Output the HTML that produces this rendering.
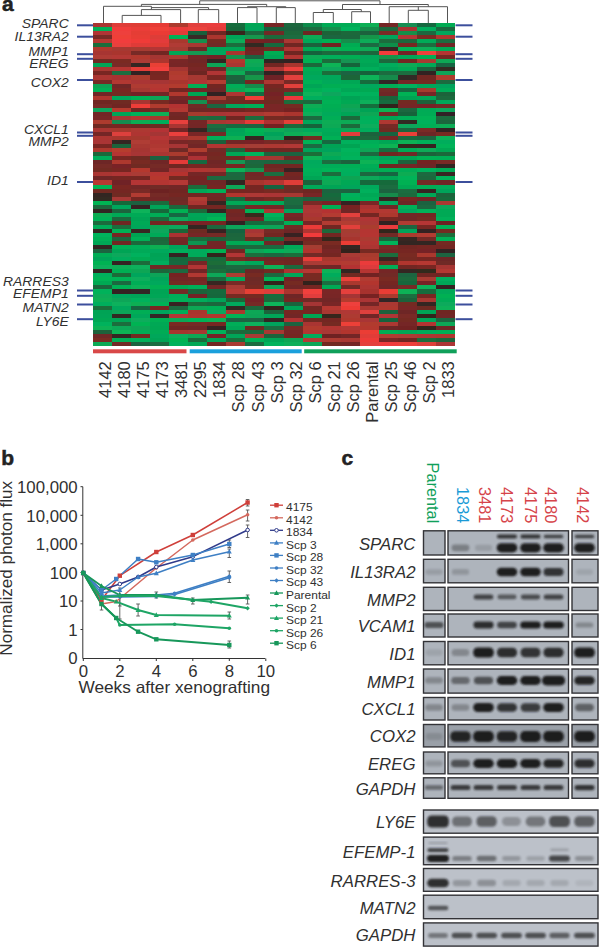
<!DOCTYPE html>
<html><head><meta charset="utf-8"><style>
html,body{margin:0;padding:0;background:#fff;width:600px;height:948px;overflow:hidden}
svg{display:block}
</style></head><body>
<svg width="600" height="948" viewBox="0 0 600 948">
<defs><filter id="hb" x="0" y="0" width="1" height="1"><feGaussianBlur stdDeviation="0.55" edgeMode="duplicate"/></filter><filter id="bl" x="-50%" y="-80%" width="200%" height="260%"><feGaussianBlur stdDeviation="1.1"/></filter></defs>
<style>
text{font-family:"Liberation Sans", sans-serif;fill:#303030}
.gi{font-style:italic;font-size:13px}
.cn{font-size:16.5px}
.ax{font-size:16px}
.ax2{font-size:16.3px}
.lg{font-size:11.5px}
.ci{font-style:italic;font-size:16px}
.cc{font-size:16px}
.pl{font-weight:bold;font-size:21px;fill:#222;stroke:#222;stroke-width:0.5}
</style>
<text x="2" y="10.7" class="pl">a</text>
<text x="1.3" y="465.2" class="pl">b</text>
<text x="341.5" y="464.8" class="pl">c</text>
<path d="M199.7 0.8L380 0.8 M199.7 0.8L199.7 4.4 M380 0.8L380 4.5 M141.4 4.4L266.7 4.4 M141.4 4.4L141.4 6.3 M103.5 6.3L151.4 6.3 M103.5 6.3L103.5 23 M151.4 7.6L208.6 7.6 M151.4 6.3L151.4 9.6 M141.4 9.6L180.6 9.6 M141.4 9.6L141.4 15.4 M180.6 9.6L180.6 23 M122.2 15.4L161 15.4 M122.2 15.4L122.2 23 M161 15.4L161 23 M208.6 7.6L208.6 9.6 M198.3 9.6L218.7 9.6 M198.3 9.6L198.3 23 M218.7 9.6L218.7 23 M266.7 4.4L266.7 6.7 M247.5 6.7L285.8 6.7 M247.5 6.7L247.5 7.6 M237.5 7.6L257 7.6 M237.5 7.6L237.5 23 M257 7.6L257 23 M285.8 6.7L285.8 7.6 M276.3 7.6L295.3 7.6 M276.3 7.6L276.3 23 M295.3 7.6L295.3 23 M342.5 4.5L428.3 4.5 M342.5 4.5L342.5 9.5 M323.3 9.5L361.3 9.5 M323.3 9.5L323.3 12.5 M313.3 12.5L333.3 12.5 M313.3 12.5L313.3 23 M333.3 12.5L333.3 23 M361.3 9.5L361.3 11.7 M351.7 11.7L370.5 11.7 M351.7 11.7L351.7 23 M370.5 11.7L370.5 23 M428.3 4.5L428.3 6.7 M389.2 6.7L447.5 6.7 M389.2 6.7L389.2 23 M447.5 6.7L447.5 23 M418.3 6.7L418.3 10.3 M408.3 10.3L428.3 10.3 M408.3 10.3L408.3 23 M428.3 10.3L428.3 23" stroke="#555" stroke-width="1" fill="none"/>
<g filter="url(#hb)"><g shape-rendering="crispEdges"><rect x="93.00" y="23.00" width="19.45" height="4.44" fill="rgb(170, 53, 51)"/><rect x="112.05" y="23.00" width="19.45" height="4.44" fill="rgb(222, 62, 56)"/><rect x="131.11" y="23.00" width="19.45" height="4.44" fill="rgb(222, 62, 54)"/><rect x="150.16" y="23.00" width="19.45" height="4.44" fill="rgb(230, 58, 54)"/><rect x="169.21" y="23.00" width="19.45" height="4.44" fill="rgb(172, 58, 47)"/><rect x="188.26" y="23.00" width="19.45" height="4.44" fill="rgb(225, 63, 61)"/><rect x="207.32" y="23.00" width="19.45" height="4.44" fill="rgb(233, 61, 62)"/><rect x="226.37" y="23.00" width="19.45" height="4.44" fill="rgb(25, 108, 60)"/><rect x="245.42" y="23.00" width="19.45" height="4.44" fill="rgb(4, 165, 85)"/><rect x="264.47" y="23.00" width="19.45" height="4.44" fill="rgb(120, 37, 37)"/><rect x="283.53" y="23.00" width="19.45" height="4.44" fill="rgb(28, 102, 62)"/><rect x="302.58" y="23.00" width="19.45" height="4.44" fill="rgb(17, 139, 75)"/><rect x="321.63" y="23.00" width="19.45" height="4.44" fill="rgb(6, 170, 85)"/><rect x="340.68" y="23.00" width="19.45" height="4.44" fill="rgb(6, 171, 85)"/><rect x="359.74" y="23.00" width="19.45" height="4.44" fill="rgb(7, 175, 85)"/><rect x="378.79" y="23.00" width="19.45" height="4.44" fill="rgb(116, 40, 39)"/><rect x="397.84" y="23.00" width="19.45" height="4.44" fill="rgb(21, 142, 82)"/><rect x="416.89" y="23.00" width="19.45" height="4.44" fill="rgb(25, 103, 64)"/><rect x="435.95" y="23.00" width="19.45" height="4.44" fill="rgb(4, 171, 82)"/><rect x="93.00" y="27.04" width="19.45" height="4.44" fill="rgb(6, 176, 88)"/><rect x="112.05" y="27.04" width="19.45" height="4.44" fill="rgb(240, 60, 59)"/><rect x="131.11" y="27.04" width="19.45" height="4.44" fill="rgb(234, 62, 57)"/><rect x="150.16" y="27.04" width="19.45" height="4.44" fill="rgb(239, 65, 57)"/><rect x="169.21" y="27.04" width="19.45" height="4.44" fill="rgb(235, 58, 59)"/><rect x="188.26" y="27.04" width="19.45" height="4.44" fill="rgb(235, 66, 60)"/><rect x="207.32" y="27.04" width="19.45" height="4.44" fill="rgb(227, 60, 59)"/><rect x="226.37" y="27.04" width="19.45" height="4.44" fill="rgb(25, 103, 59)"/><rect x="245.42" y="27.04" width="19.45" height="4.44" fill="rgb(4, 164, 90)"/><rect x="264.47" y="27.04" width="19.45" height="4.44" fill="rgb(25, 100, 61)"/><rect x="283.53" y="27.04" width="19.45" height="4.44" fill="rgb(30, 98, 61)"/><rect x="302.58" y="27.04" width="19.45" height="4.44" fill="rgb(28, 108, 64)"/><rect x="321.63" y="27.04" width="19.45" height="4.44" fill="rgb(22, 142, 77)"/><rect x="340.68" y="27.04" width="19.45" height="4.44" fill="rgb(5, 178, 92)"/><rect x="359.74" y="27.04" width="19.45" height="4.44" fill="rgb(18, 140, 75)"/><rect x="378.79" y="27.04" width="19.45" height="4.44" fill="rgb(26, 103, 62)"/><rect x="397.84" y="27.04" width="19.45" height="4.44" fill="rgb(169, 51, 49)"/><rect x="416.89" y="27.04" width="19.45" height="4.44" fill="rgb(5, 173, 92)"/><rect x="435.95" y="27.04" width="19.45" height="4.44" fill="rgb(29, 104, 63)"/><rect x="93.00" y="31.07" width="19.45" height="4.44" fill="rgb(177, 52, 53)"/><rect x="112.05" y="31.07" width="19.45" height="4.44" fill="rgb(238, 65, 60)"/><rect x="131.11" y="31.07" width="19.45" height="4.44" fill="rgb(229, 61, 54)"/><rect x="150.16" y="31.07" width="19.45" height="4.44" fill="rgb(234, 58, 54)"/><rect x="169.21" y="31.07" width="19.45" height="4.44" fill="rgb(225, 59, 56)"/><rect x="188.26" y="31.07" width="19.45" height="4.44" fill="rgb(25, 97, 58)"/><rect x="207.32" y="31.07" width="19.45" height="4.44" fill="rgb(110, 39, 33)"/><rect x="226.37" y="31.07" width="19.45" height="4.44" fill="rgb(55, 38, 31)"/><rect x="245.42" y="31.07" width="19.45" height="4.44" fill="rgb(26, 102, 60)"/><rect x="264.47" y="31.07" width="19.45" height="4.44" fill="rgb(111, 42, 40)"/><rect x="283.53" y="31.07" width="19.45" height="4.44" fill="rgb(27, 103, 58)"/><rect x="302.58" y="31.07" width="19.45" height="4.44" fill="rgb(110, 38, 35)"/><rect x="321.63" y="31.07" width="19.45" height="4.44" fill="rgb(30, 99, 57)"/><rect x="340.68" y="31.07" width="19.45" height="4.44" fill="rgb(30, 104, 58)"/><rect x="359.74" y="31.07" width="19.45" height="4.44" fill="rgb(28, 98, 62)"/><rect x="378.79" y="31.07" width="19.45" height="4.44" fill="rgb(122, 42, 38)"/><rect x="397.84" y="31.07" width="19.45" height="4.44" fill="rgb(18, 143, 74)"/><rect x="416.89" y="31.07" width="19.45" height="4.44" fill="rgb(29, 104, 64)"/><rect x="435.95" y="31.07" width="19.45" height="4.44" fill="rgb(5, 167, 91)"/><rect x="93.00" y="35.11" width="19.45" height="4.44" fill="rgb(122, 42, 39)"/><rect x="112.05" y="35.11" width="19.45" height="4.44" fill="rgb(239, 64, 55)"/><rect x="131.11" y="35.11" width="19.45" height="4.44" fill="rgb(232, 60, 53)"/><rect x="150.16" y="35.11" width="19.45" height="4.44" fill="rgb(221, 60, 55)"/><rect x="169.21" y="35.11" width="19.45" height="4.44" fill="rgb(6, 179, 87)"/><rect x="188.26" y="35.11" width="19.45" height="4.44" fill="rgb(55, 41, 37)"/><rect x="207.32" y="35.11" width="19.45" height="4.44" fill="rgb(171, 53, 47)"/><rect x="226.37" y="35.11" width="19.45" height="4.44" fill="rgb(4, 166, 89)"/><rect x="245.42" y="35.11" width="19.45" height="4.44" fill="rgb(22, 151, 77)"/><rect x="264.47" y="35.11" width="19.45" height="4.44" fill="rgb(28, 107, 58)"/><rect x="283.53" y="35.11" width="19.45" height="4.44" fill="rgb(28, 108, 64)"/><rect x="302.58" y="35.11" width="19.45" height="4.44" fill="rgb(7, 171, 84)"/><rect x="321.63" y="35.11" width="19.45" height="4.44" fill="rgb(29, 101, 64)"/><rect x="340.68" y="35.11" width="19.45" height="4.44" fill="rgb(30, 102, 61)"/><rect x="359.74" y="35.11" width="19.45" height="4.44" fill="rgb(22, 149, 74)"/><rect x="378.79" y="35.11" width="19.45" height="4.44" fill="rgb(4, 165, 92)"/><rect x="397.84" y="35.11" width="19.45" height="4.44" fill="rgb(179, 53, 52)"/><rect x="416.89" y="35.11" width="19.45" height="4.44" fill="rgb(122, 41, 35)"/><rect x="435.95" y="35.11" width="19.45" height="4.44" fill="rgb(174, 52, 46)"/><rect x="93.00" y="39.15" width="19.45" height="4.44" fill="rgb(182, 57, 50)"/><rect x="112.05" y="39.15" width="19.45" height="4.44" fill="rgb(241, 61, 61)"/><rect x="131.11" y="39.15" width="19.45" height="4.44" fill="rgb(239, 59, 55)"/><rect x="150.16" y="39.15" width="19.45" height="4.44" fill="rgb(227, 59, 58)"/><rect x="169.21" y="39.15" width="19.45" height="4.44" fill="rgb(169, 55, 47)"/><rect x="188.26" y="39.15" width="19.45" height="4.44" fill="rgb(22, 143, 77)"/><rect x="207.32" y="39.15" width="19.45" height="4.44" fill="rgb(117, 42, 36)"/><rect x="226.37" y="39.15" width="19.45" height="4.44" fill="rgb(7, 172, 88)"/><rect x="245.42" y="39.15" width="19.45" height="4.44" fill="rgb(116, 36, 36)"/><rect x="264.47" y="39.15" width="19.45" height="4.44" fill="rgb(111, 36, 39)"/><rect x="283.53" y="39.15" width="19.45" height="4.44" fill="rgb(168, 55, 51)"/><rect x="302.58" y="39.15" width="19.45" height="4.44" fill="rgb(6, 168, 88)"/><rect x="321.63" y="39.15" width="19.45" height="4.44" fill="rgb(6, 176, 83)"/><rect x="340.68" y="39.15" width="19.45" height="4.44" fill="rgb(20, 142, 75)"/><rect x="359.74" y="39.15" width="19.45" height="4.44" fill="rgb(7, 172, 88)"/><rect x="378.79" y="39.15" width="19.45" height="4.44" fill="rgb(29, 109, 61)"/><rect x="397.84" y="39.15" width="19.45" height="4.44" fill="rgb(28, 104, 62)"/><rect x="416.89" y="39.15" width="19.45" height="4.44" fill="rgb(6, 171, 88)"/><rect x="435.95" y="39.15" width="19.45" height="4.44" fill="rgb(27, 109, 63)"/><rect x="93.00" y="43.19" width="19.45" height="4.44" fill="rgb(30, 109, 59)"/><rect x="112.05" y="43.19" width="19.45" height="4.44" fill="rgb(233, 65, 60)"/><rect x="131.11" y="43.19" width="19.45" height="4.44" fill="rgb(223, 58, 57)"/><rect x="150.16" y="43.19" width="19.45" height="4.44" fill="rgb(222, 59, 54)"/><rect x="169.21" y="43.19" width="19.45" height="4.44" fill="rgb(176, 58, 53)"/><rect x="188.26" y="43.19" width="19.45" height="4.44" fill="rgb(167, 57, 51)"/><rect x="207.32" y="43.19" width="19.45" height="4.44" fill="rgb(111, 42, 40)"/><rect x="226.37" y="43.19" width="19.45" height="4.44" fill="rgb(26, 109, 61)"/><rect x="245.42" y="43.19" width="19.45" height="4.44" fill="rgb(51, 41, 36)"/><rect x="264.47" y="43.19" width="19.45" height="4.44" fill="rgb(25, 103, 62)"/><rect x="283.53" y="43.19" width="19.45" height="4.44" fill="rgb(113, 37, 35)"/><rect x="302.58" y="43.19" width="19.45" height="4.44" fill="rgb(29, 98, 62)"/><rect x="321.63" y="43.19" width="19.45" height="4.44" fill="rgb(115, 36, 35)"/><rect x="340.68" y="43.19" width="19.45" height="4.44" fill="rgb(6, 172, 83)"/><rect x="359.74" y="43.19" width="19.45" height="4.44" fill="rgb(31, 107, 66)"/><rect x="378.79" y="43.19" width="19.45" height="4.44" fill="rgb(17, 142, 73)"/><rect x="397.84" y="43.19" width="19.45" height="4.44" fill="rgb(119, 38, 34)"/><rect x="416.89" y="43.19" width="19.45" height="4.44" fill="rgb(27, 109, 64)"/><rect x="435.95" y="43.19" width="19.45" height="4.44" fill="rgb(112, 37, 39)"/><rect x="93.00" y="47.22" width="19.45" height="4.44" fill="rgb(175, 57, 46)"/><rect x="112.05" y="47.22" width="19.45" height="4.44" fill="rgb(166, 57, 49)"/><rect x="131.11" y="47.22" width="19.45" height="4.44" fill="rgb(166, 59, 51)"/><rect x="150.16" y="47.22" width="19.45" height="4.44" fill="rgb(179, 52, 52)"/><rect x="169.21" y="47.22" width="19.45" height="4.44" fill="rgb(166, 59, 49)"/><rect x="188.26" y="47.22" width="19.45" height="4.44" fill="rgb(113, 40, 39)"/><rect x="207.32" y="47.22" width="19.45" height="4.44" fill="rgb(4, 165, 88)"/><rect x="226.37" y="47.22" width="19.45" height="4.44" fill="rgb(4, 165, 84)"/><rect x="245.42" y="47.22" width="19.45" height="4.44" fill="rgb(110, 37, 35)"/><rect x="264.47" y="47.22" width="19.45" height="4.44" fill="rgb(113, 41, 35)"/><rect x="283.53" y="47.22" width="19.45" height="4.44" fill="rgb(174, 53, 48)"/><rect x="302.58" y="47.22" width="19.45" height="4.44" fill="rgb(3, 167, 82)"/><rect x="321.63" y="47.22" width="19.45" height="4.44" fill="rgb(7, 172, 84)"/><rect x="340.68" y="47.22" width="19.45" height="4.44" fill="rgb(5, 179, 83)"/><rect x="359.74" y="47.22" width="19.45" height="4.44" fill="rgb(7, 170, 87)"/><rect x="378.79" y="47.22" width="19.45" height="4.44" fill="rgb(54, 37, 34)"/><rect x="397.84" y="47.22" width="19.45" height="4.44" fill="rgb(6, 180, 86)"/><rect x="416.89" y="47.22" width="19.45" height="4.44" fill="rgb(7, 175, 89)"/><rect x="435.95" y="47.22" width="19.45" height="4.44" fill="rgb(5, 169, 83)"/><rect x="93.00" y="51.26" width="19.45" height="4.44" fill="rgb(167, 52, 51)"/><rect x="112.05" y="51.26" width="19.45" height="4.44" fill="rgb(169, 53, 46)"/><rect x="131.11" y="51.26" width="19.45" height="4.44" fill="rgb(120, 42, 38)"/><rect x="150.16" y="51.26" width="19.45" height="4.44" fill="rgb(113, 38, 35)"/><rect x="169.21" y="51.26" width="19.45" height="4.44" fill="rgb(5, 166, 87)"/><rect x="188.26" y="51.26" width="19.45" height="4.44" fill="rgb(18, 153, 82)"/><rect x="207.32" y="51.26" width="19.45" height="4.44" fill="rgb(6, 167, 93)"/><rect x="226.37" y="51.26" width="19.45" height="4.44" fill="rgb(170, 54, 46)"/><rect x="245.42" y="51.26" width="19.45" height="4.44" fill="rgb(114, 39, 37)"/><rect x="264.47" y="51.26" width="19.45" height="4.44" fill="rgb(4, 172, 82)"/><rect x="283.53" y="51.26" width="19.45" height="4.44" fill="rgb(112, 37, 36)"/><rect x="302.58" y="51.26" width="19.45" height="4.44" fill="rgb(25, 98, 60)"/><rect x="321.63" y="51.26" width="19.45" height="4.44" fill="rgb(26, 105, 62)"/><rect x="340.68" y="51.26" width="19.45" height="4.44" fill="rgb(29, 105, 63)"/><rect x="359.74" y="51.26" width="19.45" height="4.44" fill="rgb(30, 102, 60)"/><rect x="378.79" y="51.26" width="19.45" height="4.44" fill="rgb(242, 58, 59)"/><rect x="397.84" y="51.26" width="19.45" height="4.44" fill="rgb(117, 36, 39)"/><rect x="416.89" y="51.26" width="19.45" height="4.44" fill="rgb(240, 63, 59)"/><rect x="435.95" y="51.26" width="19.45" height="4.44" fill="rgb(179, 52, 50)"/><rect x="93.00" y="55.30" width="19.45" height="4.44" fill="rgb(174, 58, 52)"/><rect x="112.05" y="55.30" width="19.45" height="4.44" fill="rgb(179, 56, 53)"/><rect x="131.11" y="55.30" width="19.45" height="4.44" fill="rgb(177, 57, 47)"/><rect x="150.16" y="55.30" width="19.45" height="4.44" fill="rgb(165, 52, 48)"/><rect x="169.21" y="55.30" width="19.45" height="4.44" fill="rgb(167, 58, 50)"/><rect x="188.26" y="55.30" width="19.45" height="4.44" fill="rgb(117, 40, 38)"/><rect x="207.32" y="55.30" width="19.45" height="4.44" fill="rgb(115, 36, 39)"/><rect x="226.37" y="55.30" width="19.45" height="4.44" fill="rgb(21, 146, 78)"/><rect x="245.42" y="55.30" width="19.45" height="4.44" fill="rgb(28, 98, 64)"/><rect x="264.47" y="55.30" width="19.45" height="4.44" fill="rgb(4, 164, 85)"/><rect x="283.53" y="55.30" width="19.45" height="4.44" fill="rgb(178, 53, 51)"/><rect x="302.58" y="55.30" width="19.45" height="4.44" fill="rgb(8, 171, 86)"/><rect x="321.63" y="55.30" width="19.45" height="4.44" fill="rgb(5, 175, 90)"/><rect x="340.68" y="55.30" width="19.45" height="4.44" fill="rgb(6, 174, 83)"/><rect x="359.74" y="55.30" width="19.45" height="4.44" fill="rgb(4, 167, 90)"/><rect x="378.79" y="55.30" width="19.45" height="4.44" fill="rgb(18, 147, 73)"/><rect x="397.84" y="55.30" width="19.45" height="4.44" fill="rgb(4, 167, 89)"/><rect x="416.89" y="55.30" width="19.45" height="4.44" fill="rgb(6, 175, 85)"/><rect x="435.95" y="55.30" width="19.45" height="4.44" fill="rgb(116, 39, 36)"/><rect x="93.00" y="59.34" width="19.45" height="4.44" fill="rgb(111, 42, 34)"/><rect x="112.05" y="59.34" width="19.45" height="4.44" fill="rgb(122, 43, 33)"/><rect x="131.11" y="59.34" width="19.45" height="4.44" fill="rgb(173, 58, 53)"/><rect x="150.16" y="59.34" width="19.45" height="4.44" fill="rgb(173, 54, 47)"/><rect x="169.21" y="59.34" width="19.45" height="4.44" fill="rgb(121, 37, 37)"/><rect x="188.26" y="59.34" width="19.45" height="4.44" fill="rgb(111, 40, 40)"/><rect x="207.32" y="59.34" width="19.45" height="4.44" fill="rgb(49, 40, 34)"/><rect x="226.37" y="59.34" width="19.45" height="4.44" fill="rgb(180, 57, 47)"/><rect x="245.42" y="59.34" width="19.45" height="4.44" fill="rgb(7, 171, 82)"/><rect x="264.47" y="59.34" width="19.45" height="4.44" fill="rgb(47, 37, 33)"/><rect x="283.53" y="59.34" width="19.45" height="4.44" fill="rgb(50, 35, 32)"/><rect x="302.58" y="59.34" width="19.45" height="4.44" fill="rgb(5, 177, 82)"/><rect x="321.63" y="59.34" width="19.45" height="4.44" fill="rgb(29, 108, 58)"/><rect x="340.68" y="59.34" width="19.45" height="4.44" fill="rgb(22, 149, 82)"/><rect x="359.74" y="59.34" width="19.45" height="4.44" fill="rgb(5, 169, 86)"/><rect x="378.79" y="59.34" width="19.45" height="4.44" fill="rgb(31, 105, 60)"/><rect x="397.84" y="59.34" width="19.45" height="4.44" fill="rgb(115, 38, 33)"/><rect x="416.89" y="59.34" width="19.45" height="4.44" fill="rgb(166, 58, 48)"/><rect x="435.95" y="59.34" width="19.45" height="4.44" fill="rgb(7, 167, 85)"/><rect x="93.00" y="63.38" width="19.45" height="4.44" fill="rgb(6, 166, 86)"/><rect x="112.05" y="63.38" width="19.45" height="4.44" fill="rgb(121, 42, 39)"/><rect x="131.11" y="63.38" width="19.45" height="4.44" fill="rgb(53, 40, 36)"/><rect x="150.16" y="63.38" width="19.45" height="4.44" fill="rgb(233, 63, 54)"/><rect x="169.21" y="63.38" width="19.45" height="4.44" fill="rgb(119, 39, 38)"/><rect x="188.26" y="63.38" width="19.45" height="4.44" fill="rgb(117, 38, 33)"/><rect x="207.32" y="63.38" width="19.45" height="4.44" fill="rgb(7, 165, 87)"/><rect x="226.37" y="63.38" width="19.45" height="4.44" fill="rgb(171, 54, 51)"/><rect x="245.42" y="63.38" width="19.45" height="4.44" fill="rgb(8, 167, 89)"/><rect x="264.47" y="63.38" width="19.45" height="4.44" fill="rgb(113, 40, 36)"/><rect x="283.53" y="63.38" width="19.45" height="4.44" fill="rgb(168, 53, 47)"/><rect x="302.58" y="63.38" width="19.45" height="4.44" fill="rgb(30, 103, 59)"/><rect x="321.63" y="63.38" width="19.45" height="4.44" fill="rgb(7, 180, 87)"/><rect x="340.68" y="63.38" width="19.45" height="4.44" fill="rgb(25, 100, 58)"/><rect x="359.74" y="63.38" width="19.45" height="4.44" fill="rgb(5, 164, 85)"/><rect x="378.79" y="63.38" width="19.45" height="4.44" fill="rgb(4, 173, 92)"/><rect x="397.84" y="63.38" width="19.45" height="4.44" fill="rgb(7, 170, 87)"/><rect x="416.89" y="63.38" width="19.45" height="4.44" fill="rgb(6, 169, 86)"/><rect x="435.95" y="63.38" width="19.45" height="4.44" fill="rgb(25, 101, 66)"/><rect x="93.00" y="67.41" width="19.45" height="4.44" fill="rgb(167, 56, 51)"/><rect x="112.05" y="67.41" width="19.45" height="4.44" fill="rgb(180, 53, 48)"/><rect x="131.11" y="67.41" width="19.45" height="4.44" fill="rgb(226, 61, 57)"/><rect x="150.16" y="67.41" width="19.45" height="4.44" fill="rgb(242, 65, 61)"/><rect x="169.21" y="67.41" width="19.45" height="4.44" fill="rgb(165, 52, 51)"/><rect x="188.26" y="67.41" width="19.45" height="4.44" fill="rgb(121, 39, 37)"/><rect x="207.32" y="67.41" width="19.45" height="4.44" fill="rgb(109, 39, 39)"/><rect x="226.37" y="67.41" width="19.45" height="4.44" fill="rgb(21, 151, 82)"/><rect x="245.42" y="67.41" width="19.45" height="4.44" fill="rgb(4, 165, 84)"/><rect x="264.47" y="67.41" width="19.45" height="4.44" fill="rgb(174, 57, 53)"/><rect x="283.53" y="67.41" width="19.45" height="4.44" fill="rgb(236, 63, 60)"/><rect x="302.58" y="67.41" width="19.45" height="4.44" fill="rgb(5, 172, 82)"/><rect x="321.63" y="67.41" width="19.45" height="4.44" fill="rgb(7, 167, 92)"/><rect x="340.68" y="67.41" width="19.45" height="4.44" fill="rgb(6, 168, 83)"/><rect x="359.74" y="67.41" width="19.45" height="4.44" fill="rgb(4, 174, 90)"/><rect x="378.79" y="67.41" width="19.45" height="4.44" fill="rgb(4, 164, 88)"/><rect x="397.84" y="67.41" width="19.45" height="4.44" fill="rgb(6, 170, 84)"/><rect x="416.89" y="67.41" width="19.45" height="4.44" fill="rgb(28, 98, 60)"/><rect x="435.95" y="67.41" width="19.45" height="4.44" fill="rgb(51, 41, 34)"/><rect x="93.00" y="71.45" width="19.45" height="4.44" fill="rgb(121, 39, 35)"/><rect x="112.05" y="71.45" width="19.45" height="4.44" fill="rgb(26, 109, 63)"/><rect x="131.11" y="71.45" width="19.45" height="4.44" fill="rgb(50, 34, 33)"/><rect x="150.16" y="71.45" width="19.45" height="4.44" fill="rgb(118, 39, 35)"/><rect x="169.21" y="71.45" width="19.45" height="4.44" fill="rgb(176, 59, 47)"/><rect x="188.26" y="71.45" width="19.45" height="4.44" fill="rgb(109, 38, 36)"/><rect x="207.32" y="71.45" width="19.45" height="4.44" fill="rgb(177, 53, 52)"/><rect x="226.37" y="71.45" width="19.45" height="4.44" fill="rgb(7, 172, 84)"/><rect x="245.42" y="71.45" width="19.45" height="4.44" fill="rgb(30, 101, 64)"/><rect x="264.47" y="71.45" width="19.45" height="4.44" fill="rgb(49, 36, 35)"/><rect x="283.53" y="71.45" width="19.45" height="4.44" fill="rgb(113, 43, 36)"/><rect x="302.58" y="71.45" width="19.45" height="4.44" fill="rgb(4, 167, 87)"/><rect x="321.63" y="71.45" width="19.45" height="4.44" fill="rgb(29, 109, 58)"/><rect x="340.68" y="71.45" width="19.45" height="4.44" fill="rgb(27, 100, 66)"/><rect x="359.74" y="71.45" width="19.45" height="4.44" fill="rgb(25, 98, 58)"/><rect x="378.79" y="71.45" width="19.45" height="4.44" fill="rgb(27, 108, 65)"/><rect x="397.84" y="71.45" width="19.45" height="4.44" fill="rgb(29, 110, 65)"/><rect x="416.89" y="71.45" width="19.45" height="4.44" fill="rgb(50, 35, 36)"/><rect x="435.95" y="71.45" width="19.45" height="4.44" fill="rgb(7, 163, 89)"/><rect x="93.00" y="75.49" width="19.45" height="4.44" fill="rgb(171, 54, 48)"/><rect x="112.05" y="75.49" width="19.45" height="4.44" fill="rgb(168, 51, 48)"/><rect x="131.11" y="75.49" width="19.45" height="4.44" fill="rgb(171, 59, 47)"/><rect x="150.16" y="75.49" width="19.45" height="4.44" fill="rgb(122, 37, 36)"/><rect x="169.21" y="75.49" width="19.45" height="4.44" fill="rgb(179, 58, 49)"/><rect x="188.26" y="75.49" width="19.45" height="4.44" fill="rgb(166, 55, 48)"/><rect x="207.32" y="75.49" width="19.45" height="4.44" fill="rgb(121, 37, 36)"/><rect x="226.37" y="75.49" width="19.45" height="4.44" fill="rgb(30, 98, 61)"/><rect x="245.42" y="75.49" width="19.45" height="4.44" fill="rgb(21, 150, 73)"/><rect x="264.47" y="75.49" width="19.45" height="4.44" fill="rgb(109, 36, 39)"/><rect x="283.53" y="75.49" width="19.45" height="4.44" fill="rgb(226, 64, 61)"/><rect x="302.58" y="75.49" width="19.45" height="4.44" fill="rgb(5, 168, 92)"/><rect x="321.63" y="75.49" width="19.45" height="4.44" fill="rgb(6, 167, 90)"/><rect x="340.68" y="75.49" width="19.45" height="4.44" fill="rgb(26, 101, 57)"/><rect x="359.74" y="75.49" width="19.45" height="4.44" fill="rgb(7, 179, 89)"/><rect x="378.79" y="75.49" width="19.45" height="4.44" fill="rgb(22, 138, 75)"/><rect x="397.84" y="75.49" width="19.45" height="4.44" fill="rgb(51, 41, 37)"/><rect x="416.89" y="75.49" width="19.45" height="4.44" fill="rgb(114, 38, 36)"/><rect x="435.95" y="75.49" width="19.45" height="4.44" fill="rgb(173, 59, 47)"/><rect x="93.00" y="79.52" width="19.45" height="4.44" fill="rgb(119, 41, 39)"/><rect x="112.05" y="79.52" width="19.45" height="4.44" fill="rgb(178, 56, 48)"/><rect x="131.11" y="79.52" width="19.45" height="4.44" fill="rgb(170, 54, 52)"/><rect x="150.16" y="79.52" width="19.45" height="4.44" fill="rgb(166, 53, 52)"/><rect x="169.21" y="79.52" width="19.45" height="4.44" fill="rgb(169, 52, 46)"/><rect x="188.26" y="79.52" width="19.45" height="4.44" fill="rgb(174, 54, 53)"/><rect x="207.32" y="79.52" width="19.45" height="4.44" fill="rgb(180, 60, 48)"/><rect x="226.37" y="79.52" width="19.45" height="4.44" fill="rgb(25, 99, 61)"/><rect x="245.42" y="79.52" width="19.45" height="4.44" fill="rgb(118, 39, 35)"/><rect x="264.47" y="79.52" width="19.45" height="4.44" fill="rgb(172, 57, 51)"/><rect x="283.53" y="79.52" width="19.45" height="4.44" fill="rgb(119, 42, 38)"/><rect x="302.58" y="79.52" width="19.45" height="4.44" fill="rgb(4, 177, 85)"/><rect x="321.63" y="79.52" width="19.45" height="4.44" fill="rgb(6, 169, 90)"/><rect x="340.68" y="79.52" width="19.45" height="4.44" fill="rgb(4, 167, 85)"/><rect x="359.74" y="79.52" width="19.45" height="4.44" fill="rgb(25, 108, 62)"/><rect x="378.79" y="79.52" width="19.45" height="4.44" fill="rgb(50, 37, 37)"/><rect x="397.84" y="79.52" width="19.45" height="4.44" fill="rgb(116, 38, 39)"/><rect x="416.89" y="79.52" width="19.45" height="4.44" fill="rgb(118, 43, 34)"/><rect x="435.95" y="79.52" width="19.45" height="4.44" fill="rgb(27, 107, 65)"/><rect x="93.00" y="83.56" width="19.45" height="4.44" fill="rgb(7, 163, 85)"/><rect x="112.05" y="83.56" width="19.45" height="4.44" fill="rgb(111, 37, 40)"/><rect x="131.11" y="83.56" width="19.45" height="4.44" fill="rgb(175, 59, 48)"/><rect x="150.16" y="83.56" width="19.45" height="4.44" fill="rgb(180, 55, 48)"/><rect x="169.21" y="83.56" width="19.45" height="4.44" fill="rgb(178, 59, 46)"/><rect x="188.26" y="83.56" width="19.45" height="4.44" fill="rgb(6, 174, 84)"/><rect x="207.32" y="83.56" width="19.45" height="4.44" fill="rgb(114, 37, 34)"/><rect x="226.37" y="83.56" width="19.45" height="4.44" fill="rgb(4, 173, 89)"/><rect x="245.42" y="83.56" width="19.45" height="4.44" fill="rgb(18, 138, 76)"/><rect x="264.47" y="83.56" width="19.45" height="4.44" fill="rgb(118, 37, 35)"/><rect x="283.53" y="83.56" width="19.45" height="4.44" fill="rgb(225, 64, 58)"/><rect x="302.58" y="83.56" width="19.45" height="4.44" fill="rgb(4, 165, 86)"/><rect x="321.63" y="83.56" width="19.45" height="4.44" fill="rgb(6, 174, 83)"/><rect x="340.68" y="83.56" width="19.45" height="4.44" fill="rgb(4, 175, 87)"/><rect x="359.74" y="83.56" width="19.45" height="4.44" fill="rgb(5, 168, 92)"/><rect x="378.79" y="83.56" width="19.45" height="4.44" fill="rgb(5, 173, 86)"/><rect x="397.84" y="83.56" width="19.45" height="4.44" fill="rgb(5, 178, 93)"/><rect x="416.89" y="83.56" width="19.45" height="4.44" fill="rgb(5, 166, 90)"/><rect x="435.95" y="83.56" width="19.45" height="4.44" fill="rgb(4, 163, 92)"/><rect x="93.00" y="87.60" width="19.45" height="4.44" fill="rgb(5, 177, 86)"/><rect x="112.05" y="87.60" width="19.45" height="4.44" fill="rgb(121, 39, 34)"/><rect x="131.11" y="87.60" width="19.45" height="4.44" fill="rgb(165, 56, 51)"/><rect x="150.16" y="87.60" width="19.45" height="4.44" fill="rgb(181, 52, 50)"/><rect x="169.21" y="87.60" width="19.45" height="4.44" fill="rgb(114, 40, 34)"/><rect x="188.26" y="87.60" width="19.45" height="4.44" fill="rgb(113, 40, 39)"/><rect x="207.32" y="87.60" width="19.45" height="4.44" fill="rgb(110, 39, 39)"/><rect x="226.37" y="87.60" width="19.45" height="4.44" fill="rgb(8, 166, 83)"/><rect x="245.42" y="87.60" width="19.45" height="4.44" fill="rgb(7, 180, 87)"/><rect x="264.47" y="87.60" width="19.45" height="4.44" fill="rgb(110, 43, 36)"/><rect x="283.53" y="87.60" width="19.45" height="4.44" fill="rgb(121, 40, 39)"/><rect x="302.58" y="87.60" width="19.45" height="4.44" fill="rgb(4, 176, 84)"/><rect x="321.63" y="87.60" width="19.45" height="4.44" fill="rgb(5, 178, 91)"/><rect x="340.68" y="87.60" width="19.45" height="4.44" fill="rgb(4, 167, 86)"/><rect x="359.74" y="87.60" width="19.45" height="4.44" fill="rgb(6, 169, 83)"/><rect x="378.79" y="87.60" width="19.45" height="4.44" fill="rgb(112, 41, 39)"/><rect x="397.84" y="87.60" width="19.45" height="4.44" fill="rgb(25, 104, 64)"/><rect x="416.89" y="87.60" width="19.45" height="4.44" fill="rgb(165, 58, 46)"/><rect x="435.95" y="87.60" width="19.45" height="4.44" fill="rgb(6, 172, 89)"/><rect x="93.00" y="91.64" width="19.45" height="4.44" fill="rgb(113, 39, 37)"/><rect x="112.05" y="91.64" width="19.45" height="4.44" fill="rgb(115, 41, 36)"/><rect x="131.11" y="91.64" width="19.45" height="4.44" fill="rgb(115, 36, 37)"/><rect x="150.16" y="91.64" width="19.45" height="4.44" fill="rgb(115, 38, 38)"/><rect x="169.21" y="91.64" width="19.45" height="4.44" fill="rgb(178, 55, 47)"/><rect x="188.26" y="91.64" width="19.45" height="4.44" fill="rgb(5, 165, 83)"/><rect x="207.32" y="91.64" width="19.45" height="4.44" fill="rgb(51, 35, 33)"/><rect x="226.37" y="91.64" width="19.45" height="4.44" fill="rgb(174, 52, 51)"/><rect x="245.42" y="91.64" width="19.45" height="4.44" fill="rgb(25, 106, 64)"/><rect x="264.47" y="91.64" width="19.45" height="4.44" fill="rgb(116, 36, 37)"/><rect x="283.53" y="91.64" width="19.45" height="4.44" fill="rgb(27, 109, 58)"/><rect x="302.58" y="91.64" width="19.45" height="4.44" fill="rgb(7, 180, 90)"/><rect x="321.63" y="91.64" width="19.45" height="4.44" fill="rgb(7, 166, 93)"/><rect x="340.68" y="91.64" width="19.45" height="4.44" fill="rgb(5, 179, 92)"/><rect x="359.74" y="91.64" width="19.45" height="4.44" fill="rgb(4, 177, 92)"/><rect x="378.79" y="91.64" width="19.45" height="4.44" fill="rgb(110, 38, 38)"/><rect x="397.84" y="91.64" width="19.45" height="4.44" fill="rgb(4, 178, 85)"/><rect x="416.89" y="91.64" width="19.45" height="4.44" fill="rgb(120, 37, 37)"/><rect x="435.95" y="91.64" width="19.45" height="4.44" fill="rgb(30, 100, 59)"/><rect x="93.00" y="95.67" width="19.45" height="4.44" fill="rgb(174, 54, 46)"/><rect x="112.05" y="95.67" width="19.45" height="4.44" fill="rgb(4, 166, 92)"/><rect x="131.11" y="95.67" width="19.45" height="4.44" fill="rgb(6, 178, 84)"/><rect x="150.16" y="95.67" width="19.45" height="4.44" fill="rgb(7, 165, 88)"/><rect x="169.21" y="95.67" width="19.45" height="4.44" fill="rgb(117, 38, 39)"/><rect x="188.26" y="95.67" width="19.45" height="4.44" fill="rgb(116, 40, 39)"/><rect x="207.32" y="95.67" width="19.45" height="4.44" fill="rgb(167, 60, 51)"/><rect x="226.37" y="95.67" width="19.45" height="4.44" fill="rgb(114, 42, 35)"/><rect x="245.42" y="95.67" width="19.45" height="4.44" fill="rgb(242, 62, 56)"/><rect x="264.47" y="95.67" width="19.45" height="4.44" fill="rgb(119, 39, 34)"/><rect x="283.53" y="95.67" width="19.45" height="4.44" fill="rgb(237, 57, 60)"/><rect x="302.58" y="95.67" width="19.45" height="4.44" fill="rgb(4, 174, 93)"/><rect x="321.63" y="95.67" width="19.45" height="4.44" fill="rgb(6, 174, 85)"/><rect x="340.68" y="95.67" width="19.45" height="4.44" fill="rgb(3, 163, 84)"/><rect x="359.74" y="95.67" width="19.45" height="4.44" fill="rgb(6, 170, 88)"/><rect x="378.79" y="95.67" width="19.45" height="4.44" fill="rgb(30, 99, 59)"/><rect x="397.84" y="95.67" width="19.45" height="4.44" fill="rgb(6, 163, 82)"/><rect x="416.89" y="95.67" width="19.45" height="4.44" fill="rgb(5, 165, 86)"/><rect x="435.95" y="95.67" width="19.45" height="4.44" fill="rgb(26, 105, 62)"/><rect x="93.00" y="99.71" width="19.45" height="4.44" fill="rgb(112, 40, 36)"/><rect x="112.05" y="99.71" width="19.45" height="4.44" fill="rgb(111, 43, 35)"/><rect x="131.11" y="99.71" width="19.45" height="4.44" fill="rgb(167, 52, 51)"/><rect x="150.16" y="99.71" width="19.45" height="4.44" fill="rgb(120, 42, 36)"/><rect x="169.21" y="99.71" width="19.45" height="4.44" fill="rgb(112, 36, 38)"/><rect x="188.26" y="99.71" width="19.45" height="4.44" fill="rgb(20, 143, 79)"/><rect x="207.32" y="99.71" width="19.45" height="4.44" fill="rgb(115, 43, 38)"/><rect x="226.37" y="99.71" width="19.45" height="4.44" fill="rgb(112, 42, 33)"/><rect x="245.42" y="99.71" width="19.45" height="4.44" fill="rgb(116, 39, 35)"/><rect x="264.47" y="99.71" width="19.45" height="4.44" fill="rgb(110, 41, 33)"/><rect x="283.53" y="99.71" width="19.45" height="4.44" fill="rgb(28, 109, 58)"/><rect x="302.58" y="99.71" width="19.45" height="4.44" fill="rgb(26, 105, 62)"/><rect x="321.63" y="99.71" width="19.45" height="4.44" fill="rgb(6, 177, 84)"/><rect x="340.68" y="99.71" width="19.45" height="4.44" fill="rgb(5, 168, 83)"/><rect x="359.74" y="99.71" width="19.45" height="4.44" fill="rgb(7, 176, 90)"/><rect x="378.79" y="99.71" width="19.45" height="4.44" fill="rgb(24, 108, 64)"/><rect x="397.84" y="99.71" width="19.45" height="4.44" fill="rgb(115, 41, 36)"/><rect x="416.89" y="99.71" width="19.45" height="4.44" fill="rgb(26, 99, 59)"/><rect x="435.95" y="99.71" width="19.45" height="4.44" fill="rgb(3, 169, 90)"/><rect x="93.00" y="103.75" width="19.45" height="4.44" fill="rgb(118, 42, 38)"/><rect x="112.05" y="103.75" width="19.45" height="4.44" fill="rgb(112, 40, 36)"/><rect x="131.11" y="103.75" width="19.45" height="4.44" fill="rgb(238, 62, 55)"/><rect x="150.16" y="103.75" width="19.45" height="4.44" fill="rgb(176, 59, 47)"/><rect x="169.21" y="103.75" width="19.45" height="4.44" fill="rgb(180, 51, 48)"/><rect x="188.26" y="103.75" width="19.45" height="4.44" fill="rgb(112, 41, 40)"/><rect x="207.32" y="103.75" width="19.45" height="4.44" fill="rgb(29, 101, 65)"/><rect x="226.37" y="103.75" width="19.45" height="4.44" fill="rgb(5, 167, 92)"/><rect x="245.42" y="103.75" width="19.45" height="4.44" fill="rgb(6, 175, 89)"/><rect x="264.47" y="103.75" width="19.45" height="4.44" fill="rgb(122, 39, 39)"/><rect x="283.53" y="103.75" width="19.45" height="4.44" fill="rgb(118, 42, 36)"/><rect x="302.58" y="103.75" width="19.45" height="4.44" fill="rgb(7, 173, 85)"/><rect x="321.63" y="103.75" width="19.45" height="4.44" fill="rgb(4, 174, 83)"/><rect x="340.68" y="103.75" width="19.45" height="4.44" fill="rgb(7, 165, 82)"/><rect x="359.74" y="103.75" width="19.45" height="4.44" fill="rgb(25, 109, 60)"/><rect x="378.79" y="103.75" width="19.45" height="4.44" fill="rgb(49, 34, 30)"/><rect x="397.84" y="103.75" width="19.45" height="4.44" fill="rgb(118, 40, 38)"/><rect x="416.89" y="103.75" width="19.45" height="4.44" fill="rgb(119, 36, 37)"/><rect x="435.95" y="103.75" width="19.45" height="4.44" fill="rgb(114, 42, 39)"/><rect x="93.00" y="107.79" width="19.45" height="4.44" fill="rgb(7, 164, 92)"/><rect x="112.05" y="107.79" width="19.45" height="4.44" fill="rgb(181, 59, 46)"/><rect x="131.11" y="107.79" width="19.45" height="4.44" fill="rgb(112, 37, 33)"/><rect x="150.16" y="107.79" width="19.45" height="4.44" fill="rgb(120, 42, 37)"/><rect x="169.21" y="107.79" width="19.45" height="4.44" fill="rgb(179, 57, 48)"/><rect x="188.26" y="107.79" width="19.45" height="4.44" fill="rgb(110, 37, 38)"/><rect x="207.32" y="107.79" width="19.45" height="4.44" fill="rgb(112, 38, 36)"/><rect x="226.37" y="107.79" width="19.45" height="4.44" fill="rgb(109, 38, 35)"/><rect x="245.42" y="107.79" width="19.45" height="4.44" fill="rgb(118, 39, 35)"/><rect x="264.47" y="107.79" width="19.45" height="4.44" fill="rgb(122, 40, 39)"/><rect x="283.53" y="107.79" width="19.45" height="4.44" fill="rgb(117, 36, 36)"/><rect x="302.58" y="107.79" width="19.45" height="4.44" fill="rgb(5, 176, 86)"/><rect x="321.63" y="107.79" width="19.45" height="4.44" fill="rgb(6, 172, 84)"/><rect x="340.68" y="107.79" width="19.45" height="4.44" fill="rgb(7, 164, 91)"/><rect x="359.74" y="107.79" width="19.45" height="4.44" fill="rgb(4, 163, 84)"/><rect x="378.79" y="107.79" width="19.45" height="4.44" fill="rgb(7, 180, 82)"/><rect x="397.84" y="107.79" width="19.45" height="4.44" fill="rgb(27, 103, 64)"/><rect x="416.89" y="107.79" width="19.45" height="4.44" fill="rgb(4, 171, 86)"/><rect x="435.95" y="107.79" width="19.45" height="4.44" fill="rgb(7, 167, 92)"/><rect x="93.00" y="111.82" width="19.45" height="4.44" fill="rgb(113, 37, 38)"/><rect x="112.05" y="111.82" width="19.45" height="4.44" fill="rgb(5, 165, 89)"/><rect x="131.11" y="111.82" width="19.45" height="4.44" fill="rgb(4, 177, 90)"/><rect x="150.16" y="111.82" width="19.45" height="4.44" fill="rgb(7, 174, 86)"/><rect x="169.21" y="111.82" width="19.45" height="4.44" fill="rgb(114, 39, 39)"/><rect x="188.26" y="111.82" width="19.45" height="4.44" fill="rgb(166, 59, 46)"/><rect x="207.32" y="111.82" width="19.45" height="4.44" fill="rgb(168, 54, 53)"/><rect x="226.37" y="111.82" width="19.45" height="4.44" fill="rgb(174, 54, 53)"/><rect x="245.42" y="111.82" width="19.45" height="4.44" fill="rgb(169, 55, 50)"/><rect x="264.47" y="111.82" width="19.45" height="4.44" fill="rgb(178, 58, 51)"/><rect x="283.53" y="111.82" width="19.45" height="4.44" fill="rgb(171, 54, 47)"/><rect x="302.58" y="111.82" width="19.45" height="4.44" fill="rgb(7, 174, 90)"/><rect x="321.63" y="111.82" width="19.45" height="4.44" fill="rgb(4, 170, 90)"/><rect x="340.68" y="111.82" width="19.45" height="4.44" fill="rgb(6, 165, 87)"/><rect x="359.74" y="111.82" width="19.45" height="4.44" fill="rgb(7, 167, 84)"/><rect x="378.79" y="111.82" width="19.45" height="4.44" fill="rgb(113, 41, 39)"/><rect x="397.84" y="111.82" width="19.45" height="4.44" fill="rgb(25, 99, 59)"/><rect x="416.89" y="111.82" width="19.45" height="4.44" fill="rgb(5, 172, 84)"/><rect x="435.95" y="111.82" width="19.45" height="4.44" fill="rgb(50, 35, 37)"/><rect x="93.00" y="115.86" width="19.45" height="4.44" fill="rgb(118, 37, 40)"/><rect x="112.05" y="115.86" width="19.45" height="4.44" fill="rgb(166, 55, 53)"/><rect x="131.11" y="115.86" width="19.45" height="4.44" fill="rgb(179, 57, 49)"/><rect x="150.16" y="115.86" width="19.45" height="4.44" fill="rgb(168, 57, 46)"/><rect x="169.21" y="115.86" width="19.45" height="4.44" fill="rgb(112, 39, 33)"/><rect x="188.26" y="115.86" width="19.45" height="4.44" fill="rgb(27, 107, 63)"/><rect x="207.32" y="115.86" width="19.45" height="4.44" fill="rgb(28, 105, 61)"/><rect x="226.37" y="115.86" width="19.45" height="4.44" fill="rgb(111, 40, 36)"/><rect x="245.42" y="115.86" width="19.45" height="4.44" fill="rgb(29, 108, 61)"/><rect x="264.47" y="115.86" width="19.45" height="4.44" fill="rgb(116, 41, 36)"/><rect x="283.53" y="115.86" width="19.45" height="4.44" fill="rgb(112, 41, 39)"/><rect x="302.58" y="115.86" width="19.45" height="4.44" fill="rgb(29, 106, 65)"/><rect x="321.63" y="115.86" width="19.45" height="4.44" fill="rgb(6, 174, 87)"/><rect x="340.68" y="115.86" width="19.45" height="4.44" fill="rgb(26, 105, 58)"/><rect x="359.74" y="115.86" width="19.45" height="4.44" fill="rgb(5, 176, 90)"/><rect x="378.79" y="115.86" width="19.45" height="4.44" fill="rgb(6, 167, 87)"/><rect x="397.84" y="115.86" width="19.45" height="4.44" fill="rgb(5, 174, 87)"/><rect x="416.89" y="115.86" width="19.45" height="4.44" fill="rgb(6, 179, 84)"/><rect x="435.95" y="115.86" width="19.45" height="4.44" fill="rgb(28, 107, 61)"/><rect x="93.00" y="119.90" width="19.45" height="4.44" fill="rgb(173, 59, 46)"/><rect x="112.05" y="119.90" width="19.45" height="4.44" fill="rgb(20, 140, 80)"/><rect x="131.11" y="119.90" width="19.45" height="4.44" fill="rgb(7, 172, 83)"/><rect x="150.16" y="119.90" width="19.45" height="4.44" fill="rgb(6, 172, 90)"/><rect x="169.21" y="119.90" width="19.45" height="4.44" fill="rgb(232, 63, 60)"/><rect x="188.26" y="119.90" width="19.45" height="4.44" fill="rgb(116, 39, 40)"/><rect x="207.32" y="119.90" width="19.45" height="4.44" fill="rgb(168, 57, 49)"/><rect x="226.37" y="119.90" width="19.45" height="4.44" fill="rgb(178, 52, 53)"/><rect x="245.42" y="119.90" width="19.45" height="4.44" fill="rgb(228, 58, 56)"/><rect x="264.47" y="119.90" width="19.45" height="4.44" fill="rgb(172, 51, 49)"/><rect x="283.53" y="119.90" width="19.45" height="4.44" fill="rgb(230, 63, 56)"/><rect x="302.58" y="119.90" width="19.45" height="4.44" fill="rgb(4, 167, 90)"/><rect x="321.63" y="119.90" width="19.45" height="4.44" fill="rgb(7, 172, 84)"/><rect x="340.68" y="119.90" width="19.45" height="4.44" fill="rgb(7, 170, 84)"/><rect x="359.74" y="119.90" width="19.45" height="4.44" fill="rgb(4, 176, 91)"/><rect x="378.79" y="119.90" width="19.45" height="4.44" fill="rgb(176, 55, 50)"/><rect x="397.84" y="119.90" width="19.45" height="4.44" fill="rgb(49, 41, 33)"/><rect x="416.89" y="119.90" width="19.45" height="4.44" fill="rgb(6, 177, 91)"/><rect x="435.95" y="119.90" width="19.45" height="4.44" fill="rgb(27, 101, 62)"/><rect x="93.00" y="123.94" width="19.45" height="4.44" fill="rgb(111, 42, 35)"/><rect x="112.05" y="123.94" width="19.45" height="4.44" fill="rgb(120, 38, 36)"/><rect x="131.11" y="123.94" width="19.45" height="4.44" fill="rgb(112, 39, 34)"/><rect x="150.16" y="123.94" width="19.45" height="4.44" fill="rgb(109, 41, 35)"/><rect x="169.21" y="123.94" width="19.45" height="4.44" fill="rgb(169, 54, 49)"/><rect x="188.26" y="123.94" width="19.45" height="4.44" fill="rgb(115, 40, 38)"/><rect x="207.32" y="123.94" width="19.45" height="4.44" fill="rgb(27, 109, 65)"/><rect x="226.37" y="123.94" width="19.45" height="4.44" fill="rgb(25, 107, 65)"/><rect x="245.42" y="123.94" width="19.45" height="4.44" fill="rgb(29, 99, 64)"/><rect x="264.47" y="123.94" width="19.45" height="4.44" fill="rgb(117, 36, 33)"/><rect x="283.53" y="123.94" width="19.45" height="4.44" fill="rgb(30, 105, 59)"/><rect x="302.58" y="123.94" width="19.45" height="4.44" fill="rgb(25, 99, 59)"/><rect x="321.63" y="123.94" width="19.45" height="4.44" fill="rgb(7, 169, 84)"/><rect x="340.68" y="123.94" width="19.45" height="4.44" fill="rgb(30, 107, 59)"/><rect x="359.74" y="123.94" width="19.45" height="4.44" fill="rgb(7, 173, 91)"/><rect x="378.79" y="123.94" width="19.45" height="4.44" fill="rgb(118, 42, 38)"/><rect x="397.84" y="123.94" width="19.45" height="4.44" fill="rgb(7, 166, 90)"/><rect x="416.89" y="123.94" width="19.45" height="4.44" fill="rgb(6, 176, 87)"/><rect x="435.95" y="123.94" width="19.45" height="4.44" fill="rgb(7, 172, 85)"/><rect x="93.00" y="127.97" width="19.45" height="4.44" fill="rgb(169, 52, 49)"/><rect x="112.05" y="127.97" width="19.45" height="4.44" fill="rgb(166, 55, 47)"/><rect x="131.11" y="127.97" width="19.45" height="4.44" fill="rgb(173, 55, 50)"/><rect x="150.16" y="127.97" width="19.45" height="4.44" fill="rgb(180, 51, 52)"/><rect x="169.21" y="127.97" width="19.45" height="4.44" fill="rgb(115, 40, 38)"/><rect x="188.26" y="127.97" width="19.45" height="4.44" fill="rgb(54, 37, 33)"/><rect x="207.32" y="127.97" width="19.45" height="4.44" fill="rgb(30, 98, 63)"/><rect x="226.37" y="127.97" width="19.45" height="4.44" fill="rgb(6, 163, 89)"/><rect x="245.42" y="127.97" width="19.45" height="4.44" fill="rgb(6, 179, 86)"/><rect x="264.47" y="127.97" width="19.45" height="4.44" fill="rgb(8, 172, 87)"/><rect x="283.53" y="127.97" width="19.45" height="4.44" fill="rgb(7, 163, 90)"/><rect x="302.58" y="127.97" width="19.45" height="4.44" fill="rgb(6, 169, 91)"/><rect x="321.63" y="127.97" width="19.45" height="4.44" fill="rgb(5, 171, 88)"/><rect x="340.68" y="127.97" width="19.45" height="4.44" fill="rgb(7, 166, 87)"/><rect x="359.74" y="127.97" width="19.45" height="4.44" fill="rgb(5, 172, 91)"/><rect x="378.79" y="127.97" width="19.45" height="4.44" fill="rgb(113, 42, 36)"/><rect x="397.84" y="127.97" width="19.45" height="4.44" fill="rgb(28, 101, 62)"/><rect x="416.89" y="127.97" width="19.45" height="4.44" fill="rgb(122, 41, 39)"/><rect x="435.95" y="127.97" width="19.45" height="4.44" fill="rgb(50, 36, 32)"/><rect x="93.00" y="132.01" width="19.45" height="4.44" fill="rgb(117, 40, 38)"/><rect x="112.05" y="132.01" width="19.45" height="4.44" fill="rgb(221, 63, 61)"/><rect x="131.11" y="132.01" width="19.45" height="4.44" fill="rgb(174, 52, 48)"/><rect x="150.16" y="132.01" width="19.45" height="4.44" fill="rgb(165, 53, 53)"/><rect x="169.21" y="132.01" width="19.45" height="4.44" fill="rgb(234, 63, 60)"/><rect x="188.26" y="132.01" width="19.45" height="4.44" fill="rgb(121, 40, 37)"/><rect x="207.32" y="132.01" width="19.45" height="4.44" fill="rgb(117, 41, 37)"/><rect x="226.37" y="132.01" width="19.45" height="4.44" fill="rgb(6, 166, 89)"/><rect x="245.42" y="132.01" width="19.45" height="4.44" fill="rgb(5, 176, 83)"/><rect x="264.47" y="132.01" width="19.45" height="4.44" fill="rgb(4, 163, 90)"/><rect x="283.53" y="132.01" width="19.45" height="4.44" fill="rgb(7, 174, 86)"/><rect x="302.58" y="132.01" width="19.45" height="4.44" fill="rgb(7, 177, 88)"/><rect x="321.63" y="132.01" width="19.45" height="4.44" fill="rgb(4, 168, 87)"/><rect x="340.68" y="132.01" width="19.45" height="4.44" fill="rgb(227, 61, 59)"/><rect x="359.74" y="132.01" width="19.45" height="4.44" fill="rgb(30, 98, 62)"/><rect x="378.79" y="132.01" width="19.45" height="4.44" fill="rgb(25, 99, 64)"/><rect x="397.84" y="132.01" width="19.45" height="4.44" fill="rgb(233, 65, 57)"/><rect x="416.89" y="132.01" width="19.45" height="4.44" fill="rgb(109, 39, 37)"/><rect x="435.95" y="132.01" width="19.45" height="4.44" fill="rgb(121, 43, 36)"/><rect x="93.00" y="136.05" width="19.45" height="4.44" fill="rgb(172, 52, 51)"/><rect x="112.05" y="136.05" width="19.45" height="4.44" fill="rgb(168, 53, 46)"/><rect x="131.11" y="136.05" width="19.45" height="4.44" fill="rgb(165, 57, 47)"/><rect x="150.16" y="136.05" width="19.45" height="4.44" fill="rgb(182, 52, 52)"/><rect x="169.21" y="136.05" width="19.45" height="4.44" fill="rgb(167, 51, 51)"/><rect x="188.26" y="136.05" width="19.45" height="4.44" fill="rgb(169, 57, 47)"/><rect x="207.32" y="136.05" width="19.45" height="4.44" fill="rgb(3, 176, 90)"/><rect x="226.37" y="136.05" width="19.45" height="4.44" fill="rgb(7, 176, 83)"/><rect x="245.42" y="136.05" width="19.45" height="4.44" fill="rgb(53, 39, 33)"/><rect x="264.47" y="136.05" width="19.45" height="4.44" fill="rgb(7, 167, 93)"/><rect x="283.53" y="136.05" width="19.45" height="4.44" fill="rgb(53, 34, 30)"/><rect x="302.58" y="136.05" width="19.45" height="4.44" fill="rgb(117, 42, 34)"/><rect x="321.63" y="136.05" width="19.45" height="4.44" fill="rgb(5, 176, 84)"/><rect x="340.68" y="136.05" width="19.45" height="4.44" fill="rgb(30, 103, 58)"/><rect x="359.74" y="136.05" width="19.45" height="4.44" fill="rgb(27, 104, 61)"/><rect x="378.79" y="136.05" width="19.45" height="4.44" fill="rgb(118, 37, 39)"/><rect x="397.84" y="136.05" width="19.45" height="4.44" fill="rgb(27, 105, 63)"/><rect x="416.89" y="136.05" width="19.45" height="4.44" fill="rgb(27, 102, 64)"/><rect x="435.95" y="136.05" width="19.45" height="4.44" fill="rgb(7, 176, 88)"/><rect x="93.00" y="140.09" width="19.45" height="4.44" fill="rgb(170, 52, 53)"/><rect x="112.05" y="140.09" width="19.45" height="4.44" fill="rgb(53, 40, 32)"/><rect x="131.11" y="140.09" width="19.45" height="4.44" fill="rgb(175, 60, 52)"/><rect x="150.16" y="140.09" width="19.45" height="4.44" fill="rgb(175, 54, 49)"/><rect x="169.21" y="140.09" width="19.45" height="4.44" fill="rgb(121, 39, 38)"/><rect x="188.26" y="140.09" width="19.45" height="4.44" fill="rgb(117, 42, 39)"/><rect x="207.32" y="140.09" width="19.45" height="4.44" fill="rgb(26, 97, 59)"/><rect x="226.37" y="140.09" width="19.45" height="4.44" fill="rgb(114, 40, 39)"/><rect x="245.42" y="140.09" width="19.45" height="4.44" fill="rgb(121, 36, 39)"/><rect x="264.47" y="140.09" width="19.45" height="4.44" fill="rgb(120, 42, 37)"/><rect x="283.53" y="140.09" width="19.45" height="4.44" fill="rgb(113, 42, 39)"/><rect x="302.58" y="140.09" width="19.45" height="4.44" fill="rgb(6, 179, 86)"/><rect x="321.63" y="140.09" width="19.45" height="4.44" fill="rgb(25, 104, 64)"/><rect x="340.68" y="140.09" width="19.45" height="4.44" fill="rgb(4, 176, 92)"/><rect x="359.74" y="140.09" width="19.45" height="4.44" fill="rgb(4, 173, 89)"/><rect x="378.79" y="140.09" width="19.45" height="4.44" fill="rgb(5, 166, 85)"/><rect x="397.84" y="140.09" width="19.45" height="4.44" fill="rgb(7, 177, 87)"/><rect x="416.89" y="140.09" width="19.45" height="4.44" fill="rgb(4, 177, 90)"/><rect x="435.95" y="140.09" width="19.45" height="4.44" fill="rgb(4, 173, 92)"/><rect x="93.00" y="144.12" width="19.45" height="4.44" fill="rgb(121, 40, 36)"/><rect x="112.05" y="144.12" width="19.45" height="4.44" fill="rgb(28, 100, 59)"/><rect x="131.11" y="144.12" width="19.45" height="4.44" fill="rgb(168, 57, 48)"/><rect x="150.16" y="144.12" width="19.45" height="4.44" fill="rgb(175, 55, 50)"/><rect x="169.21" y="144.12" width="19.45" height="4.44" fill="rgb(167, 52, 53)"/><rect x="188.26" y="144.12" width="19.45" height="4.44" fill="rgb(114, 37, 37)"/><rect x="207.32" y="144.12" width="19.45" height="4.44" fill="rgb(179, 53, 50)"/><rect x="226.37" y="144.12" width="19.45" height="4.44" fill="rgb(171, 56, 46)"/><rect x="245.42" y="144.12" width="19.45" height="4.44" fill="rgb(165, 60, 52)"/><rect x="264.47" y="144.12" width="19.45" height="4.44" fill="rgb(173, 56, 48)"/><rect x="283.53" y="144.12" width="19.45" height="4.44" fill="rgb(178, 55, 53)"/><rect x="302.58" y="144.12" width="19.45" height="4.44" fill="rgb(29, 107, 66)"/><rect x="321.63" y="144.12" width="19.45" height="4.44" fill="rgb(4, 163, 84)"/><rect x="340.68" y="144.12" width="19.45" height="4.44" fill="rgb(4, 164, 83)"/><rect x="359.74" y="144.12" width="19.45" height="4.44" fill="rgb(6, 178, 87)"/><rect x="378.79" y="144.12" width="19.45" height="4.44" fill="rgb(7, 179, 83)"/><rect x="397.84" y="144.12" width="19.45" height="4.44" fill="rgb(52, 37, 31)"/><rect x="416.89" y="144.12" width="19.45" height="4.44" fill="rgb(55, 36, 34)"/><rect x="435.95" y="144.12" width="19.45" height="4.44" fill="rgb(6, 179, 89)"/><rect x="93.00" y="148.16" width="19.45" height="4.44" fill="rgb(172, 55, 47)"/><rect x="112.05" y="148.16" width="19.45" height="4.44" fill="rgb(182, 60, 47)"/><rect x="131.11" y="148.16" width="19.45" height="4.44" fill="rgb(165, 53, 48)"/><rect x="150.16" y="148.16" width="19.45" height="4.44" fill="rgb(181, 59, 52)"/><rect x="169.21" y="148.16" width="19.45" height="4.44" fill="rgb(110, 42, 38)"/><rect x="188.26" y="148.16" width="19.45" height="4.44" fill="rgb(176, 60, 46)"/><rect x="207.32" y="148.16" width="19.45" height="4.44" fill="rgb(111, 41, 40)"/><rect x="226.37" y="148.16" width="19.45" height="4.44" fill="rgb(29, 101, 62)"/><rect x="245.42" y="148.16" width="19.45" height="4.44" fill="rgb(119, 37, 35)"/><rect x="264.47" y="148.16" width="19.45" height="4.44" fill="rgb(112, 37, 36)"/><rect x="283.53" y="148.16" width="19.45" height="4.44" fill="rgb(111, 38, 34)"/><rect x="302.58" y="148.16" width="19.45" height="4.44" fill="rgb(6, 163, 90)"/><rect x="321.63" y="148.16" width="19.45" height="4.44" fill="rgb(4, 163, 92)"/><rect x="340.68" y="148.16" width="19.45" height="4.44" fill="rgb(4, 179, 91)"/><rect x="359.74" y="148.16" width="19.45" height="4.44" fill="rgb(7, 165, 87)"/><rect x="378.79" y="148.16" width="19.45" height="4.44" fill="rgb(25, 109, 65)"/><rect x="397.84" y="148.16" width="19.45" height="4.44" fill="rgb(6, 171, 86)"/><rect x="416.89" y="148.16" width="19.45" height="4.44" fill="rgb(7, 171, 89)"/><rect x="435.95" y="148.16" width="19.45" height="4.44" fill="rgb(4, 167, 83)"/><rect x="93.00" y="152.20" width="19.45" height="4.44" fill="rgb(29, 104, 58)"/><rect x="112.05" y="152.20" width="19.45" height="4.44" fill="rgb(180, 54, 49)"/><rect x="131.11" y="152.20" width="19.45" height="4.44" fill="rgb(167, 54, 52)"/><rect x="150.16" y="152.20" width="19.45" height="4.44" fill="rgb(171, 53, 49)"/><rect x="169.21" y="152.20" width="19.45" height="4.44" fill="rgb(170, 59, 46)"/><rect x="188.26" y="152.20" width="19.45" height="4.44" fill="rgb(122, 36, 39)"/><rect x="207.32" y="152.20" width="19.45" height="4.44" fill="rgb(118, 37, 36)"/><rect x="226.37" y="152.20" width="19.45" height="4.44" fill="rgb(5, 167, 84)"/><rect x="245.42" y="152.20" width="19.45" height="4.44" fill="rgb(5, 180, 93)"/><rect x="264.47" y="152.20" width="19.45" height="4.44" fill="rgb(30, 99, 60)"/><rect x="283.53" y="152.20" width="19.45" height="4.44" fill="rgb(30, 98, 64)"/><rect x="302.58" y="152.20" width="19.45" height="4.44" fill="rgb(26, 109, 57)"/><rect x="321.63" y="152.20" width="19.45" height="4.44" fill="rgb(7, 169, 84)"/><rect x="340.68" y="152.20" width="19.45" height="4.44" fill="rgb(3, 177, 88)"/><rect x="359.74" y="152.20" width="19.45" height="4.44" fill="rgb(26, 103, 65)"/><rect x="378.79" y="152.20" width="19.45" height="4.44" fill="rgb(112, 40, 34)"/><rect x="397.84" y="152.20" width="19.45" height="4.44" fill="rgb(111, 41, 38)"/><rect x="416.89" y="152.20" width="19.45" height="4.44" fill="rgb(26, 98, 58)"/><rect x="435.95" y="152.20" width="19.45" height="4.44" fill="rgb(28, 103, 59)"/><rect x="93.00" y="156.24" width="19.45" height="4.44" fill="rgb(4, 173, 90)"/><rect x="112.05" y="156.24" width="19.45" height="4.44" fill="rgb(120, 40, 34)"/><rect x="131.11" y="156.24" width="19.45" height="4.44" fill="rgb(110, 41, 36)"/><rect x="150.16" y="156.24" width="19.45" height="4.44" fill="rgb(29, 98, 64)"/><rect x="169.21" y="156.24" width="19.45" height="4.44" fill="rgb(113, 42, 39)"/><rect x="188.26" y="156.24" width="19.45" height="4.44" fill="rgb(173, 51, 53)"/><rect x="207.32" y="156.24" width="19.45" height="4.44" fill="rgb(115, 42, 35)"/><rect x="226.37" y="156.24" width="19.45" height="4.44" fill="rgb(111, 42, 36)"/><rect x="245.42" y="156.24" width="19.45" height="4.44" fill="rgb(168, 54, 50)"/><rect x="264.47" y="156.24" width="19.45" height="4.44" fill="rgb(165, 56, 49)"/><rect x="283.53" y="156.24" width="19.45" height="4.44" fill="rgb(116, 37, 38)"/><rect x="302.58" y="156.24" width="19.45" height="4.44" fill="rgb(7, 178, 86)"/><rect x="321.63" y="156.24" width="19.45" height="4.44" fill="rgb(6, 169, 90)"/><rect x="340.68" y="156.24" width="19.45" height="4.44" fill="rgb(4, 178, 92)"/><rect x="359.74" y="156.24" width="19.45" height="4.44" fill="rgb(5, 172, 88)"/><rect x="378.79" y="156.24" width="19.45" height="4.44" fill="rgb(6, 163, 93)"/><rect x="397.84" y="156.24" width="19.45" height="4.44" fill="rgb(4, 166, 83)"/><rect x="416.89" y="156.24" width="19.45" height="4.44" fill="rgb(4, 177, 82)"/><rect x="435.95" y="156.24" width="19.45" height="4.44" fill="rgb(4, 175, 84)"/><rect x="93.00" y="160.27" width="19.45" height="4.44" fill="rgb(109, 40, 37)"/><rect x="112.05" y="160.27" width="19.45" height="4.44" fill="rgb(174, 57, 46)"/><rect x="131.11" y="160.27" width="19.45" height="4.44" fill="rgb(120, 41, 33)"/><rect x="150.16" y="160.27" width="19.45" height="4.44" fill="rgb(111, 39, 37)"/><rect x="169.21" y="160.27" width="19.45" height="4.44" fill="rgb(227, 58, 57)"/><rect x="188.26" y="160.27" width="19.45" height="4.44" fill="rgb(25, 105, 65)"/><rect x="207.32" y="160.27" width="19.45" height="4.44" fill="rgb(111, 40, 38)"/><rect x="226.37" y="160.27" width="19.45" height="4.44" fill="rgb(18, 151, 82)"/><rect x="245.42" y="160.27" width="19.45" height="4.44" fill="rgb(27, 103, 65)"/><rect x="264.47" y="160.27" width="19.45" height="4.44" fill="rgb(28, 102, 65)"/><rect x="283.53" y="160.27" width="19.45" height="4.44" fill="rgb(29, 102, 59)"/><rect x="302.58" y="160.27" width="19.45" height="4.44" fill="rgb(5, 170, 93)"/><rect x="321.63" y="160.27" width="19.45" height="4.44" fill="rgb(29, 109, 64)"/><rect x="340.68" y="160.27" width="19.45" height="4.44" fill="rgb(30, 98, 62)"/><rect x="359.74" y="160.27" width="19.45" height="4.44" fill="rgb(8, 179, 85)"/><rect x="378.79" y="160.27" width="19.45" height="4.44" fill="rgb(5, 174, 86)"/><rect x="397.84" y="160.27" width="19.45" height="4.44" fill="rgb(28, 98, 61)"/><rect x="416.89" y="160.27" width="19.45" height="4.44" fill="rgb(116, 36, 34)"/><rect x="435.95" y="160.27" width="19.45" height="4.44" fill="rgb(122, 41, 40)"/><rect x="93.00" y="164.31" width="19.45" height="4.44" fill="rgb(117, 42, 39)"/><rect x="112.05" y="164.31" width="19.45" height="4.44" fill="rgb(121, 36, 37)"/><rect x="131.11" y="164.31" width="19.45" height="4.44" fill="rgb(112, 41, 35)"/><rect x="150.16" y="164.31" width="19.45" height="4.44" fill="rgb(116, 43, 37)"/><rect x="169.21" y="164.31" width="19.45" height="4.44" fill="rgb(112, 40, 36)"/><rect x="188.26" y="164.31" width="19.45" height="4.44" fill="rgb(121, 38, 35)"/><rect x="207.32" y="164.31" width="19.45" height="4.44" fill="rgb(117, 37, 37)"/><rect x="226.37" y="164.31" width="19.45" height="4.44" fill="rgb(121, 40, 35)"/><rect x="245.42" y="164.31" width="19.45" height="4.44" fill="rgb(27, 104, 58)"/><rect x="264.47" y="164.31" width="19.45" height="4.44" fill="rgb(111, 37, 35)"/><rect x="283.53" y="164.31" width="19.45" height="4.44" fill="rgb(114, 38, 35)"/><rect x="302.58" y="164.31" width="19.45" height="4.44" fill="rgb(4, 172, 91)"/><rect x="321.63" y="164.31" width="19.45" height="4.44" fill="rgb(6, 173, 89)"/><rect x="340.68" y="164.31" width="19.45" height="4.44" fill="rgb(4, 175, 87)"/><rect x="359.74" y="164.31" width="19.45" height="4.44" fill="rgb(6, 173, 87)"/><rect x="378.79" y="164.31" width="19.45" height="4.44" fill="rgb(113, 38, 35)"/><rect x="397.84" y="164.31" width="19.45" height="4.44" fill="rgb(116, 39, 37)"/><rect x="416.89" y="164.31" width="19.45" height="4.44" fill="rgb(109, 38, 39)"/><rect x="435.95" y="164.31" width="19.45" height="4.44" fill="rgb(49, 38, 33)"/><rect x="93.00" y="168.35" width="19.45" height="4.44" fill="rgb(113, 43, 35)"/><rect x="112.05" y="168.35" width="19.45" height="4.44" fill="rgb(119, 37, 34)"/><rect x="131.11" y="168.35" width="19.45" height="4.44" fill="rgb(180, 55, 46)"/><rect x="150.16" y="168.35" width="19.45" height="4.44" fill="rgb(114, 39, 38)"/><rect x="169.21" y="168.35" width="19.45" height="4.44" fill="rgb(167, 53, 53)"/><rect x="188.26" y="168.35" width="19.45" height="4.44" fill="rgb(178, 53, 48)"/><rect x="207.32" y="168.35" width="19.45" height="4.44" fill="rgb(171, 57, 50)"/><rect x="226.37" y="168.35" width="19.45" height="4.44" fill="rgb(7, 177, 88)"/><rect x="245.42" y="168.35" width="19.45" height="4.44" fill="rgb(21, 149, 80)"/><rect x="264.47" y="168.35" width="19.45" height="4.44" fill="rgb(115, 42, 38)"/><rect x="283.53" y="168.35" width="19.45" height="4.44" fill="rgb(55, 35, 36)"/><rect x="302.58" y="168.35" width="19.45" height="4.44" fill="rgb(3, 176, 88)"/><rect x="321.63" y="168.35" width="19.45" height="4.44" fill="rgb(5, 180, 88)"/><rect x="340.68" y="168.35" width="19.45" height="4.44" fill="rgb(5, 176, 92)"/><rect x="359.74" y="168.35" width="19.45" height="4.44" fill="rgb(6, 169, 87)"/><rect x="378.79" y="168.35" width="19.45" height="4.44" fill="rgb(5, 175, 85)"/><rect x="397.84" y="168.35" width="19.45" height="4.44" fill="rgb(5, 172, 86)"/><rect x="416.89" y="168.35" width="19.45" height="4.44" fill="rgb(5, 177, 91)"/><rect x="435.95" y="168.35" width="19.45" height="4.44" fill="rgb(5, 171, 84)"/><rect x="93.00" y="172.39" width="19.45" height="4.44" fill="rgb(170, 53, 50)"/><rect x="112.05" y="172.39" width="19.45" height="4.44" fill="rgb(175, 52, 53)"/><rect x="131.11" y="172.39" width="19.45" height="4.44" fill="rgb(170, 58, 52)"/><rect x="150.16" y="172.39" width="19.45" height="4.44" fill="rgb(182, 53, 49)"/><rect x="169.21" y="172.39" width="19.45" height="4.44" fill="rgb(181, 51, 46)"/><rect x="188.26" y="172.39" width="19.45" height="4.44" fill="rgb(116, 39, 39)"/><rect x="207.32" y="172.39" width="19.45" height="4.44" fill="rgb(119, 40, 40)"/><rect x="226.37" y="172.39" width="19.45" height="4.44" fill="rgb(28, 104, 63)"/><rect x="245.42" y="172.39" width="19.45" height="4.44" fill="rgb(114, 38, 37)"/><rect x="264.47" y="172.39" width="19.45" height="4.44" fill="rgb(27, 109, 63)"/><rect x="283.53" y="172.39" width="19.45" height="4.44" fill="rgb(116, 37, 36)"/><rect x="302.58" y="172.39" width="19.45" height="4.44" fill="rgb(5, 173, 88)"/><rect x="321.63" y="172.39" width="19.45" height="4.44" fill="rgb(30, 109, 61)"/><rect x="340.68" y="172.39" width="19.45" height="4.44" fill="rgb(5, 174, 93)"/><rect x="359.74" y="172.39" width="19.45" height="4.44" fill="rgb(27, 104, 64)"/><rect x="378.79" y="172.39" width="19.45" height="4.44" fill="rgb(25, 101, 66)"/><rect x="397.84" y="172.39" width="19.45" height="4.44" fill="rgb(7, 172, 83)"/><rect x="416.89" y="172.39" width="19.45" height="4.44" fill="rgb(30, 106, 64)"/><rect x="435.95" y="172.39" width="19.45" height="4.44" fill="rgb(55, 40, 33)"/><rect x="93.00" y="176.42" width="19.45" height="4.44" fill="rgb(111, 38, 37)"/><rect x="112.05" y="176.42" width="19.45" height="4.44" fill="rgb(116, 37, 34)"/><rect x="131.11" y="176.42" width="19.45" height="4.44" fill="rgb(117, 40, 35)"/><rect x="150.16" y="176.42" width="19.45" height="4.44" fill="rgb(182, 57, 46)"/><rect x="169.21" y="176.42" width="19.45" height="4.44" fill="rgb(114, 42, 35)"/><rect x="188.26" y="176.42" width="19.45" height="4.44" fill="rgb(118, 36, 35)"/><rect x="207.32" y="176.42" width="19.45" height="4.44" fill="rgb(30, 105, 63)"/><rect x="226.37" y="176.42" width="19.45" height="4.44" fill="rgb(26, 103, 62)"/><rect x="245.42" y="176.42" width="19.45" height="4.44" fill="rgb(112, 41, 37)"/><rect x="264.47" y="176.42" width="19.45" height="4.44" fill="rgb(122, 40, 36)"/><rect x="283.53" y="176.42" width="19.45" height="4.44" fill="rgb(111, 37, 38)"/><rect x="302.58" y="176.42" width="19.45" height="4.44" fill="rgb(4, 165, 84)"/><rect x="321.63" y="176.42" width="19.45" height="4.44" fill="rgb(6, 177, 89)"/><rect x="340.68" y="176.42" width="19.45" height="4.44" fill="rgb(7, 164, 82)"/><rect x="359.74" y="176.42" width="19.45" height="4.44" fill="rgb(7, 168, 90)"/><rect x="378.79" y="176.42" width="19.45" height="4.44" fill="rgb(5, 166, 85)"/><rect x="397.84" y="176.42" width="19.45" height="4.44" fill="rgb(4, 179, 88)"/><rect x="416.89" y="176.42" width="19.45" height="4.44" fill="rgb(27, 103, 60)"/><rect x="435.95" y="176.42" width="19.45" height="4.44" fill="rgb(4, 178, 88)"/><rect x="93.00" y="180.46" width="19.45" height="4.44" fill="rgb(182, 55, 50)"/><rect x="112.05" y="180.46" width="19.45" height="4.44" fill="rgb(112, 36, 39)"/><rect x="131.11" y="180.46" width="19.45" height="4.44" fill="rgb(180, 54, 53)"/><rect x="150.16" y="180.46" width="19.45" height="4.44" fill="rgb(179, 54, 50)"/><rect x="169.21" y="180.46" width="19.45" height="4.44" fill="rgb(182, 55, 53)"/><rect x="188.26" y="180.46" width="19.45" height="4.44" fill="rgb(112, 39, 38)"/><rect x="207.32" y="180.46" width="19.45" height="4.44" fill="rgb(112, 38, 39)"/><rect x="226.37" y="180.46" width="19.45" height="4.44" fill="rgb(51, 40, 32)"/><rect x="245.42" y="180.46" width="19.45" height="4.44" fill="rgb(168, 54, 47)"/><rect x="264.47" y="180.46" width="19.45" height="4.44" fill="rgb(182, 54, 50)"/><rect x="283.53" y="180.46" width="19.45" height="4.44" fill="rgb(223, 62, 57)"/><rect x="302.58" y="180.46" width="19.45" height="4.44" fill="rgb(27, 98, 58)"/><rect x="321.63" y="180.46" width="19.45" height="4.44" fill="rgb(7, 169, 85)"/><rect x="340.68" y="180.46" width="19.45" height="4.44" fill="rgb(4, 168, 85)"/><rect x="359.74" y="180.46" width="19.45" height="4.44" fill="rgb(25, 105, 60)"/><rect x="378.79" y="180.46" width="19.45" height="4.44" fill="rgb(25, 106, 58)"/><rect x="397.84" y="180.46" width="19.45" height="4.44" fill="rgb(4, 177, 83)"/><rect x="416.89" y="180.46" width="19.45" height="4.44" fill="rgb(115, 42, 39)"/><rect x="435.95" y="180.46" width="19.45" height="4.44" fill="rgb(111, 38, 38)"/><rect x="93.00" y="184.50" width="19.45" height="4.44" fill="rgb(5, 180, 84)"/><rect x="112.05" y="184.50" width="19.45" height="4.44" fill="rgb(121, 40, 35)"/><rect x="131.11" y="184.50" width="19.45" height="4.44" fill="rgb(115, 37, 38)"/><rect x="150.16" y="184.50" width="19.45" height="4.44" fill="rgb(112, 42, 37)"/><rect x="169.21" y="184.50" width="19.45" height="4.44" fill="rgb(114, 38, 37)"/><rect x="188.26" y="184.50" width="19.45" height="4.44" fill="rgb(26, 108, 58)"/><rect x="207.32" y="184.50" width="19.45" height="4.44" fill="rgb(116, 40, 35)"/><rect x="226.37" y="184.50" width="19.45" height="4.44" fill="rgb(7, 169, 89)"/><rect x="245.42" y="184.50" width="19.45" height="4.44" fill="rgb(116, 38, 36)"/><rect x="264.47" y="184.50" width="19.45" height="4.44" fill="rgb(25, 100, 65)"/><rect x="283.53" y="184.50" width="19.45" height="4.44" fill="rgb(113, 41, 34)"/><rect x="302.58" y="184.50" width="19.45" height="4.44" fill="rgb(6, 169, 88)"/><rect x="321.63" y="184.50" width="19.45" height="4.44" fill="rgb(5, 164, 85)"/><rect x="340.68" y="184.50" width="19.45" height="4.44" fill="rgb(4, 165, 90)"/><rect x="359.74" y="184.50" width="19.45" height="4.44" fill="rgb(5, 170, 92)"/><rect x="378.79" y="184.50" width="19.45" height="4.44" fill="rgb(29, 108, 65)"/><rect x="397.84" y="184.50" width="19.45" height="4.44" fill="rgb(4, 168, 82)"/><rect x="416.89" y="184.50" width="19.45" height="4.44" fill="rgb(6, 174, 86)"/><rect x="435.95" y="184.50" width="19.45" height="4.44" fill="rgb(5, 174, 90)"/><rect x="93.00" y="188.54" width="19.45" height="4.44" fill="rgb(112, 42, 35)"/><rect x="112.05" y="188.54" width="19.45" height="4.44" fill="rgb(117, 37, 34)"/><rect x="131.11" y="188.54" width="19.45" height="4.44" fill="rgb(121, 41, 38)"/><rect x="150.16" y="188.54" width="19.45" height="4.44" fill="rgb(109, 36, 34)"/><rect x="169.21" y="188.54" width="19.45" height="4.44" fill="rgb(112, 38, 36)"/><rect x="188.26" y="188.54" width="19.45" height="4.44" fill="rgb(3, 168, 89)"/><rect x="207.32" y="188.54" width="19.45" height="4.44" fill="rgb(4, 177, 88)"/><rect x="226.37" y="188.54" width="19.45" height="4.44" fill="rgb(118, 38, 36)"/><rect x="245.42" y="188.54" width="19.45" height="4.44" fill="rgb(118, 38, 33)"/><rect x="264.47" y="188.54" width="19.45" height="4.44" fill="rgb(120, 41, 35)"/><rect x="283.53" y="188.54" width="19.45" height="4.44" fill="rgb(110, 42, 37)"/><rect x="302.58" y="188.54" width="19.45" height="4.44" fill="rgb(110, 38, 34)"/><rect x="321.63" y="188.54" width="19.45" height="4.44" fill="rgb(29, 100, 65)"/><rect x="340.68" y="188.54" width="19.45" height="4.44" fill="rgb(29, 98, 63)"/><rect x="359.74" y="188.54" width="19.45" height="4.44" fill="rgb(5, 176, 91)"/><rect x="378.79" y="188.54" width="19.45" height="4.44" fill="rgb(26, 99, 65)"/><rect x="397.84" y="188.54" width="19.45" height="4.44" fill="rgb(27, 109, 63)"/><rect x="416.89" y="188.54" width="19.45" height="4.44" fill="rgb(53, 40, 34)"/><rect x="435.95" y="188.54" width="19.45" height="4.44" fill="rgb(5, 164, 90)"/><rect x="93.00" y="192.57" width="19.45" height="4.44" fill="rgb(51, 38, 36)"/><rect x="112.05" y="192.57" width="19.45" height="4.44" fill="rgb(111, 41, 33)"/><rect x="131.11" y="192.57" width="19.45" height="4.44" fill="rgb(177, 58, 48)"/><rect x="150.16" y="192.57" width="19.45" height="4.44" fill="rgb(116, 43, 37)"/><rect x="169.21" y="192.57" width="19.45" height="4.44" fill="rgb(116, 38, 33)"/><rect x="188.26" y="192.57" width="19.45" height="4.44" fill="rgb(114, 39, 34)"/><rect x="207.32" y="192.57" width="19.45" height="4.44" fill="rgb(113, 37, 38)"/><rect x="226.37" y="192.57" width="19.45" height="4.44" fill="rgb(177, 53, 47)"/><rect x="245.42" y="192.57" width="19.45" height="4.44" fill="rgb(174, 55, 53)"/><rect x="264.47" y="192.57" width="19.45" height="4.44" fill="rgb(171, 54, 53)"/><rect x="283.53" y="192.57" width="19.45" height="4.44" fill="rgb(167, 56, 48)"/><rect x="302.58" y="192.57" width="19.45" height="4.44" fill="rgb(120, 40, 38)"/><rect x="321.63" y="192.57" width="19.45" height="4.44" fill="rgb(25, 106, 62)"/><rect x="340.68" y="192.57" width="19.45" height="4.44" fill="rgb(5, 176, 91)"/><rect x="359.74" y="192.57" width="19.45" height="4.44" fill="rgb(4, 168, 86)"/><rect x="378.79" y="192.57" width="19.45" height="4.44" fill="rgb(18, 139, 75)"/><rect x="397.84" y="192.57" width="19.45" height="4.44" fill="rgb(26, 106, 61)"/><rect x="416.89" y="192.57" width="19.45" height="4.44" fill="rgb(4, 168, 87)"/><rect x="435.95" y="192.57" width="19.45" height="4.44" fill="rgb(27, 99, 58)"/><rect x="93.00" y="196.61" width="19.45" height="4.44" fill="rgb(48, 41, 35)"/><rect x="112.05" y="196.61" width="19.45" height="4.44" fill="rgb(166, 57, 53)"/><rect x="131.11" y="196.61" width="19.45" height="4.44" fill="rgb(116, 37, 36)"/><rect x="150.16" y="196.61" width="19.45" height="4.44" fill="rgb(115, 37, 37)"/><rect x="169.21" y="196.61" width="19.45" height="4.44" fill="rgb(109, 42, 37)"/><rect x="188.26" y="196.61" width="19.45" height="4.44" fill="rgb(176, 59, 51)"/><rect x="207.32" y="196.61" width="19.45" height="4.44" fill="rgb(112, 38, 34)"/><rect x="226.37" y="196.61" width="19.45" height="4.44" fill="rgb(25, 107, 65)"/><rect x="245.42" y="196.61" width="19.45" height="4.44" fill="rgb(113, 37, 37)"/><rect x="264.47" y="196.61" width="19.45" height="4.44" fill="rgb(120, 43, 34)"/><rect x="283.53" y="196.61" width="19.45" height="4.44" fill="rgb(29, 108, 64)"/><rect x="302.58" y="196.61" width="19.45" height="4.44" fill="rgb(26, 100, 64)"/><rect x="321.63" y="196.61" width="19.45" height="4.44" fill="rgb(26, 102, 62)"/><rect x="340.68" y="196.61" width="19.45" height="4.44" fill="rgb(5, 177, 85)"/><rect x="359.74" y="196.61" width="19.45" height="4.44" fill="rgb(3, 173, 89)"/><rect x="378.79" y="196.61" width="19.45" height="4.44" fill="rgb(54, 39, 36)"/><rect x="397.84" y="196.61" width="19.45" height="4.44" fill="rgb(121, 39, 36)"/><rect x="416.89" y="196.61" width="19.45" height="4.44" fill="rgb(111, 38, 37)"/><rect x="435.95" y="196.61" width="19.45" height="4.44" fill="rgb(25, 106, 59)"/><rect x="93.00" y="200.65" width="19.45" height="4.44" fill="rgb(5, 180, 83)"/><rect x="112.05" y="200.65" width="19.45" height="4.44" fill="rgb(25, 103, 59)"/><rect x="131.11" y="200.65" width="19.45" height="4.44" fill="rgb(29, 97, 65)"/><rect x="150.16" y="200.65" width="19.45" height="4.44" fill="rgb(30, 107, 61)"/><rect x="169.21" y="200.65" width="19.45" height="4.44" fill="rgb(113, 41, 37)"/><rect x="188.26" y="200.65" width="19.45" height="4.44" fill="rgb(172, 54, 49)"/><rect x="207.32" y="200.65" width="19.45" height="4.44" fill="rgb(53, 40, 36)"/><rect x="226.37" y="200.65" width="19.45" height="4.44" fill="rgb(4, 168, 87)"/><rect x="245.42" y="200.65" width="19.45" height="4.44" fill="rgb(6, 169, 84)"/><rect x="264.47" y="200.65" width="19.45" height="4.44" fill="rgb(4, 168, 87)"/><rect x="283.53" y="200.65" width="19.45" height="4.44" fill="rgb(30, 108, 65)"/><rect x="302.58" y="200.65" width="19.45" height="4.44" fill="rgb(122, 43, 37)"/><rect x="321.63" y="200.65" width="19.45" height="4.44" fill="rgb(120, 36, 38)"/><rect x="340.68" y="200.65" width="19.45" height="4.44" fill="rgb(52, 36, 34)"/><rect x="359.74" y="200.65" width="19.45" height="4.44" fill="rgb(121, 39, 38)"/><rect x="378.79" y="200.65" width="19.45" height="4.44" fill="rgb(5, 169, 92)"/><rect x="397.84" y="200.65" width="19.45" height="4.44" fill="rgb(109, 37, 38)"/><rect x="416.89" y="200.65" width="19.45" height="4.44" fill="rgb(27, 98, 63)"/><rect x="435.95" y="200.65" width="19.45" height="4.44" fill="rgb(171, 56, 49)"/><rect x="93.00" y="204.69" width="19.45" height="4.44" fill="rgb(28, 104, 61)"/><rect x="112.05" y="204.69" width="19.45" height="4.44" fill="rgb(4, 166, 92)"/><rect x="131.11" y="204.69" width="19.45" height="4.44" fill="rgb(52, 35, 36)"/><rect x="150.16" y="204.69" width="19.45" height="4.44" fill="rgb(4, 164, 88)"/><rect x="169.21" y="204.69" width="19.45" height="4.44" fill="rgb(26, 103, 62)"/><rect x="188.26" y="204.69" width="19.45" height="4.44" fill="rgb(112, 40, 34)"/><rect x="207.32" y="204.69" width="19.45" height="4.44" fill="rgb(116, 40, 34)"/><rect x="226.37" y="204.69" width="19.45" height="4.44" fill="rgb(27, 98, 61)"/><rect x="245.42" y="204.69" width="19.45" height="4.44" fill="rgb(120, 40, 38)"/><rect x="264.47" y="204.69" width="19.45" height="4.44" fill="rgb(119, 37, 40)"/><rect x="283.53" y="204.69" width="19.45" height="4.44" fill="rgb(29, 99, 64)"/><rect x="302.58" y="204.69" width="19.45" height="4.44" fill="rgb(172, 53, 53)"/><rect x="321.63" y="204.69" width="19.45" height="4.44" fill="rgb(6, 176, 84)"/><rect x="340.68" y="204.69" width="19.45" height="4.44" fill="rgb(119, 36, 35)"/><rect x="359.74" y="204.69" width="19.45" height="4.44" fill="rgb(171, 51, 50)"/><rect x="378.79" y="204.69" width="19.45" height="4.44" fill="rgb(112, 38, 38)"/><rect x="397.84" y="204.69" width="19.45" height="4.44" fill="rgb(5, 178, 89)"/><rect x="416.89" y="204.69" width="19.45" height="4.44" fill="rgb(30, 104, 65)"/><rect x="435.95" y="204.69" width="19.45" height="4.44" fill="rgb(7, 166, 90)"/><rect x="93.00" y="208.72" width="19.45" height="4.44" fill="rgb(50, 39, 35)"/><rect x="112.05" y="208.72" width="19.45" height="4.44" fill="rgb(30, 99, 60)"/><rect x="131.11" y="208.72" width="19.45" height="4.44" fill="rgb(7, 179, 90)"/><rect x="150.16" y="208.72" width="19.45" height="4.44" fill="rgb(25, 105, 58)"/><rect x="169.21" y="208.72" width="19.45" height="4.44" fill="rgb(6, 177, 83)"/><rect x="188.26" y="208.72" width="19.45" height="4.44" fill="rgb(30, 106, 59)"/><rect x="207.32" y="208.72" width="19.45" height="4.44" fill="rgb(49, 37, 36)"/><rect x="226.37" y="208.72" width="19.45" height="4.44" fill="rgb(117, 37, 33)"/><rect x="245.42" y="208.72" width="19.45" height="4.44" fill="rgb(4, 177, 84)"/><rect x="264.47" y="208.72" width="19.45" height="4.44" fill="rgb(174, 54, 51)"/><rect x="283.53" y="208.72" width="19.45" height="4.44" fill="rgb(5, 165, 92)"/><rect x="302.58" y="208.72" width="19.45" height="4.44" fill="rgb(174, 57, 52)"/><rect x="321.63" y="208.72" width="19.45" height="4.44" fill="rgb(181, 51, 48)"/><rect x="340.68" y="208.72" width="19.45" height="4.44" fill="rgb(111, 40, 39)"/><rect x="359.74" y="208.72" width="19.45" height="4.44" fill="rgb(179, 52, 47)"/><rect x="378.79" y="208.72" width="19.45" height="4.44" fill="rgb(179, 57, 49)"/><rect x="397.84" y="208.72" width="19.45" height="4.44" fill="rgb(5, 166, 91)"/><rect x="416.89" y="208.72" width="19.45" height="4.44" fill="rgb(5, 178, 89)"/><rect x="435.95" y="208.72" width="19.45" height="4.44" fill="rgb(4, 169, 84)"/><rect x="93.00" y="212.76" width="19.45" height="4.44" fill="rgb(7, 173, 83)"/><rect x="112.05" y="212.76" width="19.45" height="4.44" fill="rgb(4, 169, 87)"/><rect x="131.11" y="212.76" width="19.45" height="4.44" fill="rgb(6, 170, 86)"/><rect x="150.16" y="212.76" width="19.45" height="4.44" fill="rgb(3, 173, 86)"/><rect x="169.21" y="212.76" width="19.45" height="4.44" fill="rgb(25, 103, 66)"/><rect x="188.26" y="212.76" width="19.45" height="4.44" fill="rgb(3, 165, 89)"/><rect x="207.32" y="212.76" width="19.45" height="4.44" fill="rgb(4, 168, 88)"/><rect x="226.37" y="212.76" width="19.45" height="4.44" fill="rgb(112, 40, 37)"/><rect x="245.42" y="212.76" width="19.45" height="4.44" fill="rgb(55, 41, 30)"/><rect x="264.47" y="212.76" width="19.45" height="4.44" fill="rgb(6, 176, 92)"/><rect x="283.53" y="212.76" width="19.45" height="4.44" fill="rgb(119, 40, 37)"/><rect x="302.58" y="212.76" width="19.45" height="4.44" fill="rgb(171, 54, 52)"/><rect x="321.63" y="212.76" width="19.45" height="4.44" fill="rgb(180, 59, 51)"/><rect x="340.68" y="212.76" width="19.45" height="4.44" fill="rgb(227, 64, 60)"/><rect x="359.74" y="212.76" width="19.45" height="4.44" fill="rgb(116, 40, 35)"/><rect x="378.79" y="212.76" width="19.45" height="4.44" fill="rgb(174, 55, 46)"/><rect x="397.84" y="212.76" width="19.45" height="4.44" fill="rgb(113, 38, 40)"/><rect x="416.89" y="212.76" width="19.45" height="4.44" fill="rgb(115, 39, 35)"/><rect x="435.95" y="212.76" width="19.45" height="4.44" fill="rgb(4, 169, 84)"/><rect x="93.00" y="216.80" width="19.45" height="4.44" fill="rgb(3, 178, 87)"/><rect x="112.05" y="216.80" width="19.45" height="4.44" fill="rgb(27, 104, 60)"/><rect x="131.11" y="216.80" width="19.45" height="4.44" fill="rgb(4, 164, 85)"/><rect x="150.16" y="216.80" width="19.45" height="4.44" fill="rgb(26, 106, 62)"/><rect x="169.21" y="216.80" width="19.45" height="4.44" fill="rgb(7, 169, 92)"/><rect x="188.26" y="216.80" width="19.45" height="4.44" fill="rgb(6, 164, 84)"/><rect x="207.32" y="216.80" width="19.45" height="4.44" fill="rgb(6, 180, 86)"/><rect x="226.37" y="216.80" width="19.45" height="4.44" fill="rgb(119, 39, 39)"/><rect x="245.42" y="216.80" width="19.45" height="4.44" fill="rgb(110, 39, 39)"/><rect x="264.47" y="216.80" width="19.45" height="4.44" fill="rgb(4, 167, 82)"/><rect x="283.53" y="216.80" width="19.45" height="4.44" fill="rgb(111, 38, 38)"/><rect x="302.58" y="216.80" width="19.45" height="4.44" fill="rgb(169, 55, 47)"/><rect x="321.63" y="216.80" width="19.45" height="4.44" fill="rgb(117, 42, 38)"/><rect x="340.68" y="216.80" width="19.45" height="4.44" fill="rgb(168, 57, 53)"/><rect x="359.74" y="216.80" width="19.45" height="4.44" fill="rgb(175, 52, 52)"/><rect x="378.79" y="216.80" width="19.45" height="4.44" fill="rgb(120, 38, 34)"/><rect x="397.84" y="216.80" width="19.45" height="4.44" fill="rgb(111, 40, 39)"/><rect x="416.89" y="216.80" width="19.45" height="4.44" fill="rgb(117, 43, 35)"/><rect x="435.95" y="216.80" width="19.45" height="4.44" fill="rgb(5, 176, 89)"/><rect x="93.00" y="220.84" width="19.45" height="4.44" fill="rgb(27, 106, 60)"/><rect x="112.05" y="220.84" width="19.45" height="4.44" fill="rgb(110, 39, 33)"/><rect x="131.11" y="220.84" width="19.45" height="4.44" fill="rgb(6, 169, 87)"/><rect x="150.16" y="220.84" width="19.45" height="4.44" fill="rgb(117, 38, 36)"/><rect x="169.21" y="220.84" width="19.45" height="4.44" fill="rgb(109, 43, 37)"/><rect x="188.26" y="220.84" width="19.45" height="4.44" fill="rgb(122, 36, 37)"/><rect x="207.32" y="220.84" width="19.45" height="4.44" fill="rgb(118, 38, 34)"/><rect x="226.37" y="220.84" width="19.45" height="4.44" fill="rgb(49, 35, 35)"/><rect x="245.42" y="220.84" width="19.45" height="4.44" fill="rgb(25, 107, 61)"/><rect x="264.47" y="220.84" width="19.45" height="4.44" fill="rgb(28, 105, 62)"/><rect x="283.53" y="220.84" width="19.45" height="4.44" fill="rgb(6, 173, 86)"/><rect x="302.58" y="220.84" width="19.45" height="4.44" fill="rgb(119, 38, 38)"/><rect x="321.63" y="220.84" width="19.45" height="4.44" fill="rgb(178, 58, 48)"/><rect x="340.68" y="220.84" width="19.45" height="4.44" fill="rgb(178, 60, 49)"/><rect x="359.74" y="220.84" width="19.45" height="4.44" fill="rgb(170, 56, 53)"/><rect x="378.79" y="220.84" width="19.45" height="4.44" fill="rgb(49, 34, 33)"/><rect x="397.84" y="220.84" width="19.45" height="4.44" fill="rgb(176, 58, 48)"/><rect x="416.89" y="220.84" width="19.45" height="4.44" fill="rgb(182, 53, 52)"/><rect x="435.95" y="220.84" width="19.45" height="4.44" fill="rgb(110, 36, 34)"/><rect x="93.00" y="224.87" width="19.45" height="4.44" fill="rgb(4, 172, 88)"/><rect x="112.05" y="224.87" width="19.45" height="4.44" fill="rgb(26, 109, 60)"/><rect x="131.11" y="224.87" width="19.45" height="4.44" fill="rgb(4, 166, 90)"/><rect x="150.16" y="224.87" width="19.45" height="4.44" fill="rgb(7, 166, 82)"/><rect x="169.21" y="224.87" width="19.45" height="4.44" fill="rgb(7, 167, 93)"/><rect x="188.26" y="224.87" width="19.45" height="4.44" fill="rgb(51, 38, 32)"/><rect x="207.32" y="224.87" width="19.45" height="4.44" fill="rgb(29, 103, 60)"/><rect x="226.37" y="224.87" width="19.45" height="4.44" fill="rgb(7, 165, 90)"/><rect x="245.42" y="224.87" width="19.45" height="4.44" fill="rgb(4, 174, 86)"/><rect x="264.47" y="224.87" width="19.45" height="4.44" fill="rgb(7, 164, 88)"/><rect x="283.53" y="224.87" width="19.45" height="4.44" fill="rgb(114, 42, 40)"/><rect x="302.58" y="224.87" width="19.45" height="4.44" fill="rgb(234, 59, 55)"/><rect x="321.63" y="224.87" width="19.45" height="4.44" fill="rgb(112, 39, 35)"/><rect x="340.68" y="224.87" width="19.45" height="4.44" fill="rgb(225, 64, 59)"/><rect x="359.74" y="224.87" width="19.45" height="4.44" fill="rgb(170, 60, 47)"/><rect x="378.79" y="224.87" width="19.45" height="4.44" fill="rgb(233, 58, 61)"/><rect x="397.84" y="224.87" width="19.45" height="4.44" fill="rgb(30, 101, 64)"/><rect x="416.89" y="224.87" width="19.45" height="4.44" fill="rgb(120, 38, 35)"/><rect x="435.95" y="224.87" width="19.45" height="4.44" fill="rgb(5, 178, 84)"/><rect x="93.00" y="228.91" width="19.45" height="4.44" fill="rgb(53, 38, 33)"/><rect x="112.05" y="228.91" width="19.45" height="4.44" fill="rgb(6, 178, 84)"/><rect x="131.11" y="228.91" width="19.45" height="4.44" fill="rgb(55, 37, 35)"/><rect x="150.16" y="228.91" width="19.45" height="4.44" fill="rgb(7, 166, 91)"/><rect x="169.21" y="228.91" width="19.45" height="4.44" fill="rgb(31, 101, 57)"/><rect x="188.26" y="228.91" width="19.45" height="4.44" fill="rgb(110, 43, 33)"/><rect x="207.32" y="228.91" width="19.45" height="4.44" fill="rgb(55, 35, 35)"/><rect x="226.37" y="228.91" width="19.45" height="4.44" fill="rgb(25, 99, 63)"/><rect x="245.42" y="228.91" width="19.45" height="4.44" fill="rgb(166, 54, 53)"/><rect x="264.47" y="228.91" width="19.45" height="4.44" fill="rgb(118, 42, 40)"/><rect x="283.53" y="228.91" width="19.45" height="4.44" fill="rgb(109, 38, 39)"/><rect x="302.58" y="228.91" width="19.45" height="4.44" fill="rgb(177, 52, 50)"/><rect x="321.63" y="228.91" width="19.45" height="4.44" fill="rgb(26, 103, 58)"/><rect x="340.68" y="228.91" width="19.45" height="4.44" fill="rgb(165, 60, 48)"/><rect x="359.74" y="228.91" width="19.45" height="4.44" fill="rgb(180, 52, 49)"/><rect x="378.79" y="228.91" width="19.45" height="4.44" fill="rgb(49, 37, 31)"/><rect x="397.84" y="228.91" width="19.45" height="4.44" fill="rgb(6, 165, 90)"/><rect x="416.89" y="228.91" width="19.45" height="4.44" fill="rgb(52, 35, 33)"/><rect x="435.95" y="228.91" width="19.45" height="4.44" fill="rgb(115, 42, 35)"/><rect x="93.00" y="232.95" width="19.45" height="4.44" fill="rgb(4, 180, 92)"/><rect x="112.05" y="232.95" width="19.45" height="4.44" fill="rgb(119, 38, 34)"/><rect x="131.11" y="232.95" width="19.45" height="4.44" fill="rgb(4, 164, 83)"/><rect x="150.16" y="232.95" width="19.45" height="4.44" fill="rgb(6, 170, 88)"/><rect x="169.21" y="232.95" width="19.45" height="4.44" fill="rgb(171, 51, 51)"/><rect x="188.26" y="232.95" width="19.45" height="4.44" fill="rgb(118, 40, 37)"/><rect x="207.32" y="232.95" width="19.45" height="4.44" fill="rgb(118, 43, 39)"/><rect x="226.37" y="232.95" width="19.45" height="4.44" fill="rgb(29, 102, 60)"/><rect x="245.42" y="232.95" width="19.45" height="4.44" fill="rgb(172, 59, 49)"/><rect x="264.47" y="232.95" width="19.45" height="4.44" fill="rgb(114, 39, 34)"/><rect x="283.53" y="232.95" width="19.45" height="4.44" fill="rgb(56, 34, 34)"/><rect x="302.58" y="232.95" width="19.45" height="4.44" fill="rgb(241, 59, 58)"/><rect x="321.63" y="232.95" width="19.45" height="4.44" fill="rgb(114, 38, 34)"/><rect x="340.68" y="232.95" width="19.45" height="4.44" fill="rgb(167, 58, 52)"/><rect x="359.74" y="232.95" width="19.45" height="4.44" fill="rgb(181, 52, 51)"/><rect x="378.79" y="232.95" width="19.45" height="4.44" fill="rgb(113, 41, 37)"/><rect x="397.84" y="232.95" width="19.45" height="4.44" fill="rgb(170, 59, 46)"/><rect x="416.89" y="232.95" width="19.45" height="4.44" fill="rgb(178, 58, 50)"/><rect x="435.95" y="232.95" width="19.45" height="4.44" fill="rgb(28, 110, 59)"/><rect x="93.00" y="236.99" width="19.45" height="4.44" fill="rgb(6, 176, 86)"/><rect x="112.05" y="236.99" width="19.45" height="4.44" fill="rgb(29, 102, 62)"/><rect x="131.11" y="236.99" width="19.45" height="4.44" fill="rgb(6, 175, 86)"/><rect x="150.16" y="236.99" width="19.45" height="4.44" fill="rgb(28, 104, 59)"/><rect x="169.21" y="236.99" width="19.45" height="4.44" fill="rgb(117, 38, 39)"/><rect x="188.26" y="236.99" width="19.45" height="4.44" fill="rgb(27, 106, 62)"/><rect x="207.32" y="236.99" width="19.45" height="4.44" fill="rgb(27, 100, 58)"/><rect x="226.37" y="236.99" width="19.45" height="4.44" fill="rgb(30, 104, 62)"/><rect x="245.42" y="236.99" width="19.45" height="4.44" fill="rgb(116, 42, 35)"/><rect x="264.47" y="236.99" width="19.45" height="4.44" fill="rgb(25, 107, 61)"/><rect x="283.53" y="236.99" width="19.45" height="4.44" fill="rgb(117, 42, 39)"/><rect x="302.58" y="236.99" width="19.45" height="4.44" fill="rgb(120, 36, 36)"/><rect x="321.63" y="236.99" width="19.45" height="4.44" fill="rgb(54, 40, 31)"/><rect x="340.68" y="236.99" width="19.45" height="4.44" fill="rgb(167, 53, 46)"/><rect x="359.74" y="236.99" width="19.45" height="4.44" fill="rgb(171, 58, 50)"/><rect x="378.79" y="236.99" width="19.45" height="4.44" fill="rgb(27, 98, 61)"/><rect x="397.84" y="236.99" width="19.45" height="4.44" fill="rgb(56, 39, 33)"/><rect x="416.89" y="236.99" width="19.45" height="4.44" fill="rgb(115, 42, 38)"/><rect x="435.95" y="236.99" width="19.45" height="4.44" fill="rgb(4, 175, 86)"/><rect x="93.00" y="241.02" width="19.45" height="4.44" fill="rgb(6, 167, 86)"/><rect x="112.05" y="241.02" width="19.45" height="4.44" fill="rgb(113, 39, 33)"/><rect x="131.11" y="241.02" width="19.45" height="4.44" fill="rgb(26, 104, 58)"/><rect x="150.16" y="241.02" width="19.45" height="4.44" fill="rgb(26, 106, 60)"/><rect x="169.21" y="241.02" width="19.45" height="4.44" fill="rgb(113, 38, 39)"/><rect x="188.26" y="241.02" width="19.45" height="4.44" fill="rgb(17, 148, 81)"/><rect x="207.32" y="241.02" width="19.45" height="4.44" fill="rgb(112, 39, 39)"/><rect x="226.37" y="241.02" width="19.45" height="4.44" fill="rgb(6, 169, 83)"/><rect x="245.42" y="241.02" width="19.45" height="4.44" fill="rgb(5, 169, 90)"/><rect x="264.47" y="241.02" width="19.45" height="4.44" fill="rgb(113, 39, 38)"/><rect x="283.53" y="241.02" width="19.45" height="4.44" fill="rgb(54, 36, 33)"/><rect x="302.58" y="241.02" width="19.45" height="4.44" fill="rgb(117, 43, 34)"/><rect x="321.63" y="241.02" width="19.45" height="4.44" fill="rgb(122, 41, 36)"/><rect x="340.68" y="241.02" width="19.45" height="4.44" fill="rgb(235, 60, 54)"/><rect x="359.74" y="241.02" width="19.45" height="4.44" fill="rgb(178, 54, 50)"/><rect x="378.79" y="241.02" width="19.45" height="4.44" fill="rgb(5, 179, 90)"/><rect x="397.84" y="241.02" width="19.45" height="4.44" fill="rgb(48, 38, 33)"/><rect x="416.89" y="241.02" width="19.45" height="4.44" fill="rgb(51, 40, 33)"/><rect x="435.95" y="241.02" width="19.45" height="4.44" fill="rgb(115, 42, 36)"/><rect x="93.00" y="245.06" width="19.45" height="4.44" fill="rgb(51, 38, 36)"/><rect x="112.05" y="245.06" width="19.45" height="4.44" fill="rgb(6, 176, 86)"/><rect x="131.11" y="245.06" width="19.45" height="4.44" fill="rgb(3, 175, 88)"/><rect x="150.16" y="245.06" width="19.45" height="4.44" fill="rgb(7, 176, 83)"/><rect x="169.21" y="245.06" width="19.45" height="4.44" fill="rgb(4, 164, 91)"/><rect x="188.26" y="245.06" width="19.45" height="4.44" fill="rgb(110, 37, 38)"/><rect x="207.32" y="245.06" width="19.45" height="4.44" fill="rgb(116, 36, 38)"/><rect x="226.37" y="245.06" width="19.45" height="4.44" fill="rgb(29, 103, 58)"/><rect x="245.42" y="245.06" width="19.45" height="4.44" fill="rgb(29, 103, 62)"/><rect x="264.47" y="245.06" width="19.45" height="4.44" fill="rgb(31, 107, 65)"/><rect x="283.53" y="245.06" width="19.45" height="4.44" fill="rgb(4, 169, 88)"/><rect x="302.58" y="245.06" width="19.45" height="4.44" fill="rgb(165, 60, 48)"/><rect x="321.63" y="245.06" width="19.45" height="4.44" fill="rgb(112, 38, 35)"/><rect x="340.68" y="245.06" width="19.45" height="4.44" fill="rgb(54, 38, 34)"/><rect x="359.74" y="245.06" width="19.45" height="4.44" fill="rgb(172, 52, 48)"/><rect x="378.79" y="245.06" width="19.45" height="4.44" fill="rgb(120, 42, 39)"/><rect x="397.84" y="245.06" width="19.45" height="4.44" fill="rgb(112, 37, 33)"/><rect x="416.89" y="245.06" width="19.45" height="4.44" fill="rgb(116, 39, 36)"/><rect x="435.95" y="245.06" width="19.45" height="4.44" fill="rgb(115, 40, 36)"/><rect x="93.00" y="249.10" width="19.45" height="4.44" fill="rgb(29, 100, 65)"/><rect x="112.05" y="249.10" width="19.45" height="4.44" fill="rgb(6, 164, 85)"/><rect x="131.11" y="249.10" width="19.45" height="4.44" fill="rgb(6, 170, 88)"/><rect x="150.16" y="249.10" width="19.45" height="4.44" fill="rgb(5, 168, 91)"/><rect x="169.21" y="249.10" width="19.45" height="4.44" fill="rgb(5, 175, 91)"/><rect x="188.26" y="249.10" width="19.45" height="4.44" fill="rgb(6, 171, 92)"/><rect x="207.32" y="249.10" width="19.45" height="4.44" fill="rgb(5, 178, 83)"/><rect x="226.37" y="249.10" width="19.45" height="4.44" fill="rgb(115, 40, 33)"/><rect x="245.42" y="249.10" width="19.45" height="4.44" fill="rgb(7, 164, 89)"/><rect x="264.47" y="249.10" width="19.45" height="4.44" fill="rgb(4, 179, 88)"/><rect x="283.53" y="249.10" width="19.45" height="4.44" fill="rgb(7, 171, 89)"/><rect x="302.58" y="249.10" width="19.45" height="4.44" fill="rgb(177, 54, 47)"/><rect x="321.63" y="249.10" width="19.45" height="4.44" fill="rgb(120, 37, 39)"/><rect x="340.68" y="249.10" width="19.45" height="4.44" fill="rgb(49, 35, 31)"/><rect x="359.74" y="249.10" width="19.45" height="4.44" fill="rgb(119, 43, 36)"/><rect x="378.79" y="249.10" width="19.45" height="4.44" fill="rgb(118, 38, 39)"/><rect x="397.84" y="249.10" width="19.45" height="4.44" fill="rgb(118, 37, 33)"/><rect x="416.89" y="249.10" width="19.45" height="4.44" fill="rgb(118, 36, 39)"/><rect x="435.95" y="249.10" width="19.45" height="4.44" fill="rgb(50, 36, 34)"/><rect x="93.00" y="253.14" width="19.45" height="4.44" fill="rgb(5, 173, 84)"/><rect x="112.05" y="253.14" width="19.45" height="4.44" fill="rgb(7, 168, 91)"/><rect x="131.11" y="253.14" width="19.45" height="4.44" fill="rgb(4, 177, 93)"/><rect x="150.16" y="253.14" width="19.45" height="4.44" fill="rgb(5, 163, 86)"/><rect x="169.21" y="253.14" width="19.45" height="4.44" fill="rgb(53, 36, 34)"/><rect x="188.26" y="253.14" width="19.45" height="4.44" fill="rgb(4, 171, 90)"/><rect x="207.32" y="253.14" width="19.45" height="4.44" fill="rgb(51, 39, 31)"/><rect x="226.37" y="253.14" width="19.45" height="4.44" fill="rgb(179, 52, 53)"/><rect x="245.42" y="253.14" width="19.45" height="4.44" fill="rgb(31, 109, 62)"/><rect x="264.47" y="253.14" width="19.45" height="4.44" fill="rgb(26, 102, 64)"/><rect x="283.53" y="253.14" width="19.45" height="4.44" fill="rgb(27, 109, 58)"/><rect x="302.58" y="253.14" width="19.45" height="4.44" fill="rgb(115, 42, 37)"/><rect x="321.63" y="253.14" width="19.45" height="4.44" fill="rgb(116, 37, 34)"/><rect x="340.68" y="253.14" width="19.45" height="4.44" fill="rgb(169, 59, 52)"/><rect x="359.74" y="253.14" width="19.45" height="4.44" fill="rgb(169, 59, 46)"/><rect x="378.79" y="253.14" width="19.45" height="4.44" fill="rgb(28, 109, 60)"/><rect x="397.84" y="253.14" width="19.45" height="4.44" fill="rgb(121, 41, 33)"/><rect x="416.89" y="253.14" width="19.45" height="4.44" fill="rgb(171, 55, 47)"/><rect x="435.95" y="253.14" width="19.45" height="4.44" fill="rgb(29, 100, 64)"/><rect x="93.00" y="257.17" width="19.45" height="4.44" fill="rgb(5, 164, 88)"/><rect x="112.05" y="257.17" width="19.45" height="4.44" fill="rgb(4, 172, 91)"/><rect x="131.11" y="257.17" width="19.45" height="4.44" fill="rgb(6, 171, 82)"/><rect x="150.16" y="257.17" width="19.45" height="4.44" fill="rgb(6, 164, 89)"/><rect x="169.21" y="257.17" width="19.45" height="4.44" fill="rgb(25, 104, 60)"/><rect x="188.26" y="257.17" width="19.45" height="4.44" fill="rgb(27, 105, 59)"/><rect x="207.32" y="257.17" width="19.45" height="4.44" fill="rgb(25, 109, 60)"/><rect x="226.37" y="257.17" width="19.45" height="4.44" fill="rgb(120, 42, 36)"/><rect x="245.42" y="257.17" width="19.45" height="4.44" fill="rgb(111, 37, 39)"/><rect x="264.47" y="257.17" width="19.45" height="4.44" fill="rgb(110, 39, 37)"/><rect x="283.53" y="257.17" width="19.45" height="4.44" fill="rgb(110, 39, 34)"/><rect x="302.58" y="257.17" width="19.45" height="4.44" fill="rgb(232, 62, 56)"/><rect x="321.63" y="257.17" width="19.45" height="4.44" fill="rgb(168, 55, 47)"/><rect x="340.68" y="257.17" width="19.45" height="4.44" fill="rgb(167, 53, 52)"/><rect x="359.74" y="257.17" width="19.45" height="4.44" fill="rgb(174, 59, 46)"/><rect x="378.79" y="257.17" width="19.45" height="4.44" fill="rgb(55, 37, 35)"/><rect x="397.84" y="257.17" width="19.45" height="4.44" fill="rgb(116, 41, 35)"/><rect x="416.89" y="257.17" width="19.45" height="4.44" fill="rgb(119, 37, 35)"/><rect x="435.95" y="257.17" width="19.45" height="4.44" fill="rgb(109, 39, 37)"/><rect x="93.00" y="261.21" width="19.45" height="4.44" fill="rgb(5, 178, 83)"/><rect x="112.05" y="261.21" width="19.45" height="4.44" fill="rgb(52, 36, 34)"/><rect x="131.11" y="261.21" width="19.45" height="4.44" fill="rgb(29, 106, 58)"/><rect x="150.16" y="261.21" width="19.45" height="4.44" fill="rgb(4, 173, 93)"/><rect x="169.21" y="261.21" width="19.45" height="4.44" fill="rgb(25, 105, 63)"/><rect x="188.26" y="261.21" width="19.45" height="4.44" fill="rgb(120, 38, 39)"/><rect x="207.32" y="261.21" width="19.45" height="4.44" fill="rgb(27, 109, 57)"/><rect x="226.37" y="261.21" width="19.45" height="4.44" fill="rgb(7, 170, 86)"/><rect x="245.42" y="261.21" width="19.45" height="4.44" fill="rgb(4, 167, 90)"/><rect x="264.47" y="261.21" width="19.45" height="4.44" fill="rgb(118, 37, 35)"/><rect x="283.53" y="261.21" width="19.45" height="4.44" fill="rgb(111, 37, 35)"/><rect x="302.58" y="261.21" width="19.45" height="4.44" fill="rgb(171, 59, 53)"/><rect x="321.63" y="261.21" width="19.45" height="4.44" fill="rgb(179, 55, 49)"/><rect x="340.68" y="261.21" width="19.45" height="4.44" fill="rgb(178, 59, 51)"/><rect x="359.74" y="261.21" width="19.45" height="4.44" fill="rgb(235, 59, 59)"/><rect x="378.79" y="261.21" width="19.45" height="4.44" fill="rgb(120, 42, 34)"/><rect x="397.84" y="261.21" width="19.45" height="4.44" fill="rgb(177, 54, 47)"/><rect x="416.89" y="261.21" width="19.45" height="4.44" fill="rgb(182, 57, 51)"/><rect x="435.95" y="261.21" width="19.45" height="4.44" fill="rgb(111, 42, 40)"/><rect x="93.00" y="265.25" width="19.45" height="4.44" fill="rgb(7, 176, 91)"/><rect x="112.05" y="265.25" width="19.45" height="4.44" fill="rgb(7, 173, 87)"/><rect x="131.11" y="265.25" width="19.45" height="4.44" fill="rgb(7, 176, 92)"/><rect x="150.16" y="265.25" width="19.45" height="4.44" fill="rgb(113, 43, 37)"/><rect x="169.21" y="265.25" width="19.45" height="4.44" fill="rgb(121, 37, 40)"/><rect x="188.26" y="265.25" width="19.45" height="4.44" fill="rgb(179, 53, 52)"/><rect x="207.32" y="265.25" width="19.45" height="4.44" fill="rgb(26, 100, 61)"/><rect x="226.37" y="265.25" width="19.45" height="4.44" fill="rgb(26, 103, 65)"/><rect x="245.42" y="265.25" width="19.45" height="4.44" fill="rgb(29, 106, 61)"/><rect x="264.47" y="265.25" width="19.45" height="4.44" fill="rgb(7, 177, 89)"/><rect x="283.53" y="265.25" width="19.45" height="4.44" fill="rgb(30, 107, 61)"/><rect x="302.58" y="265.25" width="19.45" height="4.44" fill="rgb(110, 41, 39)"/><rect x="321.63" y="265.25" width="19.45" height="4.44" fill="rgb(113, 40, 39)"/><rect x="340.68" y="265.25" width="19.45" height="4.44" fill="rgb(179, 51, 49)"/><rect x="359.74" y="265.25" width="19.45" height="4.44" fill="rgb(221, 58, 60)"/><rect x="378.79" y="265.25" width="19.45" height="4.44" fill="rgb(5, 173, 87)"/><rect x="397.84" y="265.25" width="19.45" height="4.44" fill="rgb(113, 37, 35)"/><rect x="416.89" y="265.25" width="19.45" height="4.44" fill="rgb(120, 40, 35)"/><rect x="435.95" y="265.25" width="19.45" height="4.44" fill="rgb(166, 54, 51)"/><rect x="93.00" y="269.29" width="19.45" height="4.44" fill="rgb(51, 39, 36)"/><rect x="112.05" y="269.29" width="19.45" height="4.44" fill="rgb(4, 175, 83)"/><rect x="131.11" y="269.29" width="19.45" height="4.44" fill="rgb(7, 166, 85)"/><rect x="150.16" y="269.29" width="19.45" height="4.44" fill="rgb(30, 102, 59)"/><rect x="169.21" y="269.29" width="19.45" height="4.44" fill="rgb(30, 105, 65)"/><rect x="188.26" y="269.29" width="19.45" height="4.44" fill="rgb(114, 39, 40)"/><rect x="207.32" y="269.29" width="19.45" height="4.44" fill="rgb(28, 109, 59)"/><rect x="226.37" y="269.29" width="19.45" height="4.44" fill="rgb(30, 99, 62)"/><rect x="245.42" y="269.29" width="19.45" height="4.44" fill="rgb(109, 37, 40)"/><rect x="264.47" y="269.29" width="19.45" height="4.44" fill="rgb(115, 42, 35)"/><rect x="283.53" y="269.29" width="19.45" height="4.44" fill="rgb(171, 52, 50)"/><rect x="302.58" y="269.29" width="19.45" height="4.44" fill="rgb(180, 56, 49)"/><rect x="321.63" y="269.29" width="19.45" height="4.44" fill="rgb(7, 178, 89)"/><rect x="340.68" y="269.29" width="19.45" height="4.44" fill="rgb(48, 38, 33)"/><rect x="359.74" y="269.29" width="19.45" height="4.44" fill="rgb(182, 54, 51)"/><rect x="378.79" y="269.29" width="19.45" height="4.44" fill="rgb(117, 39, 37)"/><rect x="397.84" y="269.29" width="19.45" height="4.44" fill="rgb(53, 40, 33)"/><rect x="416.89" y="269.29" width="19.45" height="4.44" fill="rgb(50, 41, 31)"/><rect x="435.95" y="269.29" width="19.45" height="4.44" fill="rgb(179, 57, 50)"/><rect x="93.00" y="273.32" width="19.45" height="4.44" fill="rgb(5, 176, 92)"/><rect x="112.05" y="273.32" width="19.45" height="4.44" fill="rgb(29, 107, 57)"/><rect x="131.11" y="273.32" width="19.45" height="4.44" fill="rgb(5, 165, 92)"/><rect x="150.16" y="273.32" width="19.45" height="4.44" fill="rgb(7, 165, 88)"/><rect x="169.21" y="273.32" width="19.45" height="4.44" fill="rgb(117, 36, 36)"/><rect x="188.26" y="273.32" width="19.45" height="4.44" fill="rgb(178, 57, 48)"/><rect x="207.32" y="273.32" width="19.45" height="4.44" fill="rgb(7, 168, 88)"/><rect x="226.37" y="273.32" width="19.45" height="4.44" fill="rgb(172, 60, 51)"/><rect x="245.42" y="273.32" width="19.45" height="4.44" fill="rgb(119, 41, 36)"/><rect x="264.47" y="273.32" width="19.45" height="4.44" fill="rgb(30, 106, 63)"/><rect x="283.53" y="273.32" width="19.45" height="4.44" fill="rgb(5, 166, 88)"/><rect x="302.58" y="273.32" width="19.45" height="4.44" fill="rgb(120, 42, 35)"/><rect x="321.63" y="273.32" width="19.45" height="4.44" fill="rgb(4, 172, 92)"/><rect x="340.68" y="273.32" width="19.45" height="4.44" fill="rgb(111, 41, 34)"/><rect x="359.74" y="273.32" width="19.45" height="4.44" fill="rgb(113, 36, 35)"/><rect x="378.79" y="273.32" width="19.45" height="4.44" fill="rgb(114, 43, 40)"/><rect x="397.84" y="273.32" width="19.45" height="4.44" fill="rgb(26, 101, 65)"/><rect x="416.89" y="273.32" width="19.45" height="4.44" fill="rgb(112, 38, 36)"/><rect x="435.95" y="273.32" width="19.45" height="4.44" fill="rgb(110, 38, 36)"/><rect x="93.00" y="277.36" width="19.45" height="4.44" fill="rgb(5, 180, 85)"/><rect x="112.05" y="277.36" width="19.45" height="4.44" fill="rgb(4, 179, 87)"/><rect x="131.11" y="277.36" width="19.45" height="4.44" fill="rgb(7, 174, 91)"/><rect x="150.16" y="277.36" width="19.45" height="4.44" fill="rgb(5, 165, 90)"/><rect x="169.21" y="277.36" width="19.45" height="4.44" fill="rgb(115, 40, 38)"/><rect x="188.26" y="277.36" width="19.45" height="4.44" fill="rgb(119, 38, 36)"/><rect x="207.32" y="277.36" width="19.45" height="4.44" fill="rgb(30, 104, 60)"/><rect x="226.37" y="277.36" width="19.45" height="4.44" fill="rgb(6, 167, 90)"/><rect x="245.42" y="277.36" width="19.45" height="4.44" fill="rgb(109, 42, 37)"/><rect x="264.47" y="277.36" width="19.45" height="4.44" fill="rgb(5, 179, 85)"/><rect x="283.53" y="277.36" width="19.45" height="4.44" fill="rgb(112, 36, 37)"/><rect x="302.58" y="277.36" width="19.45" height="4.44" fill="rgb(119, 41, 36)"/><rect x="321.63" y="277.36" width="19.45" height="4.44" fill="rgb(7, 165, 85)"/><rect x="340.68" y="277.36" width="19.45" height="4.44" fill="rgb(235, 66, 59)"/><rect x="359.74" y="277.36" width="19.45" height="4.44" fill="rgb(177, 58, 49)"/><rect x="378.79" y="277.36" width="19.45" height="4.44" fill="rgb(121, 41, 35)"/><rect x="397.84" y="277.36" width="19.45" height="4.44" fill="rgb(27, 107, 60)"/><rect x="416.89" y="277.36" width="19.45" height="4.44" fill="rgb(168, 59, 50)"/><rect x="435.95" y="277.36" width="19.45" height="4.44" fill="rgb(6, 174, 92)"/><rect x="93.00" y="281.40" width="19.45" height="4.44" fill="rgb(4, 169, 83)"/><rect x="112.05" y="281.40" width="19.45" height="4.44" fill="rgb(27, 104, 65)"/><rect x="131.11" y="281.40" width="19.45" height="4.44" fill="rgb(6, 173, 86)"/><rect x="150.16" y="281.40" width="19.45" height="4.44" fill="rgb(6, 168, 91)"/><rect x="169.21" y="281.40" width="19.45" height="4.44" fill="rgb(119, 42, 34)"/><rect x="188.26" y="281.40" width="19.45" height="4.44" fill="rgb(118, 41, 37)"/><rect x="207.32" y="281.40" width="19.45" height="4.44" fill="rgb(55, 40, 35)"/><rect x="226.37" y="281.40" width="19.45" height="4.44" fill="rgb(120, 41, 39)"/><rect x="245.42" y="281.40" width="19.45" height="4.44" fill="rgb(111, 41, 38)"/><rect x="264.47" y="281.40" width="19.45" height="4.44" fill="rgb(52, 36, 31)"/><rect x="283.53" y="281.40" width="19.45" height="4.44" fill="rgb(117, 42, 35)"/><rect x="302.58" y="281.40" width="19.45" height="4.44" fill="rgb(49, 36, 31)"/><rect x="321.63" y="281.40" width="19.45" height="4.44" fill="rgb(29, 109, 64)"/><rect x="340.68" y="281.40" width="19.45" height="4.44" fill="rgb(171, 57, 46)"/><rect x="359.74" y="281.40" width="19.45" height="4.44" fill="rgb(179, 54, 46)"/><rect x="378.79" y="281.40" width="19.45" height="4.44" fill="rgb(117, 37, 35)"/><rect x="397.84" y="281.40" width="19.45" height="4.44" fill="rgb(25, 103, 62)"/><rect x="416.89" y="281.40" width="19.45" height="4.44" fill="rgb(120, 36, 39)"/><rect x="435.95" y="281.40" width="19.45" height="4.44" fill="rgb(4, 167, 89)"/><rect x="93.00" y="285.44" width="19.45" height="4.44" fill="rgb(27, 101, 62)"/><rect x="112.05" y="285.44" width="19.45" height="4.44" fill="rgb(4, 177, 84)"/><rect x="131.11" y="285.44" width="19.45" height="4.44" fill="rgb(7, 177, 88)"/><rect x="150.16" y="285.44" width="19.45" height="4.44" fill="rgb(3, 176, 82)"/><rect x="169.21" y="285.44" width="19.45" height="4.44" fill="rgb(6, 170, 83)"/><rect x="188.26" y="285.44" width="19.45" height="4.44" fill="rgb(6, 175, 88)"/><rect x="207.32" y="285.44" width="19.45" height="4.44" fill="rgb(114, 40, 37)"/><rect x="226.37" y="285.44" width="19.45" height="4.44" fill="rgb(169, 59, 53)"/><rect x="245.42" y="285.44" width="19.45" height="4.44" fill="rgb(119, 43, 35)"/><rect x="264.47" y="285.44" width="19.45" height="4.44" fill="rgb(8, 164, 87)"/><rect x="283.53" y="285.44" width="19.45" height="4.44" fill="rgb(111, 39, 38)"/><rect x="302.58" y="285.44" width="19.45" height="4.44" fill="rgb(118, 39, 35)"/><rect x="321.63" y="285.44" width="19.45" height="4.44" fill="rgb(4, 170, 85)"/><rect x="340.68" y="285.44" width="19.45" height="4.44" fill="rgb(111, 41, 37)"/><rect x="359.74" y="285.44" width="19.45" height="4.44" fill="rgb(172, 53, 51)"/><rect x="378.79" y="285.44" width="19.45" height="4.44" fill="rgb(112, 38, 37)"/><rect x="397.84" y="285.44" width="19.45" height="4.44" fill="rgb(118, 43, 38)"/><rect x="416.89" y="285.44" width="19.45" height="4.44" fill="rgb(8, 179, 90)"/><rect x="435.95" y="285.44" width="19.45" height="4.44" fill="rgb(53, 34, 32)"/><rect x="93.00" y="289.47" width="19.45" height="4.44" fill="rgb(3, 178, 90)"/><rect x="112.05" y="289.47" width="19.45" height="4.44" fill="rgb(53, 36, 33)"/><rect x="131.11" y="289.47" width="19.45" height="4.44" fill="rgb(49, 38, 37)"/><rect x="150.16" y="289.47" width="19.45" height="4.44" fill="rgb(5, 164, 84)"/><rect x="169.21" y="289.47" width="19.45" height="4.44" fill="rgb(114, 42, 39)"/><rect x="188.26" y="289.47" width="19.45" height="4.44" fill="rgb(27, 99, 58)"/><rect x="207.32" y="289.47" width="19.45" height="4.44" fill="rgb(25, 107, 61)"/><rect x="226.37" y="289.47" width="19.45" height="4.44" fill="rgb(182, 59, 52)"/><rect x="245.42" y="289.47" width="19.45" height="4.44" fill="rgb(231, 64, 54)"/><rect x="264.47" y="289.47" width="19.45" height="4.44" fill="rgb(223, 62, 58)"/><rect x="283.53" y="289.47" width="19.45" height="4.44" fill="rgb(168, 53, 46)"/><rect x="302.58" y="289.47" width="19.45" height="4.44" fill="rgb(241, 63, 61)"/><rect x="321.63" y="289.47" width="19.45" height="4.44" fill="rgb(122, 39, 38)"/><rect x="340.68" y="289.47" width="19.45" height="4.44" fill="rgb(229, 64, 60)"/><rect x="359.74" y="289.47" width="19.45" height="4.44" fill="rgb(167, 51, 47)"/><rect x="378.79" y="289.47" width="19.45" height="4.44" fill="rgb(233, 60, 53)"/><rect x="397.84" y="289.47" width="19.45" height="4.44" fill="rgb(7, 177, 87)"/><rect x="416.89" y="289.47" width="19.45" height="4.44" fill="rgb(25, 108, 62)"/><rect x="435.95" y="289.47" width="19.45" height="4.44" fill="rgb(4, 168, 89)"/><rect x="93.00" y="293.51" width="19.45" height="4.44" fill="rgb(7, 171, 89)"/><rect x="112.05" y="293.51" width="19.45" height="4.44" fill="rgb(4, 167, 92)"/><rect x="131.11" y="293.51" width="19.45" height="4.44" fill="rgb(5, 165, 88)"/><rect x="150.16" y="293.51" width="19.45" height="4.44" fill="rgb(4, 166, 87)"/><rect x="169.21" y="293.51" width="19.45" height="4.44" fill="rgb(6, 174, 90)"/><rect x="188.26" y="293.51" width="19.45" height="4.44" fill="rgb(115, 36, 38)"/><rect x="207.32" y="293.51" width="19.45" height="4.44" fill="rgb(25, 103, 61)"/><rect x="226.37" y="293.51" width="19.45" height="4.44" fill="rgb(118, 41, 35)"/><rect x="245.42" y="293.51" width="19.45" height="4.44" fill="rgb(117, 41, 36)"/><rect x="264.47" y="293.51" width="19.45" height="4.44" fill="rgb(25, 108, 62)"/><rect x="283.53" y="293.51" width="19.45" height="4.44" fill="rgb(110, 38, 40)"/><rect x="302.58" y="293.51" width="19.45" height="4.44" fill="rgb(225, 61, 60)"/><rect x="321.63" y="293.51" width="19.45" height="4.44" fill="rgb(120, 40, 38)"/><rect x="340.68" y="293.51" width="19.45" height="4.44" fill="rgb(165, 52, 53)"/><rect x="359.74" y="293.51" width="19.45" height="4.44" fill="rgb(119, 36, 33)"/><rect x="378.79" y="293.51" width="19.45" height="4.44" fill="rgb(169, 59, 47)"/><rect x="397.84" y="293.51" width="19.45" height="4.44" fill="rgb(29, 109, 63)"/><rect x="416.89" y="293.51" width="19.45" height="4.44" fill="rgb(121, 38, 34)"/><rect x="435.95" y="293.51" width="19.45" height="4.44" fill="rgb(3, 176, 83)"/><rect x="93.00" y="297.55" width="19.45" height="4.44" fill="rgb(8, 175, 84)"/><rect x="112.05" y="297.55" width="19.45" height="4.44" fill="rgb(7, 166, 88)"/><rect x="131.11" y="297.55" width="19.45" height="4.44" fill="rgb(4, 177, 92)"/><rect x="150.16" y="297.55" width="19.45" height="4.44" fill="rgb(7, 163, 91)"/><rect x="169.21" y="297.55" width="19.45" height="4.44" fill="rgb(6, 177, 88)"/><rect x="188.26" y="297.55" width="19.45" height="4.44" fill="rgb(6, 173, 91)"/><rect x="207.32" y="297.55" width="19.45" height="4.44" fill="rgb(4, 164, 88)"/><rect x="226.37" y="297.55" width="19.45" height="4.44" fill="rgb(26, 102, 57)"/><rect x="245.42" y="297.55" width="19.45" height="4.44" fill="rgb(119, 36, 39)"/><rect x="264.47" y="297.55" width="19.45" height="4.44" fill="rgb(29, 103, 58)"/><rect x="283.53" y="297.55" width="19.45" height="4.44" fill="rgb(117, 37, 36)"/><rect x="302.58" y="297.55" width="19.45" height="4.44" fill="rgb(110, 43, 37)"/><rect x="321.63" y="297.55" width="19.45" height="4.44" fill="rgb(114, 37, 38)"/><rect x="340.68" y="297.55" width="19.45" height="4.44" fill="rgb(180, 58, 46)"/><rect x="359.74" y="297.55" width="19.45" height="4.44" fill="rgb(171, 54, 52)"/><rect x="378.79" y="297.55" width="19.45" height="4.44" fill="rgb(49, 38, 37)"/><rect x="397.84" y="297.55" width="19.45" height="4.44" fill="rgb(29, 98, 58)"/><rect x="416.89" y="297.55" width="19.45" height="4.44" fill="rgb(167, 57, 50)"/><rect x="435.95" y="297.55" width="19.45" height="4.44" fill="rgb(6, 171, 86)"/><rect x="93.00" y="301.59" width="19.45" height="4.44" fill="rgb(6, 174, 92)"/><rect x="112.05" y="301.59" width="19.45" height="4.44" fill="rgb(7, 177, 92)"/><rect x="131.11" y="301.59" width="19.45" height="4.44" fill="rgb(7, 175, 82)"/><rect x="150.16" y="301.59" width="19.45" height="4.44" fill="rgb(6, 178, 87)"/><rect x="169.21" y="301.59" width="19.45" height="4.44" fill="rgb(55, 35, 36)"/><rect x="188.26" y="301.59" width="19.45" height="4.44" fill="rgb(27, 106, 59)"/><rect x="207.32" y="301.59" width="19.45" height="4.44" fill="rgb(26, 102, 60)"/><rect x="226.37" y="301.59" width="19.45" height="4.44" fill="rgb(4, 171, 93)"/><rect x="245.42" y="301.59" width="19.45" height="4.44" fill="rgb(118, 43, 38)"/><rect x="264.47" y="301.59" width="19.45" height="4.44" fill="rgb(7, 180, 90)"/><rect x="283.53" y="301.59" width="19.45" height="4.44" fill="rgb(26, 100, 61)"/><rect x="302.58" y="301.59" width="19.45" height="4.44" fill="rgb(165, 53, 53)"/><rect x="321.63" y="301.59" width="19.45" height="4.44" fill="rgb(121, 38, 38)"/><rect x="340.68" y="301.59" width="19.45" height="4.44" fill="rgb(238, 65, 60)"/><rect x="359.74" y="301.59" width="19.45" height="4.44" fill="rgb(116, 37, 39)"/><rect x="378.79" y="301.59" width="19.45" height="4.44" fill="rgb(170, 57, 48)"/><rect x="397.84" y="301.59" width="19.45" height="4.44" fill="rgb(116, 43, 34)"/><rect x="416.89" y="301.59" width="19.45" height="4.44" fill="rgb(52, 39, 34)"/><rect x="435.95" y="301.59" width="19.45" height="4.44" fill="rgb(7, 170, 92)"/><rect x="93.00" y="305.62" width="19.45" height="4.44" fill="rgb(29, 109, 58)"/><rect x="112.05" y="305.62" width="19.45" height="4.44" fill="rgb(4, 168, 92)"/><rect x="131.11" y="305.62" width="19.45" height="4.44" fill="rgb(24, 101, 63)"/><rect x="150.16" y="305.62" width="19.45" height="4.44" fill="rgb(122, 37, 36)"/><rect x="169.21" y="305.62" width="19.45" height="4.44" fill="rgb(29, 106, 64)"/><rect x="188.26" y="305.62" width="19.45" height="4.44" fill="rgb(7, 167, 85)"/><rect x="207.32" y="305.62" width="19.45" height="4.44" fill="rgb(3, 175, 84)"/><rect x="226.37" y="305.62" width="19.45" height="4.44" fill="rgb(50, 41, 34)"/><rect x="245.42" y="305.62" width="19.45" height="4.44" fill="rgb(28, 105, 62)"/><rect x="264.47" y="305.62" width="19.45" height="4.44" fill="rgb(53, 36, 31)"/><rect x="283.53" y="305.62" width="19.45" height="4.44" fill="rgb(4, 163, 86)"/><rect x="302.58" y="305.62" width="19.45" height="4.44" fill="rgb(111, 37, 36)"/><rect x="321.63" y="305.62" width="19.45" height="4.44" fill="rgb(182, 57, 48)"/><rect x="340.68" y="305.62" width="19.45" height="4.44" fill="rgb(237, 59, 54)"/><rect x="359.74" y="305.62" width="19.45" height="4.44" fill="rgb(170, 55, 51)"/><rect x="378.79" y="305.62" width="19.45" height="4.44" fill="rgb(173, 57, 46)"/><rect x="397.84" y="305.62" width="19.45" height="4.44" fill="rgb(121, 38, 39)"/><rect x="416.89" y="305.62" width="19.45" height="4.44" fill="rgb(109, 42, 35)"/><rect x="435.95" y="305.62" width="19.45" height="4.44" fill="rgb(7, 177, 89)"/><rect x="93.00" y="309.66" width="19.45" height="4.44" fill="rgb(5, 163, 84)"/><rect x="112.05" y="309.66" width="19.45" height="4.44" fill="rgb(7, 166, 89)"/><rect x="131.11" y="309.66" width="19.45" height="4.44" fill="rgb(6, 174, 84)"/><rect x="150.16" y="309.66" width="19.45" height="4.44" fill="rgb(4, 164, 93)"/><rect x="169.21" y="309.66" width="19.45" height="4.44" fill="rgb(5, 174, 88)"/><rect x="188.26" y="309.66" width="19.45" height="4.44" fill="rgb(169, 52, 46)"/><rect x="207.32" y="309.66" width="19.45" height="4.44" fill="rgb(7, 165, 93)"/><rect x="226.37" y="309.66" width="19.45" height="4.44" fill="rgb(171, 57, 47)"/><rect x="245.42" y="309.66" width="19.45" height="4.44" fill="rgb(7, 167, 86)"/><rect x="264.47" y="309.66" width="19.45" height="4.44" fill="rgb(28, 99, 59)"/><rect x="283.53" y="309.66" width="19.45" height="4.44" fill="rgb(119, 38, 36)"/><rect x="302.58" y="309.66" width="19.45" height="4.44" fill="rgb(119, 38, 34)"/><rect x="321.63" y="309.66" width="19.45" height="4.44" fill="rgb(169, 55, 48)"/><rect x="340.68" y="309.66" width="19.45" height="4.44" fill="rgb(176, 55, 52)"/><rect x="359.74" y="309.66" width="19.45" height="4.44" fill="rgb(222, 63, 60)"/><rect x="378.79" y="309.66" width="19.45" height="4.44" fill="rgb(26, 98, 61)"/><rect x="397.84" y="309.66" width="19.45" height="4.44" fill="rgb(110, 39, 38)"/><rect x="416.89" y="309.66" width="19.45" height="4.44" fill="rgb(4, 165, 87)"/><rect x="435.95" y="309.66" width="19.45" height="4.44" fill="rgb(111, 38, 36)"/><rect x="93.00" y="313.70" width="19.45" height="4.44" fill="rgb(4, 164, 86)"/><rect x="112.05" y="313.70" width="19.45" height="4.44" fill="rgb(51, 41, 34)"/><rect x="131.11" y="313.70" width="19.45" height="4.44" fill="rgb(4, 167, 90)"/><rect x="150.16" y="313.70" width="19.45" height="4.44" fill="rgb(52, 40, 37)"/><rect x="169.21" y="313.70" width="19.45" height="4.44" fill="rgb(180, 52, 53)"/><rect x="188.26" y="313.70" width="19.45" height="4.44" fill="rgb(174, 53, 47)"/><rect x="207.32" y="313.70" width="19.45" height="4.44" fill="rgb(180, 53, 46)"/><rect x="226.37" y="313.70" width="19.45" height="4.44" fill="rgb(4, 179, 87)"/><rect x="245.42" y="313.70" width="19.45" height="4.44" fill="rgb(7, 164, 87)"/><rect x="264.47" y="313.70" width="19.45" height="4.44" fill="rgb(5, 166, 89)"/><rect x="283.53" y="313.70" width="19.45" height="4.44" fill="rgb(114, 37, 40)"/><rect x="302.58" y="313.70" width="19.45" height="4.44" fill="rgb(5, 166, 82)"/><rect x="321.63" y="313.70" width="19.45" height="4.44" fill="rgb(53, 38, 30)"/><rect x="340.68" y="313.70" width="19.45" height="4.44" fill="rgb(173, 58, 50)"/><rect x="359.74" y="313.70" width="19.45" height="4.44" fill="rgb(112, 39, 37)"/><rect x="378.79" y="313.70" width="19.45" height="4.44" fill="rgb(176, 53, 52)"/><rect x="397.84" y="313.70" width="19.45" height="4.44" fill="rgb(121, 41, 39)"/><rect x="416.89" y="313.70" width="19.45" height="4.44" fill="rgb(50, 40, 31)"/><rect x="435.95" y="313.70" width="19.45" height="4.44" fill="rgb(112, 40, 39)"/><rect x="93.00" y="317.74" width="19.45" height="4.44" fill="rgb(4, 167, 82)"/><rect x="112.05" y="317.74" width="19.45" height="4.44" fill="rgb(5, 165, 84)"/><rect x="131.11" y="317.74" width="19.45" height="4.44" fill="rgb(7, 173, 92)"/><rect x="150.16" y="317.74" width="19.45" height="4.44" fill="rgb(5, 175, 82)"/><rect x="169.21" y="317.74" width="19.45" height="4.44" fill="rgb(8, 167, 87)"/><rect x="188.26" y="317.74" width="19.45" height="4.44" fill="rgb(6, 179, 87)"/><rect x="207.32" y="317.74" width="19.45" height="4.44" fill="rgb(8, 174, 84)"/><rect x="226.37" y="317.74" width="19.45" height="4.44" fill="rgb(30, 100, 66)"/><rect x="245.42" y="317.74" width="19.45" height="4.44" fill="rgb(27, 100, 66)"/><rect x="264.47" y="317.74" width="19.45" height="4.44" fill="rgb(50, 37, 32)"/><rect x="283.53" y="317.74" width="19.45" height="4.44" fill="rgb(176, 51, 49)"/><rect x="302.58" y="317.74" width="19.45" height="4.44" fill="rgb(111, 42, 33)"/><rect x="321.63" y="317.74" width="19.45" height="4.44" fill="rgb(117, 38, 36)"/><rect x="340.68" y="317.74" width="19.45" height="4.44" fill="rgb(175, 57, 47)"/><rect x="359.74" y="317.74" width="19.45" height="4.44" fill="rgb(169, 52, 53)"/><rect x="378.79" y="317.74" width="19.45" height="4.44" fill="rgb(25, 99, 62)"/><rect x="397.84" y="317.74" width="19.45" height="4.44" fill="rgb(117, 42, 33)"/><rect x="416.89" y="317.74" width="19.45" height="4.44" fill="rgb(4, 166, 88)"/><rect x="435.95" y="317.74" width="19.45" height="4.44" fill="rgb(27, 102, 65)"/><rect x="93.00" y="321.77" width="19.45" height="4.44" fill="rgb(6, 178, 92)"/><rect x="112.05" y="321.77" width="19.45" height="4.44" fill="rgb(26, 109, 61)"/><rect x="131.11" y="321.77" width="19.45" height="4.44" fill="rgb(3, 179, 83)"/><rect x="150.16" y="321.77" width="19.45" height="4.44" fill="rgb(3, 168, 85)"/><rect x="169.21" y="321.77" width="19.45" height="4.44" fill="rgb(122, 42, 36)"/><rect x="188.26" y="321.77" width="19.45" height="4.44" fill="rgb(116, 42, 39)"/><rect x="207.32" y="321.77" width="19.45" height="4.44" fill="rgb(118, 40, 34)"/><rect x="226.37" y="321.77" width="19.45" height="4.44" fill="rgb(4, 174, 88)"/><rect x="245.42" y="321.77" width="19.45" height="4.44" fill="rgb(7, 178, 93)"/><rect x="264.47" y="321.77" width="19.45" height="4.44" fill="rgb(4, 164, 92)"/><rect x="283.53" y="321.77" width="19.45" height="4.44" fill="rgb(28, 100, 63)"/><rect x="302.58" y="321.77" width="19.45" height="4.44" fill="rgb(169, 53, 48)"/><rect x="321.63" y="321.77" width="19.45" height="4.44" fill="rgb(116, 41, 34)"/><rect x="340.68" y="321.77" width="19.45" height="4.44" fill="rgb(237, 63, 57)"/><rect x="359.74" y="321.77" width="19.45" height="4.44" fill="rgb(177, 58, 46)"/><rect x="378.79" y="321.77" width="19.45" height="4.44" fill="rgb(173, 57, 51)"/><rect x="397.84" y="321.77" width="19.45" height="4.44" fill="rgb(117, 37, 40)"/><rect x="416.89" y="321.77" width="19.45" height="4.44" fill="rgb(179, 53, 49)"/><rect x="435.95" y="321.77" width="19.45" height="4.44" fill="rgb(8, 166, 87)"/><rect x="93.00" y="325.81" width="19.45" height="4.44" fill="rgb(8, 178, 85)"/><rect x="112.05" y="325.81" width="19.45" height="4.44" fill="rgb(7, 169, 89)"/><rect x="131.11" y="325.81" width="19.45" height="4.44" fill="rgb(7, 165, 84)"/><rect x="150.16" y="325.81" width="19.45" height="4.44" fill="rgb(4, 167, 82)"/><rect x="169.21" y="325.81" width="19.45" height="4.44" fill="rgb(111, 39, 36)"/><rect x="188.26" y="325.81" width="19.45" height="4.44" fill="rgb(110, 40, 40)"/><rect x="207.32" y="325.81" width="19.45" height="4.44" fill="rgb(52, 36, 35)"/><rect x="226.37" y="325.81" width="19.45" height="4.44" fill="rgb(5, 166, 87)"/><rect x="245.42" y="325.81" width="19.45" height="4.44" fill="rgb(109, 41, 34)"/><rect x="264.47" y="325.81" width="19.45" height="4.44" fill="rgb(27, 109, 64)"/><rect x="283.53" y="325.81" width="19.45" height="4.44" fill="rgb(120, 41, 37)"/><rect x="302.58" y="325.81" width="19.45" height="4.44" fill="rgb(177, 59, 47)"/><rect x="321.63" y="325.81" width="19.45" height="4.44" fill="rgb(178, 54, 48)"/><rect x="340.68" y="325.81" width="19.45" height="4.44" fill="rgb(179, 56, 52)"/><rect x="359.74" y="325.81" width="19.45" height="4.44" fill="rgb(180, 56, 47)"/><rect x="378.79" y="325.81" width="19.45" height="4.44" fill="rgb(109, 40, 38)"/><rect x="397.84" y="325.81" width="19.45" height="4.44" fill="rgb(113, 36, 33)"/><rect x="416.89" y="325.81" width="19.45" height="4.44" fill="rgb(49, 39, 30)"/><rect x="435.95" y="325.81" width="19.45" height="4.44" fill="rgb(112, 38, 38)"/><rect x="93.00" y="329.85" width="19.45" height="4.44" fill="rgb(31, 98, 58)"/><rect x="112.05" y="329.85" width="19.45" height="4.44" fill="rgb(7, 180, 84)"/><rect x="131.11" y="329.85" width="19.45" height="4.44" fill="rgb(5, 172, 86)"/><rect x="150.16" y="329.85" width="19.45" height="4.44" fill="rgb(5, 171, 85)"/><rect x="169.21" y="329.85" width="19.45" height="4.44" fill="rgb(166, 52, 47)"/><rect x="188.26" y="329.85" width="19.45" height="4.44" fill="rgb(166, 57, 51)"/><rect x="207.32" y="329.85" width="19.45" height="4.44" fill="rgb(4, 177, 90)"/><rect x="226.37" y="329.85" width="19.45" height="4.44" fill="rgb(27, 103, 59)"/><rect x="245.42" y="329.85" width="19.45" height="4.44" fill="rgb(30, 104, 58)"/><rect x="264.47" y="329.85" width="19.45" height="4.44" fill="rgb(167, 57, 49)"/><rect x="283.53" y="329.85" width="19.45" height="4.44" fill="rgb(118, 38, 39)"/><rect x="302.58" y="329.85" width="19.45" height="4.44" fill="rgb(179, 52, 50)"/><rect x="321.63" y="329.85" width="19.45" height="4.44" fill="rgb(168, 57, 52)"/><rect x="340.68" y="329.85" width="19.45" height="4.44" fill="rgb(179, 53, 46)"/><rect x="359.74" y="329.85" width="19.45" height="4.44" fill="rgb(235, 62, 54)"/><rect x="378.79" y="329.85" width="19.45" height="4.44" fill="rgb(4, 173, 83)"/><rect x="397.84" y="329.85" width="19.45" height="4.44" fill="rgb(6, 167, 85)"/><rect x="416.89" y="329.85" width="19.45" height="4.44" fill="rgb(5, 172, 90)"/><rect x="435.95" y="329.85" width="19.45" height="4.44" fill="rgb(3, 175, 84)"/><rect x="93.00" y="333.89" width="19.45" height="4.44" fill="rgb(113, 40, 38)"/><rect x="112.05" y="333.89" width="19.45" height="4.44" fill="rgb(52, 40, 32)"/><rect x="131.11" y="333.89" width="19.45" height="4.44" fill="rgb(113, 41, 35)"/><rect x="150.16" y="333.89" width="19.45" height="4.44" fill="rgb(4, 167, 90)"/><rect x="169.21" y="333.89" width="19.45" height="4.44" fill="rgb(7, 175, 93)"/><rect x="188.26" y="333.89" width="19.45" height="4.44" fill="rgb(7, 168, 85)"/><rect x="207.32" y="333.89" width="19.45" height="4.44" fill="rgb(118, 36, 37)"/><rect x="226.37" y="333.89" width="19.45" height="4.44" fill="rgb(4, 164, 88)"/><rect x="245.42" y="333.89" width="19.45" height="4.44" fill="rgb(167, 59, 52)"/><rect x="264.47" y="333.89" width="19.45" height="4.44" fill="rgb(27, 100, 58)"/><rect x="283.53" y="333.89" width="19.45" height="4.44" fill="rgb(116, 40, 36)"/><rect x="302.58" y="333.89" width="19.45" height="4.44" fill="rgb(6, 172, 91)"/><rect x="321.63" y="333.89" width="19.45" height="4.44" fill="rgb(110, 36, 36)"/><rect x="340.68" y="333.89" width="19.45" height="4.44" fill="rgb(115, 38, 38)"/><rect x="359.74" y="333.89" width="19.45" height="4.44" fill="rgb(225, 60, 57)"/><rect x="378.79" y="333.89" width="19.45" height="4.44" fill="rgb(177, 58, 48)"/><rect x="397.84" y="333.89" width="19.45" height="4.44" fill="rgb(173, 59, 53)"/><rect x="416.89" y="333.89" width="19.45" height="4.44" fill="rgb(176, 52, 49)"/><rect x="435.95" y="333.89" width="19.45" height="4.44" fill="rgb(176, 54, 46)"/><rect x="93.00" y="337.92" width="19.45" height="4.44" fill="rgb(122, 42, 34)"/><rect x="112.05" y="337.92" width="19.45" height="4.44" fill="rgb(5, 174, 85)"/><rect x="131.11" y="337.92" width="19.45" height="4.44" fill="rgb(4, 176, 90)"/><rect x="150.16" y="337.92" width="19.45" height="4.44" fill="rgb(5, 164, 86)"/><rect x="169.21" y="337.92" width="19.45" height="4.44" fill="rgb(4, 180, 83)"/><rect x="188.26" y="337.92" width="19.45" height="4.44" fill="rgb(26, 107, 58)"/><rect x="207.32" y="337.92" width="19.45" height="4.44" fill="rgb(4, 164, 84)"/><rect x="226.37" y="337.92" width="19.45" height="4.44" fill="rgb(28, 108, 59)"/><rect x="245.42" y="337.92" width="19.45" height="4.44" fill="rgb(4, 176, 87)"/><rect x="264.47" y="337.92" width="19.45" height="4.44" fill="rgb(5, 165, 85)"/><rect x="283.53" y="337.92" width="19.45" height="4.44" fill="rgb(8, 165, 85)"/><rect x="302.58" y="337.92" width="19.45" height="4.44" fill="rgb(178, 59, 53)"/><rect x="321.63" y="337.92" width="19.45" height="4.44" fill="rgb(173, 59, 50)"/><rect x="340.68" y="337.92" width="19.45" height="4.44" fill="rgb(170, 55, 51)"/><rect x="359.74" y="337.92" width="19.45" height="4.44" fill="rgb(237, 58, 55)"/><rect x="378.79" y="337.92" width="19.45" height="4.44" fill="rgb(122, 37, 39)"/><rect x="397.84" y="337.92" width="19.45" height="4.44" fill="rgb(113, 38, 35)"/><rect x="416.89" y="337.92" width="19.45" height="4.44" fill="rgb(27, 109, 58)"/><rect x="435.95" y="337.92" width="19.45" height="4.44" fill="rgb(30, 101, 59)"/><rect x="93.00" y="341.96" width="19.45" height="4.44" fill="rgb(7, 169, 84)"/><rect x="112.05" y="341.96" width="19.45" height="4.44" fill="rgb(114, 42, 39)"/><rect x="131.11" y="341.96" width="19.45" height="4.44" fill="rgb(28, 98, 64)"/><rect x="150.16" y="341.96" width="19.45" height="4.44" fill="rgb(28, 108, 66)"/><rect x="169.21" y="341.96" width="19.45" height="4.44" fill="rgb(5, 178, 91)"/><rect x="188.26" y="341.96" width="19.45" height="4.44" fill="rgb(4, 169, 86)"/><rect x="207.32" y="341.96" width="19.45" height="4.44" fill="rgb(114, 39, 34)"/><rect x="226.37" y="341.96" width="19.45" height="4.44" fill="rgb(169, 59, 49)"/><rect x="245.42" y="341.96" width="19.45" height="4.44" fill="rgb(28, 108, 64)"/><rect x="264.47" y="341.96" width="19.45" height="4.44" fill="rgb(4, 179, 91)"/><rect x="283.53" y="341.96" width="19.45" height="4.44" fill="rgb(8, 175, 90)"/><rect x="302.58" y="341.96" width="19.45" height="4.44" fill="rgb(7, 167, 89)"/><rect x="321.63" y="341.96" width="19.45" height="4.44" fill="rgb(114, 42, 34)"/><rect x="340.68" y="341.96" width="19.45" height="4.44" fill="rgb(116, 38, 39)"/><rect x="359.74" y="341.96" width="19.45" height="4.44" fill="rgb(228, 65, 60)"/><rect x="378.79" y="341.96" width="19.45" height="4.44" fill="rgb(240, 58, 61)"/><rect x="397.84" y="341.96" width="19.45" height="4.44" fill="rgb(237, 63, 59)"/><rect x="416.89" y="341.96" width="19.45" height="4.44" fill="rgb(221, 65, 58)"/><rect x="435.95" y="341.96" width="19.45" height="4.44" fill="rgb(173, 54, 52)"/></g></g>
<text transform="translate(68.70,28.30) scale(1.07,1)" text-anchor="end" class="gi">SPARC</text><text transform="translate(68.70,41.30) scale(1.07,1)" text-anchor="end" class="gi">IL13RA2</text><text transform="translate(68.70,56.30) scale(1.07,1)" text-anchor="end" class="gi">MMP1</text><text transform="translate(68.70,67.50) scale(1.07,1)" text-anchor="end" class="gi">EREG</text><text transform="translate(68.70,87.00) scale(1.07,1)" text-anchor="end" class="gi">COX2</text><text transform="translate(68.70,133.70) scale(1.07,1)" text-anchor="end" class="gi">CXCL1</text><text transform="translate(68.70,145.80) scale(1.07,1)" text-anchor="end" class="gi">MMP2</text><text transform="translate(68.70,185.00) scale(1.07,1)" text-anchor="end" class="gi">ID1</text><text transform="translate(68.70,286.30) scale(1.07,1)" text-anchor="end" class="gi">RARRES3</text><text transform="translate(68.70,298.30) scale(1.07,1)" text-anchor="end" class="gi">EFEMP1</text><text transform="translate(68.70,312.20) scale(1.07,1)" text-anchor="end" class="gi">MATN2</text><text transform="translate(68.70,325.80) scale(1.07,1)" text-anchor="end" class="gi">LY6E</text>
<rect x="77" y="24.3" width="16" height="2" fill="#3c4f9c"/><rect x="455.5" y="24.3" width="17" height="2" fill="#3c4f9c"/><rect x="77" y="35.7" width="16" height="2" fill="#3c4f9c"/><rect x="455.5" y="35.7" width="17" height="2" fill="#3c4f9c"/><rect x="77" y="53.2" width="16" height="2" fill="#3c4f9c"/><rect x="455.5" y="53.2" width="17" height="2" fill="#3c4f9c"/><rect x="77" y="57.8" width="16" height="2" fill="#3c4f9c"/><rect x="455.5" y="57.8" width="17" height="2" fill="#3c4f9c"/><rect x="77" y="79.0" width="16" height="2" fill="#3c4f9c"/><rect x="455.5" y="79.0" width="17" height="2" fill="#3c4f9c"/><rect x="77" y="131.5" width="16" height="2" fill="#3c4f9c"/><rect x="455.5" y="131.5" width="17" height="2" fill="#3c4f9c"/><rect x="77" y="134.8" width="16" height="2" fill="#3c4f9c"/><rect x="455.5" y="134.8" width="17" height="2" fill="#3c4f9c"/><rect x="77" y="181.0" width="16" height="2" fill="#3c4f9c"/><rect x="455.5" y="181.0" width="17" height="2" fill="#3c4f9c"/><rect x="77" y="289.5" width="16" height="2" fill="#3c4f9c"/><rect x="455.5" y="289.5" width="17" height="2" fill="#3c4f9c"/><rect x="77" y="294.8" width="16" height="2" fill="#3c4f9c"/><rect x="455.5" y="294.8" width="17" height="2" fill="#3c4f9c"/><rect x="77" y="303.5" width="16" height="2" fill="#3c4f9c"/><rect x="455.5" y="303.5" width="17" height="2" fill="#3c4f9c"/><rect x="77" y="318.2" width="16" height="2" fill="#3c4f9c"/><rect x="455.5" y="318.2" width="17" height="2" fill="#3c4f9c"/>
<rect x="93" y="349.3" width="93.5" height="4" fill="#d94848"/><rect x="189.7" y="349.3" width="112" height="4" fill="#1aa0dc"/><rect x="304.2" y="349.3" width="152.5" height="4" fill="#10a05a"/>
<text transform="translate(111.13,361.20) rotate(-90)" text-anchor="end" class="cn">4142</text><text transform="translate(130.18,361.20) rotate(-90)" text-anchor="end" class="cn">4180</text><text transform="translate(149.23,361.20) rotate(-90)" text-anchor="end" class="cn">4175</text><text transform="translate(168.28,361.20) rotate(-90)" text-anchor="end" class="cn">4173</text><text transform="translate(187.34,361.20) rotate(-90)" text-anchor="end" class="cn">3481</text><text transform="translate(206.39,361.20) rotate(-90)" text-anchor="end" class="cn">2295</text><text transform="translate(225.44,361.20) rotate(-90)" text-anchor="end" class="cn">1834</text><text transform="translate(244.49,361.20) rotate(-90)" text-anchor="end" class="cn">Scp 28</text><text transform="translate(263.55,361.20) rotate(-90)" text-anchor="end" class="cn">Scp 43</text><text transform="translate(282.60,361.20) rotate(-90)" text-anchor="end" class="cn">Scp 3</text><text transform="translate(301.65,361.20) rotate(-90)" text-anchor="end" class="cn">Scp 32</text><text transform="translate(320.71,361.20) rotate(-90)" text-anchor="end" class="cn">Scp 6</text><text transform="translate(339.76,361.20) rotate(-90)" text-anchor="end" class="cn">Scp 21</text><text transform="translate(358.81,361.20) rotate(-90)" text-anchor="end" class="cn">Scp 26</text><text transform="translate(377.86,361.20) rotate(-90)" text-anchor="end" class="cn">Parental</text><text transform="translate(396.92,361.20) rotate(-90)" text-anchor="end" class="cn">Scp 25</text><text transform="translate(415.97,361.20) rotate(-90)" text-anchor="end" class="cn">Scp 46</text><text transform="translate(435.02,361.20) rotate(-90)" text-anchor="end" class="cn">Scp 2</text><text transform="translate(454.07,361.20) rotate(-90)" text-anchor="end" class="cn">1833</text>
<path d="M82.8 486.7V658.5H265.3" stroke="#333" stroke-width="1" fill="none"/><path d="M80.5 486.7H82.8" stroke="#333" stroke-width="1"/><path d="M80.5 515.3H82.8" stroke="#333" stroke-width="1"/><path d="M80.5 543.8H82.8" stroke="#333" stroke-width="1"/><path d="M80.5 572.5H82.8" stroke="#333" stroke-width="1"/><path d="M80.5 601H82.8" stroke="#333" stroke-width="1"/><path d="M80.5 629.5H82.8" stroke="#333" stroke-width="1"/><path d="M83.3 658.5V661" stroke="#333" stroke-width="1"/><path d="M119.8 658.5V661" stroke="#333" stroke-width="1"/><path d="M156.3 658.5V661" stroke="#333" stroke-width="1"/><path d="M192.8 658.5V661" stroke="#333" stroke-width="1"/><path d="M229.3 658.5V661" stroke="#333" stroke-width="1"/><path d="M265.8 658.5V661" stroke="#333" stroke-width="1"/><text transform="translate(77.70,492.90) scale(1.05,1)" text-anchor="end" class="ax">100,000</text><text transform="translate(77.70,521.50) scale(1.05,1)" text-anchor="end" class="ax">10,000</text><text transform="translate(77.70,550.00) scale(1.05,1)" text-anchor="end" class="ax">1,000</text><text transform="translate(77.70,578.70) scale(1.05,1)" text-anchor="end" class="ax">100</text><text transform="translate(77.70,607.20) scale(1.05,1)" text-anchor="end" class="ax">10</text><text transform="translate(77.70,635.70) scale(1.05,1)" text-anchor="end" class="ax">1</text><text transform="translate(77.70,664.20) scale(1.05,1)" text-anchor="end" class="ax">0</text><text transform="translate(83.30,677.00) scale(1.05,1)" text-anchor="middle" class="ax">0</text><text transform="translate(119.80,677.00) scale(1.05,1)" text-anchor="middle" class="ax">2</text><text transform="translate(156.30,677.00) scale(1.05,1)" text-anchor="middle" class="ax">4</text><text transform="translate(192.80,677.00) scale(1.05,1)" text-anchor="middle" class="ax">6</text><text transform="translate(229.30,677.00) scale(1.05,1)" text-anchor="middle" class="ax">8</text><text transform="translate(265.80,677.00) scale(1.05,1)" text-anchor="middle" class="ax">10</text><text transform="translate(174.20,692.50) scale(1.06,1)" text-anchor="middle" class="ax2">Weeks after xenografting</text><text transform="translate(12.30,568.30) rotate(-90) scale(1.07,1)" text-anchor="middle" class="ax">Normalized photon flux</text><path d="M247.6 499.5V506M245.8 499.5H249.4M245.8 506H249.4" stroke="#555" stroke-width="0.9" fill="none"/><path d="M247.6 510V521M245.8 510H249.4M245.8 521H249.4" stroke="#555" stroke-width="0.9" fill="none"/><path d="M247.6 525V537.5M245.8 525H249.4M245.8 537.5H249.4" stroke="#555" stroke-width="0.9" fill="none"/><path d="M229.3 540V547.5M227.5 540H231.1M227.5 547.5H231.1" stroke="#555" stroke-width="0.9" fill="none"/><path d="M229.3 549V557.5M227.5 549H231.1M227.5 557.5H231.1" stroke="#555" stroke-width="0.9" fill="none"/><path d="M229.3 571V582.5M227.5 571H231.1M227.5 582.5H231.1" stroke="#555" stroke-width="0.9" fill="none"/><path d="M247.6 595V604M245.8 595H249.4M245.8 604H249.4" stroke="#555" stroke-width="0.9" fill="none"/><path d="M229.3 612V619M227.5 612H231.1M227.5 619H231.1" stroke="#555" stroke-width="0.9" fill="none"/><path d="M229.3 641V648M227.5 641H231.1M227.5 648H231.1" stroke="#555" stroke-width="0.9" fill="none"/><path d="M119.8 588V619M118.0 588H121.6M118.0 619H121.6" stroke="#555" stroke-width="0.9" fill="none"/><path d="M101.5 605V610M99.8 605H103.3M99.8 610H103.3" stroke="#555" stroke-width="0.9" fill="none"/><path d="M138.1 604V616M136.2 604H139.9M136.2 616H139.9" stroke="#555" stroke-width="0.9" fill="none"/><path d="M119.8 597V606M118.0 597H121.6M118.0 606H121.6" stroke="#555" stroke-width="0.9" fill="none"/><path d="M192.8 598V604M191.0 598H194.6M191.0 604H194.6" stroke="#555" stroke-width="0.9" fill="none"/><path d="M156.3 592V598M154.5 592H158.1M154.5 598H158.1" stroke="#555" stroke-width="0.9" fill="none"/><path d="M83.3 573 L101.5 600 L119.8 575.7 L156.3 552 L192.8 535 L247.6 502.5" stroke="#cf3f3a" stroke-width="1.5" fill="none" stroke-linejoin="round"/><path d="M83.3 573 L101.5 604 L116.2 601.5 L156.3 568 L192.8 540 L247.6 514.7" stroke="#d4695e" stroke-width="1.5" fill="none" stroke-linejoin="round"/><path d="M83.3 573 L101.5 590 L119.8 584 L138.1 577 L156.3 567 L192.8 556.7 L247.6 530" stroke="#2f3a8a" stroke-width="1.5" fill="none" stroke-linejoin="round"/><path d="M83.3 573 L101.5 593 L119.8 590 L138.1 577 L156.3 573.3 L192.8 560 L229.3 551.7" stroke="#3e7fc4" stroke-width="1.5" fill="none" stroke-linejoin="round"/><path d="M83.3 573 L101.5 590 L116.2 579 L138.1 559 L156.3 562.3 L192.8 555 L229.3 544" stroke="#3e7fc4" stroke-width="1.5" fill="none" stroke-linejoin="round"/><path d="M83.3 573 L101.5 596 L119.8 595 L156.3 595 L174.6 593.3 L229.3 576.2" stroke="#3e7fc4" stroke-width="1.5" fill="none" stroke-linejoin="round"/><path d="M83.3 573 L101.5 597 L119.8 597 L156.3 596.5 L174.6 594.5 L229.3 577.8" stroke="#3e7fc4" stroke-width="1.5" fill="none" stroke-linejoin="round"/><path d="M83.3 573 L101.5 586 L119.8 595 L156.3 595 L192.8 600 L247.6 597.7" stroke="#17975a" stroke-width="1.9" fill="none" stroke-linejoin="round"/><path d="M83.3 573 L101.5 597 L119.8 596 L156.3 596 L211.1 601.7 L247.6 608.3" stroke="#1ea565" stroke-width="1.9" fill="none" stroke-linejoin="round"/><path d="M83.3 573 L101.5 598 L116.2 601.7 L138.1 610 L156.3 615 L229.3 615.7" stroke="#1ea565" stroke-width="1.9" fill="none" stroke-linejoin="round"/><path d="M83.3 573 L101.5 604 L116.2 618 L119.8 625 L174.6 624.3 L229.3 628.3" stroke="#1ea565" stroke-width="1.9" fill="none" stroke-linejoin="round"/><path d="M83.3 573 L101.5 604 L116.2 618 L138.1 631.7 L156.3 639.3 L229.3 645" stroke="#17975a" stroke-width="1.9" fill="none" stroke-linejoin="round"/><rect x="81.1" y="570.8" width="4.4" height="4.4" fill="#cf3f3a"/><rect x="99.3" y="597.8" width="4.4" height="4.4" fill="#cf3f3a"/><rect x="117.6" y="573.5" width="4.4" height="4.4" fill="#cf3f3a"/><rect x="154.1" y="549.8" width="4.4" height="4.4" fill="#cf3f3a"/><rect x="190.6" y="532.8" width="4.4" height="4.4" fill="#cf3f3a"/><rect x="245.4" y="500.3" width="4.4" height="4.4" fill="#cf3f3a"/><circle cx="83.3" cy="573.0" r="1.8" fill="#d4695e"/><circle cx="101.5" cy="604.0" r="1.8" fill="#d4695e"/><circle cx="116.2" cy="601.5" r="1.8" fill="#d4695e"/><circle cx="156.3" cy="568.0" r="1.8" fill="#d4695e"/><circle cx="192.8" cy="540.0" r="1.8" fill="#d4695e"/><circle cx="247.6" cy="514.7" r="1.8" fill="#d4695e"/><circle cx="83.3" cy="573.0" r="1.8" fill="#fff" stroke="#2f3a8a" stroke-width="1"/><circle cx="101.5" cy="590.0" r="1.8" fill="#fff" stroke="#2f3a8a" stroke-width="1"/><circle cx="119.8" cy="584.0" r="1.8" fill="#fff" stroke="#2f3a8a" stroke-width="1"/><circle cx="138.1" cy="577.0" r="1.8" fill="#fff" stroke="#2f3a8a" stroke-width="1"/><circle cx="156.3" cy="567.0" r="1.8" fill="#fff" stroke="#2f3a8a" stroke-width="1"/><circle cx="192.8" cy="556.7" r="1.8" fill="#fff" stroke="#2f3a8a" stroke-width="1"/><circle cx="247.6" cy="530.0" r="1.8" fill="#fff" stroke="#2f3a8a" stroke-width="1"/><path d="M83.3 570.3L85.8 574.9L80.8 574.9Z" fill="#3e7fc4"/><path d="M101.5 590.3L104.0 594.9L99.0 594.9Z" fill="#3e7fc4"/><path d="M119.8 587.3L122.3 591.9L117.3 591.9Z" fill="#3e7fc4"/><path d="M138.1 574.3L140.6 578.9L135.6 578.9Z" fill="#3e7fc4"/><path d="M156.3 570.6L158.8 575.2L153.8 575.2Z" fill="#3e7fc4"/><path d="M192.8 557.3L195.3 561.9L190.3 561.9Z" fill="#3e7fc4"/><path d="M229.3 549.0L231.8 553.6L226.8 553.6Z" fill="#3e7fc4"/><rect x="81.1" y="570.8" width="4.4" height="4.4" fill="#3e7fc4"/><rect x="99.3" y="587.8" width="4.4" height="4.4" fill="#3e7fc4"/><rect x="114.0" y="576.8" width="4.4" height="4.4" fill="#3e7fc4"/><rect x="135.9" y="556.8" width="4.4" height="4.4" fill="#3e7fc4"/><rect x="154.1" y="560.1" width="4.4" height="4.4" fill="#3e7fc4"/><rect x="190.6" y="552.8" width="4.4" height="4.4" fill="#3e7fc4"/><rect x="227.1" y="541.8" width="4.4" height="4.4" fill="#3e7fc4"/><circle cx="83.3" cy="573.0" r="1.8" fill="#3e7fc4"/><circle cx="101.5" cy="596.0" r="1.8" fill="#3e7fc4"/><circle cx="119.8" cy="595.0" r="1.8" fill="#3e7fc4"/><circle cx="156.3" cy="595.0" r="1.8" fill="#3e7fc4"/><circle cx="174.6" cy="593.3" r="1.8" fill="#3e7fc4"/><circle cx="229.3" cy="576.2" r="1.8" fill="#3e7fc4"/><path d="M83.3 570.8L85.5 573.0L83.3 575.2L81.1 573.0Z" fill="#3e7fc4"/><path d="M101.5 594.8L103.8 597.0L101.5 599.2L99.3 597.0Z" fill="#3e7fc4"/><path d="M119.8 594.8L122.0 597.0L119.8 599.2L117.6 597.0Z" fill="#3e7fc4"/><path d="M156.3 594.3L158.5 596.5L156.3 598.7L154.1 596.5Z" fill="#3e7fc4"/><path d="M174.6 592.3L176.8 594.5L174.6 596.7L172.4 594.5Z" fill="#3e7fc4"/><path d="M229.3 575.6L231.5 577.8L229.3 580.0L227.1 577.8Z" fill="#3e7fc4"/><path d="M83.3 570.3L85.8 574.9L80.8 574.9Z" fill="#17975a"/><path d="M101.5 583.3L104.0 587.9L99.0 587.9Z" fill="#17975a"/><path d="M119.8 592.3L122.3 596.9L117.3 596.9Z" fill="#17975a"/><path d="M156.3 592.3L158.8 596.9L153.8 596.9Z" fill="#17975a"/><path d="M192.8 597.3L195.3 601.9L190.3 601.9Z" fill="#17975a"/><path d="M247.6 595.0L250.1 599.6L245.1 599.6Z" fill="#17975a"/><path d="M83.3 570.8L85.5 573.0L83.3 575.2L81.1 573.0Z" fill="#1ea565"/><path d="M101.5 594.8L103.8 597.0L101.5 599.2L99.3 597.0Z" fill="#1ea565"/><path d="M119.8 593.8L122.0 596.0L119.8 598.2L117.6 596.0Z" fill="#1ea565"/><path d="M156.3 593.8L158.5 596.0L156.3 598.2L154.1 596.0Z" fill="#1ea565"/><path d="M211.1 599.5L213.2 601.7L211.1 603.9L208.9 601.7Z" fill="#1ea565"/><path d="M247.6 606.1L249.8 608.3L247.6 610.5L245.4 608.3Z" fill="#1ea565"/><path d="M83.3 570.3L85.8 574.9L80.8 574.9Z" fill="#1ea565"/><path d="M101.5 595.3L104.0 599.9L99.0 599.9Z" fill="#1ea565"/><path d="M116.2 599.0L118.7 603.6L113.7 603.6Z" fill="#1ea565"/><path d="M138.1 607.3L140.6 611.9L135.6 611.9Z" fill="#1ea565"/><path d="M156.3 612.3L158.8 616.9L153.8 616.9Z" fill="#1ea565"/><path d="M229.3 613.0L231.8 617.6L226.8 617.6Z" fill="#1ea565"/><circle cx="83.3" cy="573.0" r="1.8" fill="#1ea565"/><circle cx="101.5" cy="604.0" r="1.8" fill="#1ea565"/><circle cx="116.2" cy="618.0" r="1.8" fill="#1ea565"/><circle cx="119.8" cy="625.0" r="1.8" fill="#1ea565"/><circle cx="174.6" cy="624.3" r="1.8" fill="#1ea565"/><circle cx="229.3" cy="628.3" r="1.8" fill="#1ea565"/><rect x="81.1" y="570.8" width="4.4" height="4.4" fill="#17975a"/><rect x="99.3" y="601.8" width="4.4" height="4.4" fill="#17975a"/><rect x="114.0" y="615.8" width="4.4" height="4.4" fill="#17975a"/><rect x="135.9" y="629.5" width="4.4" height="4.4" fill="#17975a"/><rect x="154.1" y="637.1" width="4.4" height="4.4" fill="#17975a"/><rect x="227.1" y="642.8" width="4.4" height="4.4" fill="#17975a"/><path d="M270 505.2H283" stroke="#cf3f3a" stroke-width="1.3"/><rect x="274.3" y="503.0" width="4.4" height="4.4" fill="#cf3f3a"/><text transform="translate(286.00,511.10) scale(1.04,1)" text-anchor="start" class="lg">4175</text><path d="M270 517.8H283" stroke="#d4695e" stroke-width="1.3"/><circle cx="276.5" cy="517.8" r="1.8" fill="#d4695e"/><text transform="translate(286.00,523.65) scale(1.04,1)" text-anchor="start" class="lg">4142</text><path d="M270 530.3H283" stroke="#2f3a8a" stroke-width="1.3"/><circle cx="276.5" cy="530.3" r="1.8" fill="#fff" stroke="#2f3a8a" stroke-width="1"/><text transform="translate(286.00,536.20) scale(1.04,1)" text-anchor="start" class="lg">1834</text><path d="M270 542.9H283" stroke="#3e7fc4" stroke-width="1.3"/><path d="M276.5 540.1L279.0 544.8L274.0 544.8Z" fill="#3e7fc4"/><text transform="translate(286.00,548.75) scale(1.04,1)" text-anchor="start" class="lg">Scp 3</text><path d="M270 555.4H283" stroke="#3e7fc4" stroke-width="1.3"/><rect x="274.3" y="553.2" width="4.4" height="4.4" fill="#3e7fc4"/><text transform="translate(286.00,561.30) scale(1.04,1)" text-anchor="start" class="lg">Scp 28</text><path d="M270 568.0H283" stroke="#3e7fc4" stroke-width="1.3"/><circle cx="276.5" cy="568.0" r="1.8" fill="#3e7fc4"/><text transform="translate(286.00,573.85) scale(1.04,1)" text-anchor="start" class="lg">Scp 32</text><path d="M270 580.5H283" stroke="#3e7fc4" stroke-width="1.3"/><path d="M276.5 578.3L278.7 580.5L276.5 582.7L274.3 580.5Z" fill="#3e7fc4"/><text transform="translate(286.00,586.40) scale(1.04,1)" text-anchor="start" class="lg">Scp 43</text><path d="M270 593.0H283" stroke="#17975a" stroke-width="1.3"/><path d="M276.5 590.3L279.0 595.0L274.0 595.0Z" fill="#17975a"/><text transform="translate(286.00,598.95) scale(1.04,1)" text-anchor="start" class="lg">Parental</text><path d="M270 605.6H283" stroke="#1ea565" stroke-width="1.3"/><path d="M276.5 603.4L278.7 605.6L276.5 607.8L274.3 605.6Z" fill="#1ea565"/><text transform="translate(286.00,611.50) scale(1.04,1)" text-anchor="start" class="lg">Scp 2</text><path d="M270 618.1H283" stroke="#1ea565" stroke-width="1.3"/><path d="M276.5 615.4L279.0 620.1L274.0 620.1Z" fill="#1ea565"/><text transform="translate(286.00,624.05) scale(1.04,1)" text-anchor="start" class="lg">Scp 21</text><path d="M270 630.7H283" stroke="#1ea565" stroke-width="1.3"/><circle cx="276.5" cy="630.7" r="1.8" fill="#1ea565"/><text transform="translate(286.00,636.60) scale(1.04,1)" text-anchor="start" class="lg">Scp 26</text><path d="M270 643.2H283" stroke="#17975a" stroke-width="1.3"/><rect x="274.3" y="641.0" width="4.4" height="4.4" fill="#17975a"/><text transform="translate(286.00,649.15) scale(1.04,1)" text-anchor="start" class="lg">Scp 6</text>
<rect x="423.5" y="530.8" width="21.5" height="24.200000000000045" fill="#aeb4bc" stroke="#333337" stroke-width="1.4"/><rect x="448.0" y="530.8" width="120.5" height="24.200000000000045" fill="#aeb4bc" stroke="#333337" stroke-width="1.4"/><rect x="572.0" y="530.8" width="26.0" height="24.200000000000045" fill="#aeb4bc" stroke="#333337" stroke-width="1.4"/><rect x="423.5" y="559.3" width="21.5" height="23.5" fill="#aeb4bc" stroke="#333337" stroke-width="1.4"/><rect x="448.0" y="559.3" width="120.5" height="23.5" fill="#aeb4bc" stroke="#333337" stroke-width="1.4"/><rect x="572.0" y="559.3" width="26.0" height="23.5" fill="#aeb4bc" stroke="#333337" stroke-width="1.4"/><rect x="423.5" y="587.3" width="21.5" height="23.200000000000045" fill="#aeb4bc" stroke="#333337" stroke-width="1.4"/><rect x="448.0" y="587.3" width="120.5" height="23.200000000000045" fill="#aeb4bc" stroke="#333337" stroke-width="1.4"/><rect x="572.0" y="587.3" width="26.0" height="23.200000000000045" fill="#aeb4bc" stroke="#333337" stroke-width="1.4"/><rect x="423.5" y="614.0" width="21.5" height="23.0" fill="#aeb4bc" stroke="#333337" stroke-width="1.4"/><rect x="448.0" y="614.0" width="120.5" height="23.0" fill="#aeb4bc" stroke="#333337" stroke-width="1.4"/><rect x="572.0" y="614.0" width="26.0" height="23.0" fill="#aeb4bc" stroke="#333337" stroke-width="1.4"/><rect x="423.5" y="641.5" width="21.5" height="23.299999999999955" fill="#aeb4bc" stroke="#333337" stroke-width="1.4"/><rect x="448.0" y="641.5" width="120.5" height="23.299999999999955" fill="#aeb4bc" stroke="#333337" stroke-width="1.4"/><rect x="572.0" y="641.5" width="26.0" height="23.299999999999955" fill="#aeb4bc" stroke="#333337" stroke-width="1.4"/><rect x="423.5" y="669.0" width="21.5" height="24.100000000000023" fill="#aeb4bc" stroke="#333337" stroke-width="1.4"/><rect x="448.0" y="669.0" width="120.5" height="24.100000000000023" fill="#aeb4bc" stroke="#333337" stroke-width="1.4"/><rect x="572.0" y="669.0" width="26.0" height="24.100000000000023" fill="#aeb4bc" stroke="#333337" stroke-width="1.4"/><rect x="423.5" y="697.5" width="21.5" height="22.5" fill="#aeb4bc" stroke="#333337" stroke-width="1.4"/><rect x="448.0" y="697.5" width="120.5" height="22.5" fill="#aeb4bc" stroke="#333337" stroke-width="1.4"/><rect x="572.0" y="697.5" width="26.0" height="22.5" fill="#aeb4bc" stroke="#333337" stroke-width="1.4"/><rect x="423.5" y="724.5" width="21.5" height="22.399999999999977" fill="#9aa0a8" stroke="#333337" stroke-width="1.4"/><rect x="448.0" y="724.5" width="120.5" height="22.399999999999977" fill="#9aa0a8" stroke="#333337" stroke-width="1.4"/><rect x="572.0" y="724.5" width="26.0" height="22.399999999999977" fill="#9aa0a8" stroke="#333337" stroke-width="1.4"/><rect x="423.5" y="752.0" width="21.5" height="21.799999999999955" fill="#aeb4bc" stroke="#333337" stroke-width="1.4"/><rect x="448.0" y="752.0" width="120.5" height="21.799999999999955" fill="#aeb4bc" stroke="#333337" stroke-width="1.4"/><rect x="572.0" y="752.0" width="26.0" height="21.799999999999955" fill="#aeb4bc" stroke="#333337" stroke-width="1.4"/><rect x="423.5" y="777.8" width="21.5" height="20.5" fill="#aeb4bc" stroke="#333337" stroke-width="1.4"/><rect x="448.0" y="777.8" width="120.5" height="20.5" fill="#aeb4bc" stroke="#333337" stroke-width="1.4"/><rect x="572.0" y="777.8" width="26.0" height="20.5" fill="#aeb4bc" stroke="#333337" stroke-width="1.4"/><rect x="423.5" y="810.0" width="174.5" height="23.200000000000045" fill="#bcc1c9" stroke="#333337" stroke-width="1.4"/><rect x="423.5" y="837.1" width="174.5" height="27.600000000000023" fill="#bcc1c9" stroke="#333337" stroke-width="1.4"/><rect x="423.5" y="868.5" width="174.5" height="22.799999999999955" fill="#bcc1c9" stroke="#333337" stroke-width="1.4"/><rect x="423.5" y="895.2" width="174.5" height="23.5" fill="#bcc1c9" stroke="#333337" stroke-width="1.4"/><rect x="423.5" y="922.9" width="174.5" height="23.200000000000045" fill="#bcc1c9" stroke="#333337" stroke-width="1.4"/><rect x="451.5" y="544.4" width="17.9" height="6.8" rx="3.4" fill="#141417" opacity="0.33" filter="url(#bl)"/><rect x="475.0" y="544.8" width="17.1" height="6.1" rx="3.0" fill="#141417" opacity="0.14" filter="url(#bl)"/><rect x="496.7" y="543.2" width="20.6" height="9.2" rx="4.5" fill="#141417" opacity="0.95" filter="url(#bl)"/><rect x="520.2" y="543.2" width="20.6" height="9.2" rx="4.5" fill="#141417" opacity="0.95" filter="url(#bl)"/><rect x="543.2" y="543.2" width="20.6" height="9.2" rx="4.5" fill="#141417" opacity="0.95" filter="url(#bl)"/><rect x="574.2" y="543.2" width="20.6" height="9.2" rx="4.5" fill="#141417" opacity="0.95" filter="url(#bl)"/><rect x="497.0" y="534.6" width="20.0" height="3.8" rx="1.9" fill="#141417" opacity="0.81" filter="url(#bl)"/><rect x="520.5" y="534.6" width="20.0" height="3.8" rx="1.9" fill="#141417" opacity="0.81" filter="url(#bl)"/><rect x="543.7" y="534.7" width="19.6" height="3.6" rx="1.8" fill="#141417" opacity="0.71" filter="url(#bl)"/><rect x="574.7" y="534.7" width="19.6" height="3.6" rx="1.8" fill="#141417" opacity="0.71" filter="url(#bl)"/><rect x="425.5" y="569.2" width="17.1" height="5.5" rx="2.8" fill="#141417" opacity="0.14" filter="url(#bl)"/><rect x="451.8" y="569.1" width="17.3" height="5.7" rx="2.9" fill="#141417" opacity="0.19" filter="url(#bl)"/><rect x="496.7" y="567.8" width="20.6" height="8.4" rx="4.2" fill="#141417" opacity="0.95" filter="url(#bl)"/><rect x="520.2" y="567.8" width="20.6" height="8.4" rx="4.2" fill="#141417" opacity="0.95" filter="url(#bl)"/><rect x="543.5" y="568.1" width="20.0" height="7.9" rx="3.9" fill="#141417" opacity="0.81" filter="url(#bl)"/><rect x="576.1" y="569.3" width="16.9" height="5.4" rx="2.7" fill="#141417" opacity="0.10" filter="url(#bl)"/><rect x="473.7" y="594.5" width="19.6" height="5.0" rx="2.5" fill="#141417" opacity="0.71" filter="url(#bl)"/><rect x="497.5" y="594.6" width="19.0" height="4.7" rx="2.4" fill="#141417" opacity="0.57" filter="url(#bl)"/><rect x="520.8" y="594.5" width="19.4" height="4.9" rx="2.5" fill="#141417" opacity="0.66" filter="url(#bl)"/><rect x="543.7" y="594.5" width="19.6" height="5.0" rx="2.5" fill="#141417" opacity="0.71" filter="url(#bl)"/><rect x="424.4" y="621.9" width="19.2" height="6.2" rx="3.1" fill="#141417" opacity="0.62" filter="url(#bl)"/><rect x="473.4" y="621.5" width="20.2" height="6.9" rx="3.5" fill="#141417" opacity="0.85" filter="url(#bl)"/><rect x="497.2" y="621.8" width="19.6" height="6.5" rx="3.2" fill="#141417" opacity="0.71" filter="url(#bl)"/><rect x="520.2" y="621.4" width="20.6" height="7.2" rx="3.6" fill="#141417" opacity="0.95" filter="url(#bl)"/><rect x="543.2" y="621.4" width="20.6" height="7.2" rx="3.6" fill="#141417" opacity="0.95" filter="url(#bl)"/><rect x="575.6" y="622.4" width="17.7" height="5.2" rx="2.6" fill="#141417" opacity="0.28" filter="url(#bl)"/><rect x="425.6" y="649.3" width="16.9" height="6.4" rx="3.2" fill="#141417" opacity="0.10" filter="url(#bl)"/><rect x="451.6" y="648.9" width="17.7" height="7.2" rx="3.6" fill="#141417" opacity="0.28" filter="url(#bl)"/><rect x="473.2" y="647.5" width="20.6" height="10.0" rx="4.5" fill="#141417" opacity="0.95" filter="url(#bl)"/><rect x="496.9" y="647.7" width="20.2" height="9.6" rx="4.5" fill="#141417" opacity="0.85" filter="url(#bl)"/><rect x="520.5" y="647.8" width="20.0" height="9.4" rx="4.5" fill="#141417" opacity="0.81" filter="url(#bl)"/><rect x="543.4" y="647.7" width="20.2" height="9.6" rx="4.5" fill="#141417" opacity="0.85" filter="url(#bl)"/><rect x="574.2" y="647.5" width="20.6" height="10.0" rx="4.5" fill="#141417" opacity="0.95" filter="url(#bl)"/><rect x="425.1" y="677.3" width="17.7" height="6.3" rx="3.2" fill="#141417" opacity="0.28" filter="url(#bl)"/><rect x="451.2" y="677.0" width="18.5" height="7.0" rx="3.5" fill="#141417" opacity="0.47" filter="url(#bl)"/><rect x="473.9" y="676.7" width="19.2" height="7.6" rx="3.8" fill="#141417" opacity="0.62" filter="url(#bl)"/><rect x="496.7" y="676.1" width="20.6" height="8.8" rx="4.4" fill="#141417" opacity="0.95" filter="url(#bl)"/><rect x="520.2" y="676.1" width="20.6" height="8.8" rx="4.4" fill="#141417" opacity="0.95" filter="url(#bl)"/><rect x="542.0" y="675.7" width="23.1" height="9.7" rx="4.5" fill="#141417" opacity="0.95" filter="url(#bl)"/><rect x="574.3" y="676.2" width="20.4" height="8.6" rx="4.3" fill="#141417" opacity="0.90" filter="url(#bl)"/><rect x="425.1" y="704.2" width="17.7" height="6.6" rx="3.3" fill="#141417" opacity="0.28" filter="url(#bl)"/><rect x="451.6" y="704.2" width="17.7" height="6.6" rx="3.3" fill="#141417" opacity="0.28" filter="url(#bl)"/><rect x="473.2" y="702.9" width="20.6" height="9.2" rx="4.5" fill="#141417" opacity="0.95" filter="url(#bl)"/><rect x="497.0" y="703.2" width="20.0" height="8.6" rx="4.3" fill="#141417" opacity="0.81" filter="url(#bl)"/><rect x="520.6" y="703.3" width="19.8" height="8.5" rx="4.2" fill="#141417" opacity="0.76" filter="url(#bl)"/><rect x="543.2" y="702.9" width="20.6" height="9.2" rx="4.5" fill="#141417" opacity="0.95" filter="url(#bl)"/><rect x="575.1" y="703.7" width="18.7" height="7.5" rx="3.8" fill="#141417" opacity="0.52" filter="url(#bl)"/><rect x="425.5" y="732.9" width="17.1" height="7.1" rx="3.6" fill="#141417" opacity="0.14" filter="url(#bl)"/><rect x="450.3" y="731.2" width="20.4" height="10.6" rx="4.5" fill="#141417" opacity="0.90" filter="url(#bl)"/><rect x="473.2" y="731.1" width="20.6" height="10.8" rx="4.5" fill="#141417" opacity="0.95" filter="url(#bl)"/><rect x="496.8" y="731.2" width="20.4" height="10.6" rx="4.5" fill="#141417" opacity="0.90" filter="url(#bl)"/><rect x="520.2" y="731.1" width="20.6" height="10.8" rx="4.5" fill="#141417" opacity="0.95" filter="url(#bl)"/><rect x="543.2" y="731.1" width="20.6" height="10.8" rx="4.5" fill="#141417" opacity="0.95" filter="url(#bl)"/><rect x="574.2" y="731.1" width="20.6" height="10.8" rx="4.5" fill="#141417" opacity="0.95" filter="url(#bl)"/><rect x="425.3" y="760.5" width="17.3" height="6.0" rx="3.0" fill="#141417" opacity="0.19" filter="url(#bl)"/><rect x="450.9" y="759.7" width="19.2" height="7.6" rx="3.8" fill="#141417" opacity="0.62" filter="url(#bl)"/><rect x="473.2" y="759.1" width="20.6" height="8.8" rx="4.4" fill="#141417" opacity="0.95" filter="url(#bl)"/><rect x="496.7" y="759.1" width="20.6" height="8.8" rx="4.4" fill="#141417" opacity="0.95" filter="url(#bl)"/><rect x="520.2" y="759.1" width="20.6" height="8.8" rx="4.4" fill="#141417" opacity="0.95" filter="url(#bl)"/><rect x="543.3" y="759.2" width="20.4" height="8.6" rx="4.3" fill="#141417" opacity="0.90" filter="url(#bl)"/><rect x="574.4" y="759.3" width="20.2" height="8.4" rx="4.2" fill="#141417" opacity="0.85" filter="url(#bl)"/><rect x="424.7" y="785.3" width="18.5" height="4.5" rx="2.2" fill="#141417" opacity="0.47" filter="url(#bl)"/><rect x="450.6" y="784.9" width="19.8" height="5.2" rx="2.6" fill="#141417" opacity="0.76" filter="url(#bl)"/><rect x="473.6" y="784.9" width="19.8" height="5.2" rx="2.6" fill="#141417" opacity="0.76" filter="url(#bl)"/><rect x="497.1" y="784.9" width="19.8" height="5.2" rx="2.6" fill="#141417" opacity="0.76" filter="url(#bl)"/><rect x="520.6" y="784.9" width="19.8" height="5.2" rx="2.6" fill="#141417" opacity="0.76" filter="url(#bl)"/><rect x="543.6" y="784.9" width="19.8" height="5.2" rx="2.6" fill="#141417" opacity="0.76" filter="url(#bl)"/><rect x="574.5" y="784.9" width="20.0" height="5.3" rx="2.6" fill="#141417" opacity="0.81" filter="url(#bl)"/><rect x="427.2" y="815.5" width="21.6" height="12.1" rx="4.5" fill="#141417" opacity="0.85" filter="url(#bl)"/><rect x="452.1" y="816.5" width="19.8" height="10.1" rx="4.5" fill="#141417" opacity="0.47" filter="url(#bl)"/><rect x="476.5" y="816.2" width="20.2" height="10.6" rx="4.5" fill="#141417" opacity="0.57" filter="url(#bl)"/><rect x="502.0" y="817.0" width="18.9" height="9.1" rx="4.5" fill="#141417" opacity="0.28" filter="url(#bl)"/><rect x="525.7" y="816.6" width="19.6" height="9.8" rx="4.5" fill="#141417" opacity="0.43" filter="url(#bl)"/><rect x="549.2" y="816.0" width="20.7" height="11.1" rx="4.5" fill="#141417" opacity="0.66" filter="url(#bl)"/><rect x="574.3" y="816.2" width="20.2" height="10.6" rx="4.5" fill="#141417" opacity="0.57" filter="url(#bl)"/><rect x="427.0" y="855.1" width="22.0" height="6.8" rx="3.4" fill="#141417" opacity="0.95" filter="url(#bl)"/><rect x="452.3" y="855.9" width="19.4" height="5.2" rx="2.6" fill="#141417" opacity="0.38" filter="url(#bl)"/><rect x="476.7" y="855.8" width="19.8" height="5.4" rx="2.7" fill="#141417" opacity="0.47" filter="url(#bl)"/><rect x="502.1" y="856.1" width="18.7" height="4.8" rx="2.4" fill="#141417" opacity="0.24" filter="url(#bl)"/><rect x="526.3" y="856.2" width="18.5" height="4.6" rx="2.3" fill="#141417" opacity="0.19" filter="url(#bl)"/><rect x="549.0" y="855.4" width="20.9" height="6.1" rx="3.1" fill="#141417" opacity="0.71" filter="url(#bl)"/><rect x="574.9" y="856.1" width="18.9" height="4.9" rx="2.4" fill="#141417" opacity="0.28" filter="url(#bl)"/><rect x="427.4" y="848.2" width="21.1" height="3.7" rx="1.8" fill="#141417" opacity="0.76" filter="url(#bl)"/><rect x="550.3" y="848.6" width="18.5" height="2.7" rx="1.4" fill="#141417" opacity="0.19" filter="url(#bl)"/><rect x="428.5" y="842.3" width="18.9" height="1.4" rx="0.7" fill="#141417" opacity="0.28" filter="url(#bl)"/><rect x="427.2" y="878.7" width="21.6" height="8.6" rx="4.3" fill="#141417" opacity="0.85" filter="url(#bl)"/><rect x="452.6" y="879.9" width="18.7" height="6.3" rx="3.1" fill="#141417" opacity="0.24" filter="url(#bl)"/><rect x="477.1" y="879.8" width="18.9" height="6.5" rx="3.2" fill="#141417" opacity="0.28" filter="url(#bl)"/><rect x="502.4" y="880.0" width="18.3" height="5.9" rx="3.0" fill="#141417" opacity="0.14" filter="url(#bl)"/><rect x="526.4" y="880.0" width="18.3" height="5.9" rx="3.0" fill="#141417" opacity="0.14" filter="url(#bl)"/><rect x="550.4" y="880.0" width="18.3" height="5.9" rx="3.0" fill="#141417" opacity="0.14" filter="url(#bl)"/><rect x="575.4" y="880.2" width="17.9" height="5.7" rx="2.8" fill="#141417" opacity="0.07" filter="url(#bl)"/><rect x="427.8" y="905.8" width="20.5" height="4.5" rx="2.2" fill="#141417" opacity="0.62" filter="url(#bl)"/><rect x="428.2" y="933.0" width="19.6" height="5.0" rx="2.5" fill="#141417" opacity="0.43" filter="url(#bl)"/><rect x="451.7" y="932.7" width="20.7" height="5.6" rx="2.8" fill="#141417" opacity="0.66" filter="url(#bl)"/><rect x="476.3" y="932.7" width="20.7" height="5.6" rx="2.8" fill="#141417" opacity="0.66" filter="url(#bl)"/><rect x="501.2" y="932.7" width="20.7" height="5.6" rx="2.8" fill="#141417" opacity="0.66" filter="url(#bl)"/><rect x="525.2" y="932.7" width="20.7" height="5.6" rx="2.8" fill="#141417" opacity="0.66" filter="url(#bl)"/><rect x="549.4" y="932.8" width="20.2" height="5.4" rx="2.7" fill="#141417" opacity="0.57" filter="url(#bl)"/><rect x="574.1" y="932.7" width="20.7" height="5.6" rx="2.8" fill="#141417" opacity="0.66" filter="url(#bl)"/><text transform="translate(415.50,549.50) scale(1.05,1)" text-anchor="end" class="ci">SPARC</text><text transform="translate(415.50,577.65) scale(1.05,1)" text-anchor="end" class="ci">IL13RA2</text><text transform="translate(415.50,605.50) scale(1.05,1)" text-anchor="end" class="ci">MMP2</text><text transform="translate(415.50,632.10) scale(1.05,1)" text-anchor="end" class="ci">VCAM1</text><text transform="translate(415.50,659.75) scale(1.05,1)" text-anchor="end" class="ci">ID1</text><text transform="translate(415.50,687.65) scale(1.05,1)" text-anchor="end" class="ci">MMP1</text><text transform="translate(415.50,715.35) scale(1.05,1)" text-anchor="end" class="ci">CXCL1</text><text transform="translate(415.50,742.30) scale(1.05,1)" text-anchor="end" class="ci">COX2</text><text transform="translate(415.50,769.50) scale(1.05,1)" text-anchor="end" class="ci">EREG</text><text transform="translate(415.50,794.65) scale(1.05,1)" text-anchor="end" class="ci">GAPDH</text><text transform="translate(415.50,828.20) scale(1.05,1)" text-anchor="end" class="ci">LY6E</text><text transform="translate(415.50,857.50) scale(1.05,1)" text-anchor="end" class="ci">EFEMP-1</text><text transform="translate(415.50,886.50) scale(1.05,1)" text-anchor="end" class="ci">RARRES-3</text><text transform="translate(415.50,913.55) scale(1.05,1)" text-anchor="end" class="ci">MATN2</text><text transform="translate(415.50,941.10) scale(1.05,1)" text-anchor="end" class="ci">GAPDH</text><text transform="translate(426.70,523.30) rotate(90) scale(1.02,1)" text-anchor="end" class="cc" style="fill:#10a05a">Parental</text><text transform="translate(456.60,523.30) rotate(90) scale(1.02,1)" text-anchor="end" class="cc" style="fill:#1a9ad6">1834</text><text transform="translate(479.10,523.30) rotate(90) scale(1.02,1)" text-anchor="end" class="cc" style="fill:#d6444a">3481</text><text transform="translate(501.30,523.30) rotate(90) scale(1.02,1)" text-anchor="end" class="cc" style="fill:#d6444a">4173</text><text transform="translate(524.50,523.30) rotate(90) scale(1.02,1)" text-anchor="end" class="cc" style="fill:#d6444a">4175</text><text transform="translate(544.50,523.30) rotate(90) scale(1.02,1)" text-anchor="end" class="cc" style="fill:#d6444a">4180</text><text transform="translate(576.90,523.30) rotate(90) scale(1.02,1)" text-anchor="end" class="cc" style="fill:#d6444a">4142</text>
</svg>
</body></html>
